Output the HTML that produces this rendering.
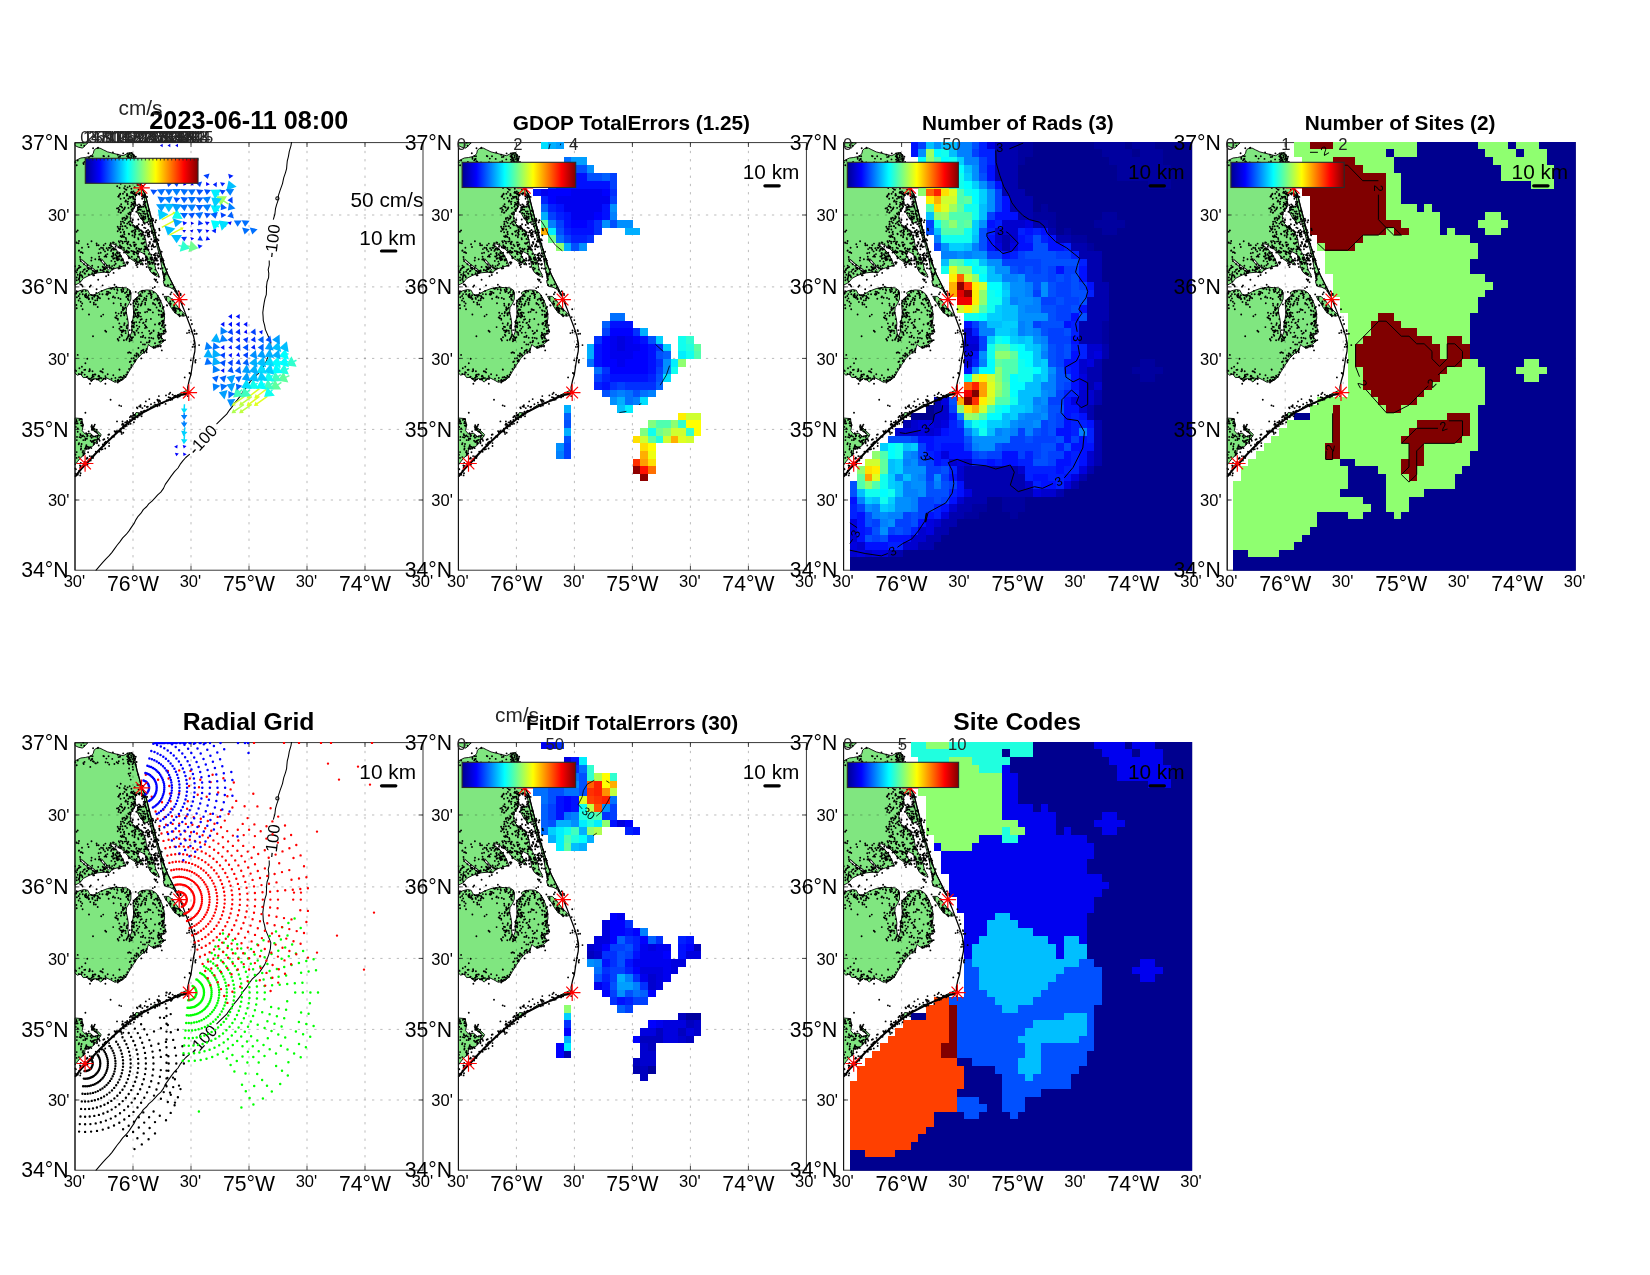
<!DOCTYPE html><html><head><meta charset="utf-8"><style>html,body{margin:0;padding:0;background:#fff}svg{display:block;will-change:transform;transform:translateZ(0)}text{font-family:"Liberation Sans",sans-serif}</style></head><body>
<svg width="1650" height="1275" viewBox="0 0 1650 1275">
<defs><linearGradient id="jet" x1="0" x2="1" y1="0" y2="0"><stop offset="0" stop-color="#00008F"/><stop offset="0.125" stop-color="#0000FF"/><stop offset="0.375" stop-color="#00FFFF"/><stop offset="0.625" stop-color="#FFFF00"/><stop offset="0.875" stop-color="#FF0000"/><stop offset="1" stop-color="#800000"/></linearGradient><g id="landfill"><path d="M-0.1 18.4 2.4 17.1 5.9 15.4 10.2 14.9 13.7 14.1 16.7 12.8 18.4 10.6 19.0 7.6 21.0 5.9 24.9 5.5 28.3 7.2 32.6 9.3 37.8 10.6 43.0 11.9 48.2 13.1 51.2 11.5 53.8 10.2 56.8 10.2 58.9 11.9 59.8 14.9 60.4 20.3 62.0 27.9 64.5 36.5 66.7 45.1 70.6 52.9 72.3 59.8 74.0 66.7 75.8 73.6 77.5 80.5 79.2 87.4 81.4 96.9 84.4 106.3 87.0 115.0 89.6 123.6 93.0 132.2 96.5 139.1 99.9 146.0 103.4 152.9 102.5 152.9 99.0 146.9 94.7 144.7 89.6 143.4 88.3 139.1 89.1 136.9 87.8 130.5 86.5 123.6 85.2 115.0 82.7 106.3 80.5 97.7 79.2 96.9 77.0 88.3 74.5 79.7 72.3 71.0 70.6 63.3 69.3 56.4 68.0 51.2 64.5 50.3 61.1 51.6 59.8 56.4 60.7 62.4 58.5 66.7 55.9 70.2 55.1 75.3 56.8 80.5 60.2 84.0 64.5 86.5 68.0 90.9 70.6 96.9 71.5 102.9 74.0 108.9 77.5 115.0 79.2 120.1 80.9 127.0 84.0 132.6 81.8 133.9 75.8 129.6 73.2 124.4 72.3 117.5 69.7 111.5 64.5 108.9 62.8 112.4 65.4 117.5 68.0 121.2 60.2 119.3 55.1 115.8 49.9 109.8 44.7 104.6 37.8 101.2 35.2 102.0 39.5 105.5 44.7 110.6 48.2 117.5 50.7 122.7 44.7 124.4 36.9 127.0 34.4 130.3 29.2 129.6 21.9 130.3 14.5 132.6 8.5 135.7 5.0 140.0 -0.1 142.6Z"/><path d="M-0.1 0.3 12.8 0.3 10.2 2.9 7.6 5.5 3.3 4.6 -0.1 2.9Z"/><path d="M-0.1 150.3 4.2 148.2 9.3 146.9 12.8 147.7 14.5 151.2 17.1 152.9 21.4 151.2 25.7 148.6 32.6 146.0 39.5 144.7 46.4 145.0 51.6 145.3 55.1 147.7 55.9 151.2 55.9 156.4 54.2 160.7 51.6 165.0 51.2 169.3 52.5 175.3 53.3 180.5 52.9 186.6 53.8 191.7 55.1 193.4 56.8 189.1 56.8 182.2 58.1 175.3 58.9 169.3 58.1 163.3 58.5 158.1 62.0 154.6 64.5 152.9 62.8 150.3 65.4 148.6 71.5 147.3 76.6 147.7 80.9 150.3 84.4 155.5 87.0 161.5 89.1 168.4 89.6 175.3 88.7 180.5 90.0 185.7 90.8 188.3 87.8 190.4 86.1 194.3 89.1 197.8 86.1 201.2 81.8 203.8 86.4 203.0 78.8 205.3 75.2 203.6 73.5 201.8 72.3 205.3 71.7 207.9 67.0 211.2 62.3 215.9 57.6 223.0 54.0 228.9 50.5 234.8 45.8 238.3 39.9 239.7 35.2 237.1 30.5 234.8 25.8 239.5 22.9 237.1 19.9 235.9 16.4 238.5 11.7 234.8 8.2 235.0 5.8 231.5 2.3 232.6 -0.1 230.3Z"/><path d="M-0.1 275.4 6.8 276.0 8.1 282.9 7.2 288.1 10.2 291.5 15.4 290.6 18.8 294.1 23.1 292.4 25.7 293.2 22.3 297.5 18.8 302.7 13.7 306.2 10.2 306.2 9.3 312.2 5.9 314.8 2.4 319.1 -0.1 322.6Z"/><path d="M15.8 283.7 18.0 284.2 26.2 291.9 25.3 293.7 22.3 290.6 17.1 287.2Z"/><path d="M89.1 153.8 93.9 153.8 98.2 158.1 103.4 165.0 107.7 169.3 111.1 172.8 108.5 173.6 104.2 172.8 99.9 170.2 96.5 165.8 93.0 159.8 90.4 156.4Z"/><path d="M62.8 64.1 70.6 63.3 72.3 71.0 74.0 78.8 69.7 80.5 65.4 75.3 62.0 69.3Z"/><path d="M101.8 252.6 111.7 247.7 113.0 250.5 110.0 252.2Z"/><path d="M57.7 276.2 61.0 269.9 66.4 270.4Z"/><path d="M73.8 266.6 78.8 262.5 85.3 260.9Z"/><path d="M95.2 256.8 99.3 253.8 103.5 253.0Z"/></g>
<clipPath id="axclip"><rect x="-0.6" y="-0.6" width="349.2" height="428.8"/></clipPath>
<clipPath id="landclip"><path d="M-0.1 18.4 2.4 17.1 5.9 15.4 10.2 14.9 13.7 14.1 16.7 12.8 18.4 10.6 19.0 7.6 21.0 5.9 24.9 5.5 28.3 7.2 32.6 9.3 37.8 10.6 43.0 11.9 48.2 13.1 51.2 11.5 53.8 10.2 56.8 10.2 58.9 11.9 59.8 14.9 60.4 20.3 62.0 27.9 64.5 36.5 66.7 45.1 70.6 52.9 72.3 59.8 74.0 66.7 75.8 73.6 77.5 80.5 79.2 87.4 81.4 96.9 84.4 106.3 87.0 115.0 89.6 123.6 93.0 132.2 96.5 139.1 99.9 146.0 103.4 152.9 102.5 152.9 99.0 146.9 94.7 144.7 89.6 143.4 88.3 139.1 89.1 136.9 87.8 130.5 86.5 123.6 85.2 115.0 82.7 106.3 80.5 97.7 79.2 96.9 77.0 88.3 74.5 79.7 72.3 71.0 70.6 63.3 69.3 56.4 68.0 51.2 64.5 50.3 61.1 51.6 59.8 56.4 60.7 62.4 58.5 66.7 55.9 70.2 55.1 75.3 56.8 80.5 60.2 84.0 64.5 86.5 68.0 90.9 70.6 96.9 71.5 102.9 74.0 108.9 77.5 115.0 79.2 120.1 80.9 127.0 84.0 132.6 81.8 133.9 75.8 129.6 73.2 124.4 72.3 117.5 69.7 111.5 64.5 108.9 62.8 112.4 65.4 117.5 68.0 121.2 60.2 119.3 55.1 115.8 49.9 109.8 44.7 104.6 37.8 101.2 35.2 102.0 39.5 105.5 44.7 110.6 48.2 117.5 50.7 122.7 44.7 124.4 36.9 127.0 34.4 130.3 29.2 129.6 21.9 130.3 14.5 132.6 8.5 135.7 5.0 140.0 -0.1 142.6Z"/><path d="M-0.1 0.3 12.8 0.3 10.2 2.9 7.6 5.5 3.3 4.6 -0.1 2.9Z"/><path d="M-0.1 150.3 4.2 148.2 9.3 146.9 12.8 147.7 14.5 151.2 17.1 152.9 21.4 151.2 25.7 148.6 32.6 146.0 39.5 144.7 46.4 145.0 51.6 145.3 55.1 147.7 55.9 151.2 55.9 156.4 54.2 160.7 51.6 165.0 51.2 169.3 52.5 175.3 53.3 180.5 52.9 186.6 53.8 191.7 55.1 193.4 56.8 189.1 56.8 182.2 58.1 175.3 58.9 169.3 58.1 163.3 58.5 158.1 62.0 154.6 64.5 152.9 62.8 150.3 65.4 148.6 71.5 147.3 76.6 147.7 80.9 150.3 84.4 155.5 87.0 161.5 89.1 168.4 89.6 175.3 88.7 180.5 90.0 185.7 90.8 188.3 87.8 190.4 86.1 194.3 89.1 197.8 86.1 201.2 81.8 203.8 86.4 203.0 78.8 205.3 75.2 203.6 73.5 201.8 72.3 205.3 71.7 207.9 67.0 211.2 62.3 215.9 57.6 223.0 54.0 228.9 50.5 234.8 45.8 238.3 39.9 239.7 35.2 237.1 30.5 234.8 25.8 239.5 22.9 237.1 19.9 235.9 16.4 238.5 11.7 234.8 8.2 235.0 5.8 231.5 2.3 232.6 -0.1 230.3Z"/><path d="M-0.1 275.4 6.8 276.0 8.1 282.9 7.2 288.1 10.2 291.5 15.4 290.6 18.8 294.1 23.1 292.4 25.7 293.2 22.3 297.5 18.8 302.7 13.7 306.2 10.2 306.2 9.3 312.2 5.9 314.8 2.4 319.1 -0.1 322.6Z"/><path d="M15.8 283.7 18.0 284.2 26.2 291.9 25.3 293.7 22.3 290.6 17.1 287.2Z"/><path d="M89.1 153.8 93.9 153.8 98.2 158.1 103.4 165.0 107.7 169.3 111.1 172.8 108.5 173.6 104.2 172.8 99.9 170.2 96.5 165.8 93.0 159.8 90.4 156.4Z"/><path d="M62.8 64.1 70.6 63.3 72.3 71.0 74.0 78.8 69.7 80.5 65.4 75.3 62.0 69.3Z"/></clipPath>
<g id="dots"><path d="M34.2 291.9h0M79.5 260.0h0M54.8 150.2h0M12.4 315.6h0M53.7 192.2h0M6.3 279.0h0M44.4 226.9h0M72.8 264.1h0M93.5 142.9h0M95.9 141.8h0M59.1 16.6h0M4.2 135.6h0M12.6 293.1h0M72.1 169.1h0M58.0 108.9h0M58.5 111.1h0M58.8 60.8h0M60.0 59.6h0M44.2 234.8h0M53.4 99.1h0M53.0 99.8h0M61.3 85.1h0M60.1 87.1h0M55.3 55.3h0M56.2 54.3h0M16.2 152.4h0M61.2 106.2h0M67.6 76.2h0M61.4 214.0h0M82.6 121.8h0M83.6 121.4h0M47.6 281.0h0M47.5 278.8h0M50.6 169.9h0M66.2 215.8h0M58.1 54.2h0M32.7 151.7h0M58.1 184.1h0M77.7 78.5h0M10.2 227.1h0M9.3 227.3h0M30.2 188.2h0M31.2 189.2h0M12.1 292.2h0M11.1 290.6h0M9.8 311.0h0M0.6 331.2h0M67.2 56.1h0M47.5 83.6h0M18.0 315.4h0M16.6 313.8h0M70.5 59.4h0M68.7 59.3h0M32.0 128.6h0M70.0 63.1h0M95.8 161.2h0M23.9 116.9h0M59.8 50.0h0M70.5 105.2h0M66.6 100.7h0M56.7 88.9h0M51.4 47.2h0M52.6 44.8h0M32.4 111.5h0M61.9 167.2h0M13.7 288.9h0M7.9 293.0h0M46.3 147.1h0M47.5 145.2h0M50.7 190.5h0M112.0 190.5h0M84.1 195.3h0M82.2 112.5h0M82.9 113.1h0M83.8 160.6h0M65.9 121.7h0M74.6 198.0h0M45.6 70.1h0M4.1 125.1h0M13.8 305.9h0M16.3 305.5h0M45.5 156.4h0M71.7 153.7h0M49.2 55.4h0M49.1 75.1h0M39.4 115.6h0M4.8 155.8h0M50.0 83.5h0M52.2 81.0h0M66.5 46.9h0M54.7 33.1h0M56.0 64.0h0M48.2 10.8h0M0.1 123.6h0M31.7 105.7h0M52.5 74.3h0M25.7 110.2h0M55.6 71.5h0M58.6 99.8h0M99.1 163.2h0M60.4 156.8h0M64.1 66.9h0M63.4 64.6h0M58.5 180.1h0M59.2 180.0h0M80.7 98.9h0M44.6 45.4h0M44.5 45.2h0M46.9 189.6h0M49.5 66.0h0M45.5 286.1h0M70.3 76.0h0M64.7 272.8h0M66.6 273.6h0M84.2 160.8h0M60.0 57.0h0M88.6 118.0h0M13.1 309.6h0M50.4 164.9h0M48.2 165.8h0M40.8 170.2h0M88.5 131.1h0M55.5 69.8h0M54.9 69.8h0M46.6 184.4h0M44.4 186.2h0M5.4 141.8h0M7.5 143.6h0M33.9 105.1h0M31.6 151.4h0M74.0 67.9h0M66.3 73.2h0M40.7 121.2h0M84.5 262.9h0M58.6 18.7h0M57.1 275.2h0M54.9 274.7h0M83.6 167.6h0M55.0 277.4h0M68.8 209.2h0M64.2 153.2h0M65.8 153.3h0M59.4 93.5h0M86.3 191.1h0M84.7 191.7h0M95.1 255.2h0M5.3 291.5h0M83.2 195.0h0M1.4 162.4h0M95.5 151.6h0M96.5 149.8h0M88.6 198.0h0M23.5 154.6h0M118.5 201.9h0M29.7 300.1h0M29.6 302.1h0M33.7 156.1h0M68.0 148.0h0M44.5 227.1h0M68.7 80.2h0M86.2 193.5h0M88.3 191.3h0M8.3 312.7h0M60.5 166.7h0M41.7 173.1h0M6.4 283.0h0M8.0 282.4h0M42.2 43.6h0M71.0 207.8h0M55.7 37.0h0M59.4 99.8h0M58.9 168.7h0M59.3 170.2h0M12.5 122.4h0M82.4 257.1h0M106.9 250.0h0M77.9 120.3h0M60.2 171.6h0M32.0 125.0h0M85.2 163.7h0M60.0 170.6h0M70.3 54.2h0M72.2 54.3h0M71.2 156.1h0M24.2 309.2h0M2.6 149.0h0M7.4 134.6h0M46.0 69.8h0M91.8 162.5h0M15.8 142.9h0M14.8 144.1h0M71.4 177.0h0M70.9 178.9h0M63.4 211.8h0M63.4 205.4h0M59.0 181.1h0M54.5 198.6h0M54.7 198.4h0M73.3 94.2h0M1.7 278.6h0M2.7 212.3h0M22.0 297.1h0M64.7 64.3h0M73.7 81.6h0M72.3 79.9h0M43.0 114.0h0M41.3 115.1h0M32.8 20.0h0M70.1 51.5h0M85.6 260.6h0M36.3 125.7h0M83.7 259.4h0M85.2 258.5h0M53.1 105.1h0M54.4 105.8h0M84.8 199.8h0M85.6 198.6h0M15.8 17.8h0M17.3 16.4h0M85.8 194.4h0M83.8 196.2h0M18.7 301.4h0M86.0 194.9h0M73.0 73.7h0M51.2 232.1h0M51.7 232.0h0M58.7 15.7h0M60.2 16.1h0M69.5 94.7h0M68.1 96.4h0M86.4 174.4h0M87.6 173.4h0M65.4 107.1h0M63.7 108.9h0M60.6 173.4h0M22.3 290.5h0M22.8 293.0h0M103.9 253.6h0M55.3 17.2h0M36.0 108.3h0M19.1 286.7h0M18.1 286.8h0M71.7 206.4h0M101.0 168.3h0M63.1 65.1h0M67.5 101.1h0M62.1 86.4h0M62.0 85.9h0M23.0 236.7h0M21.4 129.9h0M45.4 84.2h0M19.1 132.7h0M18.2 132.7h0M54.4 11.5h0M52.5 10.9h0M1.3 277.4h0M67.2 52.7h0M50.6 83.7h0M58.4 20.2h0M48.4 146.7h0M57.4 16.5h0M55.2 197.4h0M51.8 52.9h0M100.4 169.8h0M100.4 169.2h0M106.3 158.8h0M107.5 161.0h0M72.6 266.8h0M61.5 212.8h0M76.8 115.1h0M75.4 116.3h0M10.5 154.5h0M67.0 53.8h0M48.9 94.1h0M76.8 106.6h0M17.5 156.3h0M73.4 151.0h0M50.2 279.8h0M52.2 278.4h0M57.5 21.7h0M70.0 92.8h0M67.5 90.5h0M88.4 172.3h0M45.5 184.2h0M78.5 98.9h0M79.7 99.2h0M63.9 173.6h0M17.8 128.1h0M73.2 119.0h0M59.1 16.1h0M1.8 137.6h0M6.6 149.3h0M47.5 76.5h0M38.6 160.7h0M70.7 114.5h0M49.4 166.1h0M78.1 103.1h0M80.0 181.9h0M90.3 187.4h0M25.1 235.4h0M54.7 43.6h0M68.4 89.6h0M70.6 89.8h0M19.1 283.4h0M19.8 282.0h0M80.3 113.1h0M56.6 67.2h0M57.5 68.5h0M32.4 151.6h0M71.3 208.0h0M71.6 209.7h0M85.7 186.3h0M78.8 161.0h0M55.1 102.2h0M47.9 164.6h0M47.7 167.1h0M47.5 75.7h0M0.8 284.3h0M57.9 83.0h0M82.6 96.6h0M20.8 161.9h0M79.8 144.4h0M77.8 145.5h0M54.1 115.0h0M9.9 319.3h0M95.2 158.9h0M97.1 156.5h0M5.1 114.4h0M5.3 116.5h0M37.8 110.7h0M65.7 71.1h0M25.0 155.6h0M43.5 197.9h0M8.0 322.6h0M9.1 321.8h0M89.5 188.1h0M22.7 293.5h0M57.6 54.0h0M75.5 83.8h0M77.1 82.9h0M25.4 228.6h0M10.0 131.2h0M46.6 104.1h0M62.0 110.9h0M63.1 111.0h0M50.6 161.3h0M13.0 304.3h0M11.3 303.5h0M78.3 84.4h0M66.4 208.3h0M67.6 207.5h0M15.7 298.2h0M87.4 181.6h0M87.8 179.3h0M2.8 285.9h0M56.4 46.1h0M63.9 271.4h0M28.7 102.6h0M74.1 76.2h0M75.8 77.4h0M42.6 237.8h0M44.2 238.7h0M61.4 122.6h0M60.5 51.9h0M38.3 116.2h0M59.5 83.6h0M61.9 84.8h0M7.7 151.7h0M67.7 194.4h0M65.9 194.3h0M38.2 184.5h0M91.0 252.8h0M70.6 104.2h0M70.4 105.5h0M78.4 86.4h0M20.2 293.9h0M22.6 296.3h0M40.4 235.3h0M58.2 88.0h0M54.1 25.9h0M65.6 177.1h0M41.1 112.8h0M73.4 102.7h0M50.0 43.5h0M58.0 272.7h0M2.7 17.9h0M69.1 210.1h0M67.4 149.9h0M74.3 167.0h0M73.5 167.3h0M16.6 115.1h0M72.8 91.6h0M97.7 158.0h0M75.4 149.7h0M68.2 73.6h0M66.1 75.6h0M61.6 19.4h0M14.1 228.6h0M14.8 228.1h0M54.1 91.3h0M19.5 130.4h0M67.0 271.1h0M1.6 315.3h0M71.9 264.4h0M24.2 114.2h0M16.5 98.7h0M74.0 199.6h0M60.8 120.6h0M57.3 89.1h0M5.5 124.4h0M60.9 101.9h0M59.5 103.6h0M68.5 100.8h0M69.8 148.6h0M44.3 238.3h0M44.6 289.0h0M80.7 89.9h0M80.0 87.5h0M66.6 92.2h0M52.0 51.4h0M62.7 164.4h0M26.1 117.9h0M25.2 116.7h0M10.8 304.5h0M11.7 306.3h0M43.2 54.0h0M80.0 200.6h0M79.7 118.2h0M58.4 48.8h0M103.0 166.1h0M5.8 323.4h0M83.1 203.9h0M57.0 187.4h0M25.3 306.1h0M25.1 306.5h0M69.3 68.9h0M49.9 64.8h0M67.9 77.0h0M67.6 75.2h0M9.7 232.0h0M71.9 116.0h0M31.1 300.5h0M30.9 299.1h0M49.2 89.2h0M59.1 272.4h0M58.7 215.7h0M114.5 230.4h0M115.4 231.2h0M15.3 159.4h0M82.9 258.2h0M73.2 166.7h0M18.8 160.2h0M18.9 161.9h0M17.9 284.6h0M18.4 285.9h0M37.6 145.3h0M38.2 111.5h0M40.4 111.6h0M100.3 253.2h0M99.2 253.3h0M59.3 17.4h0M74.5 119.0h0M75.4 167.4h0M12.7 101.7h0M52.9 19.0h0M47.7 68.1h0M9.9 126.5h0M60.7 160.6h0M61.0 161.5h0M42.3 117.7h0M72.6 90.9h0M74.6 88.8h0M60.2 102.1h0M59.8 91.1h0M64.0 61.8h0M65.2 62.9h0M84.4 106.9h0M2.7 87.8h0M1.5 89.1h0M74.7 150.8h0M22.2 127.9h0M45.6 56.2h0M37.9 154.7h0M76.5 125.9h0M13.7 131.8h0M59.4 116.9h0M61.8 118.7h0M28.8 129.0h0M58.9 109.7h0M58.9 109.2h0M104.2 171.9h0M1.8 297.5h0M88.4 177.9h0M8.2 0.0h0M66.4 64.5h0M59.2 111.7h0M59.7 109.5h0M39.3 122.6h0M48.0 167.6h0M47.9 165.5h0M1.7 165.7h0M60.7 149.3h0M67.7 115.9h0M68.3 117.9h0M63.4 190.2h0M63.5 161.7h0M63.2 162.2h0M0.3 19.6h0M63.0 65.1h0M50.0 77.5h0M47.9 78.9h0M44.3 180.8h0M1.5 148.6h0M1.5 129.8h0M2.7 132.1h0M46.6 237.3h0M52.4 152.1h0M50.0 150.4h0M16.3 238.3h0M19.4 153.4h0M40.6 289.1h0M42.0 288.4h0M7.2 160.9h0M6.2 163.3h0M44.8 125.7h0M43.5 125.9h0M67.0 88.5h0M40.4 290.0h0M88.7 121.8h0M76.0 261.7h0M66.1 269.2h0M66.8 271.1h0M20.1 297.3h0M18.4 299.2h0M5.8 320.4h0M52.4 52.6h0M54.5 54.2h0M51.1 170.2h0M68.2 193.1h0M70.3 195.2h0M101.1 165.9h0M98.4 167.1h0M53.5 65.3h0M20.3 20.7h0M18.8 19.1h0M37.6 114.1h0M63.7 51.3h0M56.4 108.3h0M67.7 43.3h0M68.6 180.2h0M57.4 79.6h0M86.9 173.2h0M88.4 172.2h0M45.9 173.2h0M43.6 171.0h0M13.6 155.5h0M11.3 153.2h0M47.9 16.8h0M42.1 109.6h0M44.2 110.3h0M12.2 315.1h0M80.8 156.0h0M82.5 158.0h0M82.2 155.8h0M69.9 201.9h0M68.9 157.2h0M46.7 148.4h0M5.0 139.0h0M65.5 262.7h0M68.0 180.5h0M69.9 182.3h0M64.4 118.7h0M56.8 114.2h0M74.2 67.7h0M88.1 120.1h0M72.9 116.5h0M14.0 15.0h0M14.1 16.1h0M89.0 135.4h0M89.0 133.6h0M60.0 192.3h0M58.0 194.6h0M1.7 22.7h0M58.0 183.3h0M63.6 172.4h0M63.8 173.3h0M42.5 147.9h0M65.8 67.1h0M61.9 264.8h0M62.7 121.6h0M36.4 146.3h0M35.4 145.8h0M76.8 117.1h0M75.5 114.9h0M12.1 128.2h0M52.4 17.0h0M54.0 17.9h0M17.0 285.1h0M16.9 287.1h0M61.3 69.2h0M20.7 152.8h0M22.6 153.4h0M63.9 114.3h0M69.8 99.5h0M54.6 115.0h0M54.0 115.6h0M69.5 155.4h0M68.2 268.9h0M49.0 110.0h0M9.6 130.6h0M43.8 54.1h0M44.5 100.0h0M40.3 238.2h0M87.7 198.2h0M42.0 65.8h0M99.8 167.7h0M53.1 157.0h0M59.1 181.3h0M88.4 173.2h0M13.4 10.7h0M52.8 156.2h0M53.5 154.0h0M30.2 113.6h0M78.1 161.2h0M78.0 160.4h0M68.3 76.1h0M70.4 74.2h0M88.2 198.6h0M90.1 197.5h0M60.0 272.9h0M62.4 124.5h0M70.8 116.5h0M61.5 188.0h0M62.5 274.0h0M64.2 272.5h0M35.7 100.6h0M45.7 41.1h0M43.4 104.8h0M45.7 105.7h0M27.5 151.7h0M98.8 166.2h0M20.4 231.9h0M17.9 232.1h0M53.8 91.1h0M5.3 324.8h0M5.0 322.9h0M86.8 183.1h0M5.8 295.0h0M3.9 108.1h0M5.7 109.6h0M94.1 251.5h0M61.5 52.5h0M64.6 271.5h0M67.4 265.5h0M16.5 16.7h0M63.9 42.4h0M70.9 183.8h0M53.4 56.1h0M84.6 113.8h0M17.8 152.7h0M19.9 152.8h0M113.6 250.2h0M69.7 81.1h0M84.3 168.2h0M14.0 171.9h0M43.5 65.3h0M18.9 297.9h0M21.9 299.2h0M22.1 299.6h0M54.6 81.6h0M57.7 178.0h0M64.8 50.7h0M67.1 52.3h0M42.9 113.8h0M17.6 13.6h0M15.9 13.5h0M30.8 112.6h0M29.5 114.0h0M18.1 293.9h0M64.0 70.4h0M75.8 264.9h0M22.7 5.3h0M23.1 5.0h0M32.0 149.1h0M24.7 116.6h0M40.8 106.8h0M65.6 264.3h0M73.5 107.1h0M15.5 304.5h0M68.6 100.3h0M45.6 187.8h0M63.7 213.2h0M62.5 174.9h0M66.8 176.5h0M20.9 20.8h0M53.1 210.1h0M42.7 84.1h0M80.7 138.2h0M79.5 136.6h0M76.6 88.6h0M68.4 207.0h0M62.8 186.2h0M27.7 124.1h0M58.7 65.5h0M19.9 288.6h0M21.8 287.0h0M24.6 298.2h0M24.1 296.7h0M78.9 92.6h0M32.2 152.2h0M59.0 163.0h0M78.6 187.8h0M45.7 93.7h0M58.4 56.3h0M60.1 56.9h0M38.2 110.4h0M75.9 176.4h0M63.3 76.9h0M52.5 182.6h0M56.1 12.7h0M53.9 14.5h0M89.8 142.7h0M81.2 137.2h0M82.4 139.6h0M37.4 106.0h0M37.4 293.9h0M66.3 106.2h0M15.2 236.3h0M51.3 154.4h0M85.1 162.6h0M29.3 124.8h0M70.8 121.1h0M24.3 233.7h0M23.5 236.2h0M42.8 176.0h0M69.1 85.0h0M27.6 142.8h0M75.0 120.7h0M45.9 234.4h0M42.6 110.9h0M103.5 172.1h0M7.2 293.6h0M76.6 112.0h0M49.1 182.3h0M63.0 67.6h0M12.3 216.2h0M63.7 81.6h0M7.2 133.7h0M46.1 113.7h0M35.6 257.1h0M58.9 12.8h0M87.4 260.4h0M105.8 157.0h0M21.6 100.8h0M21.8 102.6h0M22.6 19.9h0M89.2 135.6h0M89.6 133.5h0M19.7 231.9h0M34.8 124.6h0M57.4 92.9h0M59.5 94.6h0M23.6 110.7h0M115.8 217.6h0M1.7 134.9h0M78.7 205.3h0M80.3 204.9h0M37.3 126.9h0M84.3 181.3h0M10.0 153.5h0M4.4 277.3h0M70.4 117.9h0M57.8 65.9h0M13.6 104.4h0M1.7 309.5h0M20.0 152.6h0M65.6 91.0h0M67.5 92.1h0M46.5 169.3h0M48.9 170.5h0M1.2 228.3h0M0.5 227.8h0M48.1 283.9h0M47.1 282.1h0M23.2 137.2h0M87.9 165.1h0M30.6 235.5h0M38.0 99.8h0M6.6 301.4h0M4.1 300.5h0M18.2 314.1h0M16.7 235.2h0M63.9 106.2h0M64.3 106.6h0M83.9 253.5h0M78.0 130.6h0M67.3 82.4h0M15.3 24.3h0M59.2 17.9h0M77.8 90.1h0M102.7 254.8h0M101.4 254.0h0M33.7 297.3h0M43.3 114.1h0M86.8 207.8h0M56.5 49.1h0M9.1 121.6h0M95.7 161.3h0M13.2 125.5h0M13.7 126.7h0M12.5 125.4h0M12.4 123.0h0M77.1 88.4h0M67.1 190.0h0M72.5 92.9h0M72.8 68.1h0M51.7 75.9h0M43.5 69.3h0M50.8 75.9h0M51.7 73.5h0M54.0 71.6h0M103.3 252.5h0M69.3 52.8h0M69.2 54.6h0M77.0 103.0h0M33.4 129.5h0M48.5 20.9h0M62.9 172.8h0M62.7 171.4h0M78.6 149.9h0M4.1 107.8h0M58.2 20.7h0M45.0 14.2h0M43.5 14.5h0M53.5 279.8h0M59.4 164.0h0M51.6 149.4h0M28.3 297.1h0M29.3 296.7h0M65.1 118.5h0M103.1 166.2h0M56.7 197.7h0M56.9 196.0h0M51.7 108.2h0M96.0 256.5h0M7.7 148.4h0M48.0 117.8h0M78.6 130.1h0M11.8 234.4h0M63.1 85.5h0M14.0 132.2h0M50.3 109.2h0M66.9 117.8h0M65.3 117.5h0M75.1 191.1h0M76.5 190.1h0M52.6 101.6h0M71.7 89.2h0M73.1 87.4h0M53.6 79.7h0M55.1 78.7h0M41.7 19.7h0M39.4 21.4h0M56.1 19.1h0M52.3 185.5h0M97.9 165.3h0M83.9 168.1h0M46.3 170.5h0M68.7 100.5h0M7.7 129.1h0M15.7 317.9h0M82.8 193.3h0M84.5 192.6h0M84.6 192.7h0M67.5 68.8h0M53.3 13.3h0M53.3 12.5h0M0.9 326.7h0M0.0 325.9h0M64.0 86.5h0M93.3 257.8h0M91.8 257.7h0M58.8 184.6h0M57.0 187.9h0M54.7 187.5h0M56.0 50.1h0M17.6 234.2h0M17.6 233.1h0M5.4 129.5h0M0.4 279.6h0M0.1 280.9h0M44.5 123.6h0M87.7 178.1h0M73.5 90.2h0M71.5 88.4h0M45.2 51.2h0M38.6 130.3h0M1.9 154.7h0M69.3 61.1h0M9.2 3.2h0M62.0 157.0h0M62.1 155.1h0M45.6 237.2h0M7.6 166.7h0M46.4 192.0h0M88.0 180.7h0M57.9 12.3h0M80.3 97.2h0M73.7 76.6h0M76.7 151.9h0M75.5 150.5h0M21.0 289.2h0M73.5 72.5h0M56.8 179.3h0M48.1 188.8h0M48.0 51.1h0M58.0 27.1h0M62.4 119.7h0M70.4 74.5h0M7.7 110.4h0M6.6 109.5h0M50.6 109.5h0M76.2 155.4h0M76.5 154.2h0M77.9 169.8h0M51.4 197.1h0M48.9 197.7h0M88.3 184.6h0M31.4 114.1h0M67.8 121.9h0M69.1 106.9h0M69.4 108.8h0M69.3 111.1h0M48.9 105.3h0M50.1 123.2h0M50.2 123.2h0M40.9 101.5h0M38.8 100.2h0M79.7 115.9h0M79.9 115.2h0M61.5 210.8h0M80.9 110.6h0M83.2 110.7h0M42.2 146.7h0M57.5 66.3h0M63.1 95.5h0M63.4 96.7h0M104.7 173.7h0M56.3 194.9h0M55.3 194.1h0M98.4 145.2h0M83.2 114.5h0M81.8 116.2h0M61.2 173.6h0M57.7 24.3h0M2.7 280.8h0M1.8 278.9h0M80.2 162.2h0M68.0 201.8h0M64.3 184.1h0M89.0 137.8h0M12.2 234.0h0M13.7 235.9h0M10.4 270.2h0M15.0 241.2h0M33.4 132.4h0M31.1 133.6h0M84.9 160.2h0M48.2 148.7h0M43.6 85.9h0M50.3 283.8h0M10.4 220.6h0M104.6 166.7h0M84.0 180.9h0M84.9 180.3h0M62.5 159.1h0M61.4 158.5h0M27.4 237.5h0M66.5 153.5h0M19.3 300.3h0M16.9 299.4h0M79.4 97.6h0M45.7 89.7h0M49.8 99.0h0M89.3 171.5h0M88.0 172.0h0M72.0 116.2h0M12.8 154.3h0M12.0 155.2h0M50.8 171.0h0M6.1 305.9h0M28.5 303.4h0M44.2 116.5h0M46.7 94.5h0M16.8 282.7h0M39.6 288.5h0M85.0 180.7h0M84.1 181.6h0M86.2 118.9h0M87.7 116.9h0M64.5 179.7h0M46.5 116.9h0M11.5 316.1h0M13.5 318.4h0M23.6 102.7h0M49.0 171.5h0M7.5 230.0h0M6.8 229.7h0M16.3 117.9h0M91.2 157.2h0M18.7 132.7h0M17.2 130.7h0M55.6 150.3h0M58.7 272.4h0M91.0 130.3h0M50.4 46.8h0M16.0 125.7h0M33.0 151.2h0M1.9 281.0h0M66.0 153.4h0M87.9 129.7h0M4.2 137.3h0M28.8 236.1h0M30.6 236.5h0M48.8 283.4h0M18.7 236.5h0M52.1 176.5h0M20.8 309.0h0M50.9 57.8h0M53.0 59.0h0M4.1 123.0h0M42.9 177.1h0M41.3 175.7h0M54.8 219.4h0M66.7 148.7h0M43.9 67.3h0M70.8 258.8h0M45.1 51.8h0M87.3 198.5h0M57.8 76.8h0M100.4 148.4h0M58.6 51.3h0M44.5 67.3h0M4.7 151.5h0M68.2 54.5h0M109.1 250.3h0M62.2 170.3h0M109.7 234.8h0M79.7 130.8h0M60.6 117.8h0M95.2 256.9h0M95.6 257.4h0M34.2 21.9h0M97.6 252.0h0M95.2 250.1h0M56.4 222.4h0M52.6 194.9h0M54.6 196.4h0M54.2 15.4h0M68.4 70.8h0M54.1 226.4h0M51.7 185.4h0M64.5 64.6h0M62.1 62.7h0M66.7 160.9h0M74.3 256.5h0M17.9 18.6h0M41.5 116.3h0M42.0 114.4h0M53.7 15.6h0M29.0 125.5h0M31.3 151.8h0M33.5 149.4h0M99.7 165.1h0M98.4 165.1h0M88.7 179.8h0M30.4 233.5h0M104.8 253.6h0M39.9 119.0h0M63.6 47.0h0M47.7 100.6h0M47.5 99.0h0M21.3 150.4h0M45.3 103.6h0M44.8 105.3h0M89.4 131.6h0M70.0 96.8h0M45.1 13.6h0M42.8 12.1h0M34.9 105.3h0M82.7 118.0h0M80.6 117.0h0M6.7 276.7h0M5.2 276.7h0M82.2 157.0h0M51.5 279.7h0M59.1 20.0h0M65.9 199.5h0M69.7 149.0h0M72.1 71.2h0M3.8 136.7h0M51.5 119.8h0M52.5 147.4h0M51.1 96.5h0M34.9 102.6h0M19.8 129.4h0M84.0 257.5h0M68.2 64.2h0M53.2 153.5h0M52.5 153.3h0M85.6 203.9h0M57.8 12.2h0M79.6 131.1h0M43.4 155.4h0M54.1 109.7h0M59.6 189.9h0M58.5 189.3h0M28.6 107.2h0M27.9 105.4h0M29.7 126.6h0M55.8 210.3h0M54.4 209.7h0M63.3 32.3h0M38.5 105.8h0M40.6 104.2h0M62.4 42.3h0M45.9 81.9h0M60.3 91.9h0M76.5 117.4h0M78.5 149.6h0M57.7 61.4h0M0.5 312.1h0M45.9 98.3h0M43.9 98.7h0M78.2 77.7h0M62.7 108.6h0M61.4 109.9h0M8.3 297.5h0M59.4 63.9h0M58.6 62.5h0M4.4 225.6h0M6.9 224.2h0M69.9 59.4h0M66.5 161.3h0M0.4 128.5h0M49.1 45.5h0M62.4 108.2h0M83.1 114.1h0M75.6 78.7h0M50.3 162.4h0M22.2 157.6h0M22.5 155.9h0M5.5 292.5h0M4.5 294.5h0M80.8 97.5h0M10.7 148.3h0M89.8 142.3h0M74.4 99.6h0M47.8 86.9h0M55.6 82.6h0M46.2 117.9h0M47.8 116.6h0M26.7 148.4h0M53.2 193.7h0M39.6 106.5h0M76.6 104.0h0M77.8 101.7h0M4.9 131.4h0M6.4 132.7h0M41.8 150.5h0M51.9 196.0h0M65.7 162.9h0M45.8 288.3h0M36.4 118.3h0M58.9 170.2h0M65.5 151.7h0M57.5 180.4h0M59.0 272.3h0M57.4 274.5h0M31.9 129.3h0M116.5 188.8h0M114.1 190.0h0M3.5 100.6h0M4.0 98.4h0M71.8 185.0h0M71.2 184.2h0M87.5 182.6h0M89.6 136.9h0M62.6 274.6h0M8.1 308.3h0M7.6 309.7h0M8.7 127.3h0M71.7 124.4h0M2.0 294.3h0M83.1 101.4h0M49.1 107.3h0M46.9 105.2h0M58.8 183.5h0M56.8 183.9h0M44.6 194.7h0M74.1 195.2h0M61.7 188.2h0M57.9 77.3h0M61.9 210.9h0M84.0 157.0h0M85.5 158.2h0M62.4 265.6h0M80.9 115.7h0M81.7 117.9h0M54.0 91.6h0M54.9 148.6h0M42.0 278.8h0M42.8 239.9h0M53.6 31.1h0M55.4 30.5h0M65.9 174.0h0M12.0 304.1h0M5.8 280.7h0M5.7 118.4h0M30.0 108.8h0M59.1 102.3h0M56.0 273.4h0M49.0 66.7h0M47.2 64.9h0M30.4 126.1h0M28.7 126.9h0M42.7 196.4h0M64.5 156.5h0M52.1 13.7h0M12.2 293.6h0M11.9 296.1h0M6.3 231.7h0M28.4 13.4h0M108.0 172.7h0M107.7 171.7h0M53.1 14.7h0M105.3 168.0h0M80.5 94.7h0M47.0 188.2h0M71.2 113.9h0M53.3 70.9h0M98.9 166.0h0M51.6 183.5h0M39.3 146.6h0M2.4 126.6h0M30.6 19.6h0M22.7 164.4h0M58.3 14.1h0M46.2 61.7h0M27.4 127.9h0M60.3 88.5h0M60.3 89.1h0M81.0 203.3h0M22.2 294.4h0M47.5 93.9h0M69.3 268.0h0M29.5 121.7h0M2.2 127.6h0M66.4 93.3h0M38.4 153.9h0M3.9 231.4h0M55.3 151.3h0M55.7 161.8h0M21.6 236.7h0M61.8 183.0h0M19.3 128.5h0M49.2 172.6h0M44.6 112.6h0M44.7 110.2h0M86.3 168.7h0M65.9 210.2h0M94.5 160.5h0M92.1 162.9h0M88.2 170.2h0M6.2 2.5h0M0.3 333.7h0M59.6 212.9h0M38.7 125.7h0M46.0 162.9h0M45.8 161.0h0M7.0 105.1h0M36.6 236.2h0M43.0 20.6h0M84.3 199.3h0M63.9 119.7h0M3.6 157.9h0M5.7 159.2h0M36.7 125.9h0M37.1 123.5h0M68.6 61.7h0M74.7 93.8h0M79.6 115.2h0M77.6 117.0h0M5.9 307.0h0M47.6 281.4h0M90.4 182.7h0M60.5 22.0h0M26.4 306.9h0M27.6 306.5h0M59.2 59.0h0M60.3 61.3h0M11.4 302.6h0M71.1 157.7h0M7.4 283.5h0M92.0 126.5h0M59.5 52.0h0M49.5 180.7h0M16.3 292.7h0M79.0 92.5h0M80.1 95.0h0M42.7 88.6h0M44.4 87.2h0M28.3 124.8h0M53.5 113.8h0M47.7 236.3h0M49.0 234.2h0M3.7 153.4h0M59.7 191.4h0M58.2 160.5h0M43.5 117.1h0M30.9 125.5h0M80.3 127.0h0M29.4 301.4h0M29.1 302.8h0M37.3 16.3h0M53.7 157.5h0M73.6 120.0h0M74.9 121.5h0M50.1 188.1h0M114.1 187.9h0M69.6 103.8h0M40.3 174.8h0M3.7 125.5h0M52.0 85.3h0M12.2 321.2h0M7.3 280.7h0M83.9 134.1h0M2.7 289.2h0M55.8 75.5h0M57.7 77.5h0M4.8 133.0h0M52.3 121.1h0M51.9 120.1h0M69.7 263.3h0M86.7 196.0h0M71.9 105.2h0M70.5 106.4h0M59.1 218.4h0M60.8 14.2h0M78.3 195.9h0M87.6 125.5h0M13.8 156.7h0M59.7 85.0h0M61.6 83.7h0M50.8 95.4h0M49.0 94.4h0M68.8 77.1h0M68.5 79.3h0M10.5 295.9h0M86.1 117.3h0M24.5 151.5h0M59.3 158.8h0M61.7 156.7h0M78.4 119.9h0M23.4 233.8h0M76.4 195.3h0M70.9 268.2h0M18.0 193.6h0M14.7 226.6h0M100.5 166.9h0M98.3 166.1h0M54.8 10.8h0M56.7 10.4h0M18.6 234.0h0M52.8 110.3h0M51.8 108.0h0M74.4 148.5h0M71.9 199.9h0M67.4 158.8h0M72.3 106.9h0M78.8 205.0h0M78.2 204.5h0M60.5 88.7h0M59.5 90.0h0M70.0 185.5h0M93.6 254.6h0M64.2 91.9h0M36.3 103.9h0M4.2 328.1h0M45.3 86.3h0M48.9 89.8h0M74.9 101.2h0M79.8 132.0h0M81.3 131.5h0M53.0 119.8h0M52.4 119.5h0M78.6 188.4h0M88.0 171.5h0M79.7 90.2h0M32.7 231.6h0M48.3 187.6h0M11.5 128.7h0M88.0 151.8h0M56.5 18.9h0M55.1 16.9h0M14.1 156.4h0M56.6 60.0h0M82.9 202.8h0M18.1 5.6h0M75.9 80.8h0M41.2 144.2h0M39.5 142.1h0M60.1 218.8h0M60.2 217.4h0M36.7 107.2h0M74.2 91.9h0M74.2 89.8h0M64.0 155.9h0M63.5 169.8h0M65.2 170.3h0M79.3 157.2h0M56.5 62.3h0M72.0 114.6h0M68.8 74.6h0M83.0 122.2h0M1.0 151.2h0M1.2 150.7h0M21.6 146.7h0M74.7 121.5h0M108.0 172.1h0M34.2 122.9h0M31.8 123.1h0M30.4 241.2h0M17.2 155.4h0M19.2 154.2h0M75.0 99.5h0M23.9 236.5h0M117.5 204.3h0M63.0 84.8h0M38.9 107.2h0M6.1 303.7h0M3.7 301.7h0M17.5 228.6h0M48.7 281.8h0M77.7 76.2h0M43.8 18.6h0M75.2 127.2h0M8.7 321.0h0M70.7 64.8h0M81.6 164.9h0M84.3 181.8h0M59.7 44.7h0M36.7 113.8h0M38.5 112.8h0M80.4 121.2h0M80.4 121.5h0M53.6 18.5h0M47.5 235.0h0M48.9 233.0h0M73.7 103.6h0M74.2 188.4h0M52.3 59.3h0M14.3 316.9h0M13.8 318.1h0M88.4 188.4h0M100.0 169.6h0M64.1 88.4h0M22.3 128.7h0M23.7 302.9h0M22.0 300.7h0M52.1 100.7h0M51.3 98.5h0M33.4 292.1h0M47.0 193.2h0M76.7 119.8h0M66.3 162.2h0M86.8 116.2h0M37.9 9.8h0M78.8 92.4h0M76.9 90.4h0M29.0 13.6h0M10.2 297.4h0M35.1 150.4h0M95.6 162.2h0M89.5 190.8h0M90.8 189.1h0M6.5 142.2h0M7.6 144.0h0M3.9 314.5h0M30.3 300.4h0M52.4 229.6h0M30.4 101.0h0M27.8 301.8h0M23.2 124.4h0M77.5 121.3h0M53.0 20.4h0M79.9 111.4h0M57.5 276.2h0M43.9 52.8h0M27.9 226.5h0M60.5 53.0h0M53.6 281.7h0M9.9 152.7h0M11.1 151.4h0M51.7 283.3h0M25.5 127.7h0M25.5 127.0h0M8.5 310.8h0M8.5 311.2h0M24.5 106.5h0M26.1 105.2h0M74.6 198.8h0M83.5 190.2h0M83.4 192.0h0M26.6 228.9h0M27.7 229.8h0M47.0 149.5h0M48.4 120.5h0M44.3 262.8h0M46.2 263.5h0M62.4 83.3h0M61.3 156.7h0M57.2 50.2h0M57.5 50.5h0M74.0 111.4h0M16.6 295.2h0M15.5 293.7h0M47.5 92.9h0M49.4 91.6h0M55.6 218.9h0M9.4 294.0h0M2.8 332.2h0M78.6 99.0h0M76.3 96.7h0M65.9 87.5h0M14.7 313.5h0M40.0 155.2h0M10.1 305.8h0M20.2 157.8h0M38.3 232.6h0M54.4 21.8h0M54.0 21.6h0M44.9 113.9h0M42.8 116.2h0M74.9 125.0h0M71.3 117.3h0M32.9 107.4h0M70.2 160.2h0M26.2 173.7h0M28.2 172.0h0M51.6 109.5h0M53.3 109.1h0M60.5 167.5h0M44.9 102.6h0M49.2 80.3h0M89.4 135.7h0M119.5 204.1h0M75.8 152.5h0M70.4 85.5h0M50.5 234.4h0M45.9 79.1h0M74.4 69.0h0M54.1 152.1h0M56.1 224.6h0M79.1 89.9h0M17.5 152.8h0M50.5 188.3h0M70.3 73.9h0M32.9 129.8h0M70.9 121.3h0M17.1 237.2h0M70.1 169.6h0M58.7 158.0h0M70.1 71.4h0M46.4 64.0h0M44.9 63.5h0M43.1 237.1h0M48.8 123.0h0M62.8 114.2h0M61.6 116.3h0M64.4 51.9h0M70.2 161.9h0M49.5 49.3h0M16.3 125.6h0M17.2 123.1h0M56.3 14.3h0M58.1 270.4h0M46.0 237.2h0M83.4 125.6h0M85.7 126.1h0M79.0 104.5h0M80.3 104.0h0M58.1 55.5h0M58.1 54.6h0M85.4 110.8h0M41.9 110.2h0M20.7 128.3h0M46.0 81.4h0M92.7 142.7h0M14.4 304.8h0M14.7 317.4h0M78.8 112.4h0M104.9 168.1h0M8.7 21.4h0M80.4 262.2h0M82.4 263.6h0M60.0 272.4h0M56.1 14.9h0M13.8 125.1h0M82.7 153.1h0M83.4 155.0h0M56.1 103.5h0M58.9 173.7h0M111.6 251.5h0M112.8 253.5h0M87.6 165.9h0M88.7 164.3h0M56.5 215.8h0M61.6 105.4h0M23.7 233.0h0M64.2 263.8h0M86.7 178.8h0M9.5 19.3h0M8.3 20.5h0M65.8 117.4h0M20.3 116.6h0M55.4 18.8h0M54.3 17.7h0M91.3 155.4h0M83.8 172.1h0M86.2 172.2h0M58.9 174.7h0M31.4 16.0h0M33.6 13.7h0M78.8 204.2h0M59.1 179.9h0M61.2 179.5h0M88.5 131.3h0M90.8 131.8h0M52.8 61.4h0M50.4 58.9h0M4.7 134.2h0M118.7 215.4h0M87.8 116.4h0M97.3 257.0h0M96.0 255.9h0M17.9 298.4h0M32.9 295.3h0M86.6 117.0h0M85.6 116.5h0M68.0 207.7h0M87.7 174.1h0M78.6 131.0h0M1.5 99.8h0M1.7 100.3h0M13.7 152.7h0M5.8 292.6h0M8.0 292.8h0M26.6 235.5h0M120.7 217.4h0M81.0 77.6h0M55.6 281.1h0M84.6 87.6h0M12.5 322.2h0M120.2 218.5h0M34.1 303.4h0M64.7 272.1h0M115.9 177.5h0M108.9 251.4h0M86.7 109.2h0M83.5 97.6h0M103.4 148.7h0M68.4 43.4h0M59.9 276.7h0M48.3 290.1h0M116.9 181.4h0M5.2 332.8h0M113.3 174.5h0M83.9 92.6h0M5.6 330.6h0M46.7 291.3h0M48.8 285.7h0M119.3 187.7h0M30.2 305.9h0M113.8 166.7h0M105.7 152.4h0M121.7 191.1h0M90.6 261.3h0M120.4 220.0h0M105.5 151.2h0M119.8 191.3h0M124.1 202.5h0M58.9 279.6h0M84.2 86.1h0M38.9 294.1h0M80.3 79.7h0M119.5 188.4h0M34.1 300.5h0M46.3 289.6h0" stroke="#000" stroke-width="1.9" stroke-linecap="round" fill="none"/></g>
</defs>
<rect width="1650" height="1275" fill="#fff"/>
<g transform="translate(75.0,142.6)">
<rect x="0" y="0" width="348.0" height="427.6" fill="none" stroke="#303030" stroke-width="0.95"/>
<g stroke="#222" stroke-width="0.85" fill="none"><path d="M58.0 0v4.4M58.0 427.6v-4.4"/><path d="M116.0 0v4.4M116.0 427.6v-4.4"/><path d="M174.0 0v4.4M174.0 427.6v-4.4"/><path d="M232.0 0v4.4M232.0 427.6v-4.4"/><path d="M290.0 0v4.4M290.0 427.6v-4.4"/><path d="M0 72.4h4.4M348.0 72.4h-4.4"/><path d="M0 144.3h4.4M348.0 144.3h-4.4"/><path d="M0 215.8h4.4M348.0 215.8h-4.4"/><path d="M0 286.8h4.4M348.0 286.8h-4.4"/><path d="M0 357.4h4.4M348.0 357.4h-4.4"/></g>
<g clip-path="url(#axclip)">
<g stroke="#000" stroke-opacity="0.36" stroke-width="0.75" stroke-dasharray="2.3 5.95" fill="none"><path d="M58.0 0V427.6"/><path d="M116.0 0V427.6"/><path d="M174.0 0V427.6"/><path d="M232.0 0V427.6"/><path d="M290.0 0V427.6"/><path d="M0 72.4H348.0"/><path d="M0 144.3H348.0"/><path d="M0 215.8H348.0"/><path d="M0 286.8H348.0"/><path d="M0 357.4H348.0"/></g>

<use href="#landfill" fill="#80E680" stroke="#000" stroke-width="0.9" stroke-linejoin="round"/><g clip-path="url(#landclip)"><g stroke="#000" stroke-opacity="0.36" stroke-width="0.75" stroke-dasharray="2.3 5.95" fill="none"><path d="M58.0 0V427.6"/><path d="M116.0 0V427.6"/><path d="M174.0 0V427.6"/><path d="M232.0 0V427.6"/><path d="M290.0 0V427.6"/><path d="M0 72.4H348.0"/><path d="M0 144.3H348.0"/><path d="M0 215.8H348.0"/><path d="M0 286.8H348.0"/><path d="M0 357.4H348.0"/></g><g stroke="#222" stroke-width="0.85" fill="none"><path d="M58.0 0v4.4M58.0 427.6v-4.4"/><path d="M116.0 0v4.4M116.0 427.6v-4.4"/><path d="M174.0 0v4.4M174.0 427.6v-4.4"/><path d="M232.0 0v4.4M232.0 427.6v-4.4"/><path d="M290.0 0v4.4M290.0 427.6v-4.4"/><path d="M0 72.4h4.4M348.0 72.4h-4.4"/><path d="M0 144.3h4.4M348.0 144.3h-4.4"/><path d="M0 215.8h4.4M348.0 215.8h-4.4"/><path d="M0 286.8h4.4M348.0 286.8h-4.4"/><path d="M0 357.4h4.4M348.0 357.4h-4.4"/></g></g><path d="M60.4 20.3 62.0 27.9 64.5 36.5 66.7 45.1 70.6 52.9 72.3 59.8 74.0 66.7 75.8 73.6 77.5 80.5 79.2 87.4 81.4 96.9 84.4 106.3 87.0 115.0 89.6 123.6 93.0 132.2 96.5 139.1 99.9 146.0 103.4 152.9 106.0 159.8 108.5 165.8 111.1 172.8 113.7 179.7 116.3 186.6 118.5 193.4 120.2 201.2 118.9 197.7 120.2 202.9 119.8 208.9 118.5 214.9 117.2 223.6 115.9 232.2 114.1 238.2 112.8 244.3 112.7 244.4 113.0 250.2" fill="none" stroke="#000" stroke-width="1.25" stroke-linejoin="round"/><path d="M113.0 250.2 108.4 251.8 103.5 253.0 95.2 256.8 85.3 261.0 75.5 266.0 67.2 270.3 59.0 275.9 52.4 281.0 45.8 286.7 37.6 294.1 29.3 302.2 21.1 310.4 12.9 319.4 6.3 326.3 0.5 333.5" fill="none" stroke="#000" stroke-width="2.0" stroke-linejoin="round"/><path d="M5.9 117.5 11.9 122.7 18.0 127.0 21.4 130.1" fill="none" stroke="#000" stroke-width="2.6"/><path d="M5.9 117.5 11.9 122.7 18.0 127.0 21.4 130.1" fill="none" stroke="#fff" stroke-width="1.1"/><path d="M25.7 116.7 30.0 121.8 34.4 127.0" fill="none" stroke="#000" stroke-width="2.6"/><path d="M25.7 116.7 30.0 121.8 34.4 127.0" fill="none" stroke="#fff" stroke-width="1.1"/><use href="#dots"/>
<g fill="none" stroke="#000" stroke-width="1.05" stroke-linejoin="round"><path d="M216.6 -1.0 216.0 3.0 214.3 8.7 213.4 14.0 212.3 18.2 211.9 22.1 211.6 26.0 210.5 30.0 208.7 35.3 207.5 41.0 205.0 48.0 203.4 53.1 203.0 58.0 201.7 61.8 200.5 66.0 199.9 71.4 198.3 77.0"/><path d="M194.2 118.0 194.3 122.4 193.2 127.0 193.8 130.7 193.6 135.0 192.1 139.1 191.6 143.0 191.5 147.5 191.3 152.0 190.0 156.1 189.2 160.0 188.4 165.1 187.8 170.0 188.1 174.0 188.3 178.0 189.6 182.8 190.4 187.0 193.0 193.0 195.8 200.0 195.4 206.0 193.8 212.0 191.5 218.0 189.7 222.0 187.0 226.0 184.5 229.7 181.0 233.0 177.1 236.6 174.5 240.0 171.7 244.6 168.0 249.0 165.4 253.3 162.2 257.5 158.8 261.5 156.5 265.0 154.0 268.1 151.7 271.5 146.0 277.0 141.5 281.5"/><path d="M114.8 311.5 110.8 314.9 108.0 318.0 105.1 321.8 103.0 325.4 99.5 329.0 96.3 333.3 93.0 338.0 90.3 341.8 88.5 345.8 85.8 349.5 82.7 352.3 79.6 355.7 77.0 358.5 73.7 361.3 71.8 363.9 68.3 367.0 66.0 370.6 63.1 373.7 61.0 377.0 59.3 380.5 56.5 384.5 54.2 388.0 51.4 391.6 47.7 395.3 45.0 399.0 42.1 402.7 39.3 406.5 36.8 410.0 34.2 413.1 31.0 416.2 28.0 419.5 24.3 423.7 20.7 428.0"/><circle cx="202.4" cy="55.8" r="1.6"/></g><text x="197.4" y="98.4" font-size="16.7" text-anchor="middle" fill="#000" transform="rotate(-83 197.4 98.4) translate(0 5.8)">-100</text><text x="127.6" y="297.2" font-size="16.7" text-anchor="middle" fill="#000" transform="rotate(-47 127.6 297.2) translate(0 5.8)">-100</text><path fill="#DFFF20" d="M178.9 263.3 180.6 258.9 181.7 260.4 192.0 253.2 192.8 254.5 182.6 261.7 183.6 263.2 Z"/><path fill="#DFFF20" d="M101.1 69.4 99.3 72.5 98.8 71.5 87.1 77.7 86.4 76.3 98.1 70.1 97.5 69.1 Z"/><path fill="#DFFF20" d="M101.1 77.2 99.3 80.3 98.8 79.2 87.1 85.5 86.4 84.1 98.1 77.9 97.5 76.9 Z"/><path fill="#DFFF20" d="M108.7 84.9 107.0 88.1 106.4 87.0 94.7 93.2 94.0 91.9 105.7 85.7 105.2 84.6 Z"/><path fill="#DFFF20" d="M171.5 255.8 173.1 251.3 174.2 252.8 184.0 245.4 184.9 246.6 175.2 254.0 176.3 255.5 Z"/><path fill="#DFFF20" d="M179.1 255.8 180.8 251.3 181.9 252.8 191.7 245.4 192.6 246.6 182.8 254.0 183.9 255.5 Z"/><path fill="#DFFF20" d="M171.5 263.5 173.1 259.0 174.2 260.5 184.0 253.1 184.9 254.3 175.2 261.7 176.3 263.2 Z"/><path fill="#CFFF30" d="M156.2 263.2 158.0 258.7 159.0 260.3 168.8 253.4 169.7 254.6 159.9 261.5 160.9 263.0 Z"/><path fill="#BFFF40" d="M164.0 263.1 165.8 258.6 166.8 260.2 176.3 253.5 177.2 254.7 167.7 261.4 168.7 262.9 Z"/><path fill="#BFFF40" d="M164.1 270.7 165.9 266.2 166.9 267.7 176.2 261.2 177.1 262.5 167.8 269.0 168.8 270.5 Z"/><path fill="#AFFF50" d="M156.5 270.6 158.3 266.2 159.3 267.7 168.5 261.3 169.4 262.5 160.2 268.9 161.2 270.5 Z"/><path fill="#9FFF60" d="M141.2 53.7 152.0 53.6 149.3 57.9 154.0 60.8 153.2 62.1 148.5 59.2 145.8 63.5 Z"/><path fill="#70FF8F" d="M123.4 105.7 113.4 109.6 114.5 104.6 110.1 103.6 110.4 102.2 114.8 103.1 115.8 98.1 Z"/><path fill="#60FF9F" d="M195.4 246.8 199.8 237.0 202.6 241.3 206.0 239.1 206.8 240.3 203.4 242.6 206.2 246.8 Z"/><path fill="#60FF9F" d="M202.8 238.2 208.6 229.2 210.7 233.8 214.1 232.3 214.7 233.7 211.3 235.2 213.4 239.9 Z"/><path fill="#40FFBF" d="M165.7 254.8 168.8 244.6 172.1 248.5 174.5 246.5 175.5 247.6 173.1 249.6 176.4 253.5 Z"/><path fill="#40FFBF" d="M158.1 254.8 161.2 244.6 164.5 248.5 166.9 246.5 167.8 247.6 165.4 249.6 168.7 253.5 Z"/><path fill="#40FFBF" d="M196.1 239.1 200.0 229.0 203.0 233.2 205.3 231.5 206.2 232.7 203.8 234.4 206.8 238.5 Z"/><path fill="#40FFBF" d="M188.2 246.4 192.8 236.7 195.5 241.0 197.9 239.5 198.7 240.8 196.3 242.3 199.0 246.6 Z"/><path fill="#30FFCF" d="M114.9 105.8 104.7 109.2 106.0 104.2 103.3 103.5 103.7 102.1 106.4 102.8 107.7 97.8 Z"/><path fill="#30FFCF" d="M211.0 222.8 216.5 213.6 218.7 218.2 221.1 217.0 221.8 218.3 219.4 219.5 221.6 224.1 Z"/><path fill="#20FFDF" d="M203.4 230.1 209.5 221.2 211.4 225.9 213.5 225.1 214.0 226.5 212.0 227.3 213.9 232.0 Z"/><path fill="#10FFEF" d="M189.1 254.4 192.2 244.2 195.5 248.1 197.0 246.9 197.9 248.0 196.5 249.2 199.8 253.1 Z"/><path fill="#10FFEF" d="M173.4 246.0 178.1 236.4 180.7 240.8 182.2 239.8 183.0 241.1 181.5 242.0 184.1 246.4 Z"/><path fill="#10FFEF" d="M188.7 238.4 193.2 228.7 196.0 233.0 197.4 232.1 198.2 233.4 196.8 234.3 199.5 238.6 Z"/><path fill="#10FFEF" d="M96.9 75.9 101.8 66.3 104.4 70.7 105.8 69.9 106.5 71.2 105.1 72.0 107.7 76.4 Z"/><path fill="#00FFFF" d="M195.8 221.3 203.4 213.7 204.5 218.7 205.9 218.4 206.2 219.9 204.8 220.2 205.8 225.2 Z"/><path fill="#00FFFF" d="M181.0 245.6 186.4 236.3 188.7 240.9 189.9 240.3 190.6 241.6 189.4 242.2 191.7 246.8 Z"/><path fill="#00FFFF" d="M135.9 77.6 146.5 79.0 143.2 82.9 144.2 83.8 143.2 84.9 142.2 84.1 138.9 87.9 Z"/><path fill="#00FFFF" d="M203.7 214.0 210.6 205.8 212.0 210.7 213.3 210.3 213.7 211.8 212.5 212.1 214.0 217.0 Z"/><path fill="#00FFFF" d="M196.8 231.0 200.6 220.9 203.6 225.0 204.6 224.3 205.5 225.5 204.5 226.2 207.5 230.3 Z"/><path fill="#00FFFF" d="M203.7 221.7 210.7 213.5 212.1 218.4 213.2 218.1 213.7 219.5 212.5 219.8 214.0 224.7 Z"/><path fill="#00EFFF" d="M135.6 62.6 146.4 62.8 143.5 67.0 144.3 67.6 143.5 68.9 142.6 68.3 139.7 72.5 Z"/><path fill="#00EFFF" d="M135.6 47.2 146.3 47.0 143.6 51.3 144.4 51.8 143.6 53.1 142.8 52.6 140.1 56.9 Z"/><path fill="#00DFFF" d="M108.9 301.6 106.0 296.5 108.5 296.6 108.7 292.0 110.2 292.1 110.0 296.7 112.5 296.8 Z"/><path fill="#00DFFF" d="M181.4 230.1 186.7 220.7 189.0 225.2 189.5 225.0 190.2 226.4 189.7 226.6 192.1 231.1 Z"/><path fill="#00DFFF" d="M143.9 77.8 154.5 79.4 151.1 83.3 151.4 83.6 150.5 84.7 150.1 84.4 146.7 88.2 Z"/><path fill="#00DFFF" d="M166.2 245.4 171.5 236.1 173.8 240.6 174.2 240.4 174.9 241.8 174.5 242.0 176.8 246.5 Z"/><path fill="#00DFFF" d="M188.9 221.9 195.2 213.2 197.0 217.9 197.4 217.8 197.9 219.2 197.6 219.3 199.4 224.1 Z"/><path fill="#00DFFF" d="M109.0 270.9 106.0 265.8 108.5 265.9 108.7 261.6 110.2 261.6 110.0 265.9 112.5 266.1 Z"/><path fill="#00CFFF" d="M84.4 77.3 82.8 66.7 87.4 68.8 87.5 68.7 88.8 69.4 88.8 69.5 93.4 71.6 Z"/><path fill="#00CFFF" d="M136.2 54.8 146.9 55.8 139.7 65.0 Z"/><path fill="#00CFFF" d="M189.0 229.3 195.8 221.0 199.3 232.1 Z"/><path fill="#00CFFF" d="M182.0 238.1 186.0 228.3 192.6 237.8 Z"/><path fill="#00CFFF" d="M108.4 293.6 106.1 288.1 108.6 288.5 109.3 284.7 110.7 285.0 110.0 288.8 112.5 289.3 Z"/><path fill="#00BFFF" d="M92.9 93.0 89.4 83.2 100.4 85.9 Z"/><path fill="#00BFFF" d="M181.4 221.2 188.6 213.8 191.1 224.7 Z"/><path fill="#00BFFF" d="M204.3 205.5 211.9 198.7 213.7 209.7 Z"/><path fill="#00BFFF" d="M173.9 236.9 180.3 229.0 183.7 239.5 Z"/><path fill="#00BFFF" d="M196.8 205.7 203.9 198.6 206.2 209.4 Z"/><path fill="#00BFFF" d="M101.6 100.7 96.0 92.4 107.0 92.3 Z"/><path fill="#00BFFF" d="M93.8 69.6 88.5 61.1 99.4 61.3 Z"/><path fill="#00BFFF" d="M153.6 38.0 161.6 44.1 151.4 47.8 Z"/><path fill="#00AFFF" d="M174.0 229.0 180.5 221.6 183.4 232.0 Z"/><path fill="#00AFFF" d="M136.0 198.7 141.5 190.6 145.6 200.5 Z"/><path fill="#00AFFF" d="M137.3 215.7 138.1 206.1 146.4 212.6 Z"/><path fill="#00AFFF" d="M189.7 214.2 194.7 206.1 199.1 215.5 Z"/><path fill="#00AFFF" d="M128.6 214.4 133.3 206.1 138.1 215.3 Z"/><path fill="#00AFFF" d="M197.0 213.2 204.0 206.8 205.7 217.0 Z"/><path fill="#00AFFF" d="M137.1 223.2 138.5 213.8 146.3 220.6 Z"/><path fill="#00AFFF" d="M174.0 220.7 181.4 214.6 182.5 224.9 Z"/><path fill="#009FFF" d="M101.2 69.3 96.8 61.1 107.0 61.9 Z"/><path fill="#009FFF" d="M86.4 69.3 81.0 61.7 91.2 61.3 Z"/><path fill="#009FFF" d="M166.7 237.0 172.1 229.5 175.8 238.8 Z"/><path fill="#009FFF" d="M197.1 197.2 204.6 192.0 204.9 202.0 Z"/><path fill="#009FFF" d="M166.9 229.6 171.7 221.7 176.0 230.8 Z"/><path fill="#009FFF" d="M189.8 206.4 194.7 198.7 198.8 207.8 Z"/><path fill="#009FFF" d="M143.8 249.7 152.6 247.4 149.5 256.8 Z"/><path fill="#009FFF" d="M100.4 84.6 98.0 75.9 107.4 78.8 Z"/><path fill="#009FFF" d="M151.5 241.9 160.4 240.1 156.8 249.3 Z"/><path fill="#009FFF" d="M182.1 213.8 187.5 206.6 190.9 215.8 Z"/><path fill="#009FFF" d="M151.5 234.3 160.3 232.2 157.0 241.5 Z"/><path fill="#008FFF" d="M152.0 256.8 160.4 256.5 155.7 264.3 Z"/><path fill="#008FFF" d="M174.5 213.1 180.8 207.5 182.2 216.5 Z"/><path fill="#0080FF" d="M137.7 230.7 138.1 222.4 145.5 227.7 Z"/><path fill="#0080FF" d="M129.6 207.3 131.5 199.2 137.8 205.7 Z"/><path fill="#0080FF" d="M117.0 68.8 112.2 62.2 121.1 61.8 Z"/><path fill="#0080FF" d="M94.4 61.0 89.0 54.8 97.8 53.6 Z"/><path fill="#0080FF" d="M101.6 53.2 97.1 46.4 105.9 46.3 Z"/><path fill="#0080FF" d="M144.8 199.3 147.1 191.6 152.9 198.3 Z"/><path fill="#0080FF" d="M137.7 240.6 145.3 243.2 138.4 248.6 Z"/><path fill="#0080FF" d="M145.5 192.2 145.7 184.2 153.0 189.1 Z"/><path fill="#0080FF" d="M132.4 68.8 127.5 62.3 136.3 61.7 Z"/><path fill="#0080FF" d="M109.2 277.3 105.9 272.3 108.4 272.3 108.4 270.6 109.9 270.5 109.9 272.3 112.4 272.3 Z"/><path fill="#0080FF" d="M109.3 284.9 105.9 280.0 108.4 279.9 108.3 278.2 109.8 278.2 109.9 279.9 112.4 279.8 Z"/><path fill="#0080FF" d="M132.5 60.9 127.4 54.8 136.0 53.8 Z"/><path fill="#0080FF" d="M152.8 67.9 154.1 60.1 160.5 65.8 Z"/><path fill="#0080FF" d="M155.2 53.1 150.6 46.7 159.2 46.3 Z"/><path fill="#0070FF" d="M137.7 207.4 138.5 199.6 145.1 204.9 Z"/><path fill="#0070FF" d="M129.6 222.3 131.9 214.9 137.4 221.4 Z"/><path fill="#0070FF" d="M145.3 240.8 152.7 242.9 146.4 248.5 Z"/><path fill="#0070FF" d="M85.9 60.8 82.4 54.0 90.8 54.8 Z"/><path fill="#0070FF" d="M124.9 76.4 119.9 70.6 128.2 69.4 Z"/><path fill="#0070FF" d="M86.5 53.0 81.9 46.9 90.2 46.4 Z"/><path fill="#0070FF" d="M109.6 68.6 104.7 62.7 112.9 61.8 Z"/><path fill="#0070FF" d="M116.8 60.8 112.8 54.3 121.0 54.5 Z"/><path fill="#0070FF" d="M109.1 53.0 105.2 46.5 113.4 46.8 Z"/><path fill="#0070FF" d="M153.3 248.4 160.1 251.2 153.5 255.8 Z"/><path fill="#0070FF" d="M93.9 52.9 89.9 46.7 97.9 46.7 Z"/><path fill="#0070FF" d="M162.6 84.1 158.8 77.8 166.8 78.0 Z"/><path fill="#0070FF" d="M170.1 84.1 166.6 77.6 174.6 78.2 Z"/><path fill="#0070FF" d="M169.6 91.8 167.1 84.9 174.9 86.7 Z"/><path fill="#0070FF" d="M177.3 91.8 174.7 84.9 182.6 86.6 Z"/><path fill="#0070FF" d="M116.9 52.9 112.8 46.8 120.8 46.7 Z"/><path fill="#0060FF" d="M140.5 76.2 135.2 71.2 142.9 69.3 Z"/><path fill="#0060FF" d="M144.5 234.8 151.4 232.6 149.3 240.2 Z"/><path fill="#0060FF" d="M124.4 68.4 120.6 62.3 128.4 62.5 Z"/><path fill="#0060FF" d="M109.1 60.6 105.4 54.5 113.2 54.8 Z"/><path fill="#0060FF" d="M159.8 228.3 165.1 223.7 166.2 231.3 Z"/><path fill="#0060FF" d="M182.7 204.9 188.6 200.9 188.6 208.7 Z"/><path fill="#0060FF" d="M182.7 197.2 188.5 193.3 188.7 200.9 Z"/><path fill="#0060FF" d="M167.5 220.9 172.3 215.8 174.1 223.2 Z"/><path fill="#0060FF" d="M124.4 60.5 120.8 54.6 128.4 54.8 Z"/><path fill="#0060FF" d="M109.2 76.1 105.4 70.3 113.0 70.3 Z"/><path fill="#0060FF" d="M137.0 234.8 143.6 232.8 141.5 240.0 Z"/><path fill="#0060FF" d="M160.9 241.1 167.4 243.1 161.7 247.8 Z"/><path fill="#0060FF" d="M145.7 67.7 146.2 60.9 152.1 65.4 Z"/><path fill="#0060FF" d="M152.3 74.0 156.7 68.8 158.9 75.9 Z"/><path fill="#0060FF" d="M160.1 234.5 166.8 233.3 163.9 240.1 Z"/><path fill="#0050FF" d="M124.2 52.6 121.1 46.6 128.5 47.4 Z"/><path fill="#0050FF" d="M190.5 197.7 195.3 193.0 196.7 200.2 Z"/><path fill="#0050FF" d="M152.4 228.6 156.8 223.7 158.7 230.6 Z"/><path fill="#0050FF" d="M78.4 52.5 75.3 46.8 82.4 47.4 Z"/><path fill="#0050FF" d="M167.6 204.8 173.2 201.3 173.0 208.4 Z"/><path fill="#0050FF" d="M117.2 75.9 113.0 70.9 120.1 70.1 Z"/><path fill="#0050FF" d="M131.8 52.5 129.0 46.7 136.0 47.5 Z"/><path fill="#0050FF" d="M144.7 219.8 150.6 217.1 149.6 224.1 Z"/><path fill="#0050FF" d="M131.8 75.8 129.1 70.1 135.9 71.0 Z"/><path fill="#0050FF" d="M101.2 60.3 98.4 54.6 105.3 55.4 Z"/><path fill="#0040FF" d="M175.4 189.6 180.3 185.8 180.9 192.6 Z"/><path fill="#0040FF" d="M152.5 189.8 157.1 185.7 158.1 192.4 Z"/><path fill="#0040FF" d="M160.1 205.0 165.1 201.3 165.4 208.1 Z"/><path fill="#0040FF" d="M152.5 220.1 157.8 217.0 157.5 223.7 Z"/><path fill="#0040FF" d="M167.8 212.4 173.1 209.3 172.7 216.0 Z"/><path fill="#0040FF" d="M152.5 57.7 157.4 54.2 157.7 60.8 Z"/><path fill="#0040FF" d="M152.5 197.2 157.5 193.7 157.7 200.3 Z"/><path fill="#0040FF" d="M125.0 44.4 120.8 40.3 127.1 38.8 Z"/><path fill="#0040FF" d="M144.9 212.3 150.2 209.6 149.6 216.0 Z"/><path fill="#0040FF" d="M93.2 44.4 91.5 38.8 97.6 40.5 Z"/><path fill="#0040FF" d="M132.8 36.5 128.4 32.7 134.5 30.9 Z"/><path fill="#0040FF" d="M101.9 44.4 98.1 40.0 104.4 39.2 Z"/><path fill="#0040FF" d="M160.4 220.9 164.1 216.5 166.0 222.5 Z"/><path fill="#0040FF" d="M146.4 75.4 145.5 69.7 151.3 72.3 Z"/><path fill="#0040FF" d="M147.3 52.2 144.4 47.2 150.7 47.6 Z"/><path fill="#0030FF" d="M168.0 196.7 173.2 194.4 172.2 200.6 Z"/><path fill="#0030FF" d="M160.3 189.7 164.8 186.1 165.4 192.3 Z"/><path fill="#0030FF" d="M175.6 197.4 180.0 193.8 180.7 199.9 Z"/><path fill="#0030FF" d="M123.0 82.8 123.6 77.3 128.3 81.1 Z"/><path fill="#0030FF" d="M122.5 97.7 125.1 92.8 128.0 98.1 Z"/><path fill="#0030FF" d="M109.3 98.8 106.1 94.4 112.1 94.1 Z"/><path fill="#0030FF" d="M124.3 91.0 121.8 86.3 127.5 86.8 Z"/><path fill="#0020FF" d="M154.3 36.2 153.2 31.2 158.5 33.2 Z"/><path fill="#0020FF" d="M160.6 197.1 164.8 194.4 164.8 199.9 Z"/><path fill="#0020FF" d="M175.9 205.2 179.6 201.8 180.5 207.2 Z"/><path fill="#0020FF" d="M140.7 90.6 136.5 88.1 141.2 85.8 Z"/><path fill="#0020FF" d="M123.9 106.2 122.6 101.6 127.6 103.2 Z"/><path fill="#0020FF" d="M137.8 41.9 141.9 39.5 141.6 44.7 Z"/><path fill="#0020FF" d="M147.2 44.0 145.1 39.7 150.2 40.3 Z"/><path fill="#0010FF" d="M153.1 174.0 157.0 171.4 157.0 176.5 Z"/><path fill="#0010FF" d="M160.7 174.0 164.7 171.4 164.7 176.5 Z"/><path fill="#0010FF" d="M145.5 181.7 149.4 179.2 149.4 184.3 Z"/><path fill="#0010FF" d="M153.1 181.7 157.0 179.2 157.0 184.3 Z"/><path fill="#0010FF" d="M160.7 181.7 164.7 179.2 164.7 184.3 Z"/><path fill="#0010FF" d="M168.4 181.7 172.3 179.2 172.3 184.3 Z"/><path fill="#0010FF" d="M145.5 204.9 149.3 202.3 149.4 207.3 Z"/><path fill="#0010FF" d="M108.5 82.8 107.5 78.3 112.2 80.1 Z"/><path fill="#0010FF" d="M130.7 97.8 131.9 93.4 135.2 97.1 Z"/><path fill="#0010FF" d="M132.0 82.9 129.8 78.9 134.7 79.3 Z"/><path fill="#0010FF" d="M161.0 213.0 163.8 209.7 165.1 214.3 Z"/><path fill="#0010FF" d="M145.6 227.9 149.3 225.6 149.2 230.3 Z"/><path fill="#0010FF" d="M153.3 212.3 157.1 210.4 156.6 215.1 Z"/><path fill="#0010FF" d="M153.3 205.1 156.5 202.3 157.1 206.9 Z"/><path fill="#0010FF" d="M183.9 189.2 187.7 187.4 187.1 192.0 Z"/><path fill="#0000FF" d="M131.2 43.5 131.1 39.4 134.9 41.7 Z"/><path fill="#0000FF" d="M155.5 82.6 152.5 80.0 156.7 78.7 Z"/><path fill="#0000FF" d="M168.7 189.7 171.7 187.0 172.3 191.3 Z"/><path fill="#0000FF" d="M116.4 98.0 115.3 94.5 119.2 95.6 Z"/><path fill="#0000FF" d="M131.8 90.3 130.5 86.8 134.4 87.7 Z"/><path fill="#0000FF" d="M102.3 305.8 99.1 304.1 102.6 302.2 Z"/><path fill="#0000FF" d="M108.8 306.0 107.7 302.5 111.5 303.5 Z"/><path fill="#0000FF" d="M101.3 313.6 99.9 310.2 103.8 311.0 Z"/><path fill="#0000FF" d="M108.5 313.5 108.1 309.8 111.7 311.7 Z"/><path fill="#0000EF" d="M116.1 82.3 115.8 78.8 119.2 80.6 Z"/><path fill="#0000EF" d="M117.2 90.2 114.7 87.8 118.4 86.9 Z"/><path fill="#0000EF" d="M109.1 90.2 107.4 87.3 111.1 87.4 Z"/><path fill="#0000EF" d="M108.4 43.2 108.4 39.8 111.5 41.8 Z"/><path fill="#0000EF" d="M84.9 2.9 87.7 1.1 87.7 4.7 Z"/><path fill="#0000EF" d="M92.5 2.9 95.3 1.1 95.3 4.7 Z"/><path fill="#0000EF" d="M100.2 2.9 103.0 1.1 103.0 4.7 Z"/><path fill="#0000EF" d="M115.7 42.7 117.0 39.8 118.9 42.7 Z"/>
<g stroke="#FF0000" stroke-width="1.2" fill="none" stroke-linecap="butt"><path d="M58.2 45.2h16.6M66.5 36.9v16.6M60.6 39.3l11.7 11.7M60.6 51.1l11.7 -11.7"/></g>
<g stroke="#FF0000" stroke-width="1.2" fill="none" stroke-linecap="butt"><path d="M95.9 157.0h16.6M104.2 148.7v16.6M98.3 151.1l11.7 11.7M98.3 162.9l11.7 -11.7"/></g>
<g stroke="#FF0000" stroke-width="1.2" fill="none" stroke-linecap="butt"><path d="M105.5 250.0h16.6M113.8 241.7v16.6M107.9 244.1l11.7 11.7M107.9 255.9l11.7 -11.7"/></g>
<g stroke="#FF0000" stroke-width="1.2" fill="none" stroke-linecap="butt"><path d="M1.8 320.9h16.6M10.1 312.6v16.6M4.2 315.0l11.7 11.7M4.2 326.8l11.7 -11.7"/></g>
</g>
<path d="M0 0V427.6" stroke="#111" stroke-width="1.05"/>
<rect x="10.3" y="15.7" width="112.7" height="25.0" fill="url(#jet)" stroke="#2a2a2a" stroke-width="1.1"/><text x="10.0" y="0.3" font-size="16.7" text-anchor="middle" fill="#262626">0</text><text x="12.6" y="0.3" font-size="16.7" text-anchor="middle" fill="#262626">1</text><text x="15.3" y="0.3" font-size="16.7" text-anchor="middle" fill="#262626">2</text><text x="17.9" y="0.3" font-size="16.7" text-anchor="middle" fill="#262626">3</text><text x="20.6" y="0.3" font-size="16.7" text-anchor="middle" fill="#262626">4</text><text x="23.2" y="0.3" font-size="16.7" text-anchor="middle" fill="#262626">5</text><text x="25.9" y="0.3" font-size="16.7" text-anchor="middle" fill="#262626">6</text><text x="28.5" y="0.3" font-size="16.7" text-anchor="middle" fill="#262626">7</text><text x="31.2" y="0.3" font-size="16.7" text-anchor="middle" fill="#262626">8</text><text x="33.8" y="0.3" font-size="16.7" text-anchor="middle" fill="#262626">9</text><text x="36.4" y="0.3" font-size="16.7" text-anchor="middle" fill="#262626">10</text><text x="39.1" y="0.3" font-size="16.7" text-anchor="middle" fill="#262626">11</text><text x="41.7" y="0.3" font-size="16.7" text-anchor="middle" fill="#262626">12</text><text x="44.4" y="0.3" font-size="16.7" text-anchor="middle" fill="#262626">13</text><text x="47.0" y="0.3" font-size="16.7" text-anchor="middle" fill="#262626">14</text><text x="49.7" y="0.3" font-size="16.7" text-anchor="middle" fill="#262626">15</text><text x="52.3" y="0.3" font-size="16.7" text-anchor="middle" fill="#262626">16</text><text x="55.0" y="0.3" font-size="16.7" text-anchor="middle" fill="#262626">17</text><text x="57.6" y="0.3" font-size="16.7" text-anchor="middle" fill="#262626">18</text><text x="60.2" y="0.3" font-size="16.7" text-anchor="middle" fill="#262626">19</text><text x="62.9" y="0.3" font-size="16.7" text-anchor="middle" fill="#262626">20</text><text x="65.5" y="0.3" font-size="16.7" text-anchor="middle" fill="#262626">21</text><text x="68.2" y="0.3" font-size="16.7" text-anchor="middle" fill="#262626">22</text><text x="70.8" y="0.3" font-size="16.7" text-anchor="middle" fill="#262626">23</text><text x="73.5" y="0.3" font-size="16.7" text-anchor="middle" fill="#262626">24</text><text x="76.1" y="0.3" font-size="16.7" text-anchor="middle" fill="#262626">25</text><text x="78.8" y="0.3" font-size="16.7" text-anchor="middle" fill="#262626">26</text><text x="81.4" y="0.3" font-size="16.7" text-anchor="middle" fill="#262626">27</text><text x="84.0" y="0.3" font-size="16.7" text-anchor="middle" fill="#262626">28</text><text x="86.7" y="0.3" font-size="16.7" text-anchor="middle" fill="#262626">29</text><text x="89.3" y="0.3" font-size="16.7" text-anchor="middle" fill="#262626">30</text><text x="92.0" y="0.3" font-size="16.7" text-anchor="middle" fill="#262626">31</text><text x="94.6" y="0.3" font-size="16.7" text-anchor="middle" fill="#262626">32</text><text x="97.3" y="0.3" font-size="16.7" text-anchor="middle" fill="#262626">33</text><text x="99.9" y="0.3" font-size="16.7" text-anchor="middle" fill="#262626">34</text><text x="102.6" y="0.3" font-size="16.7" text-anchor="middle" fill="#262626">35</text><text x="105.2" y="0.3" font-size="16.7" text-anchor="middle" fill="#262626">36</text><text x="107.8" y="0.3" font-size="16.7" text-anchor="middle" fill="#262626">37</text><text x="110.5" y="0.3" font-size="16.7" text-anchor="middle" fill="#262626">38</text><text x="113.1" y="0.3" font-size="16.7" text-anchor="middle" fill="#262626">39</text><text x="115.8" y="0.3" font-size="16.7" text-anchor="middle" fill="#262626">40</text><text x="118.4" y="0.3" font-size="16.7" text-anchor="middle" fill="#262626">41</text><text x="121.1" y="0.3" font-size="16.7" text-anchor="middle" fill="#262626">42</text><text x="123.7" y="0.3" font-size="16.7" text-anchor="middle" fill="#262626">43</text><text x="126.4" y="0.3" font-size="16.7" text-anchor="middle" fill="#262626">44</text><text x="129.0" y="0.3" font-size="16.7" text-anchor="middle" fill="#262626">45</text><path d="M10.3 15.7v2.2M14.1 15.7v2.2M17.8 15.7v2.2M21.6 15.7v2.2M25.3 15.7v2.2M29.1 15.7v2.2M32.8 15.7v2.2M36.6 15.7v2.2M40.4 15.7v2.2M44.1 15.7v2.2M47.9 15.7v2.2M51.6 15.7v2.2M55.4 15.7v2.2M59.1 15.7v2.2M62.9 15.7v2.2M66.7 15.7v2.2M70.4 15.7v2.2M74.2 15.7v2.2M77.9 15.7v2.2M81.7 15.7v2.2M85.4 15.7v2.2M89.2 15.7v2.2M92.9 15.7v2.2M96.7 15.7v2.2M100.5 15.7v2.2M104.2 15.7v2.2M108.0 15.7v2.2M111.7 15.7v2.2M115.5 15.7v2.2M119.2 15.7v2.2M123.0 15.7v2.2" stroke="#222" stroke-width="0.9"/>
<text x="341" y="102.1" font-size="20.8" text-anchor="end" fill="#000">10 km</text><path d="M306.5 108.4h14.3" stroke="#000" stroke-width="3.2" stroke-linecap="round"/>
<text x="-6.4" y="7.2" font-size="21.2" text-anchor="end" fill="#000">37°N</text><text x="-6.4" y="151.5" font-size="21.2" text-anchor="end" fill="#000">36°N</text><text x="-6.4" y="294.0" font-size="21.2" text-anchor="end" fill="#000">35°N</text><text x="-6.4" y="434.8" font-size="21.2" text-anchor="end" fill="#000">34°N</text><text x="-5.6" y="78.7" font-size="16.5" text-anchor="end" fill="#000">30'</text><text x="-5.6" y="222.1" font-size="16.5" text-anchor="end" fill="#000">30'</text><text x="-5.6" y="363.7" font-size="16.5" text-anchor="end" fill="#000">30'</text><text x="58.0" y="448.6" font-size="21.2" text-anchor="middle" fill="#000">76°W</text><text x="174.0" y="448.6" font-size="21.2" text-anchor="middle" fill="#000">75°W</text><text x="290.0" y="448.6" font-size="21.2" text-anchor="middle" fill="#000">74°W</text><text x="-0.6" y="444.8" font-size="16.5" text-anchor="middle" fill="#000">30'</text><text x="115.4" y="444.8" font-size="16.5" text-anchor="middle" fill="#000">30'</text><text x="231.4" y="444.8" font-size="16.5" text-anchor="middle" fill="#000">30'</text><text x="347.4" y="444.8" font-size="16.5" text-anchor="middle" fill="#000">30'</text>
<text x="173.8" y="-13.4" font-size="25.20" font-weight="bold" text-anchor="middle" fill="#000">2023-06-11 08:00</text>
<text x="43.6" y="-27.6" font-size="20.8" fill="#262626">cm/s</text><text x="348.3" y="64.1" font-size="20.8" text-anchor="end" fill="#000">50 cm/s</text>
</g>
<g transform="translate(458.4,142.6)">
<rect x="0" y="0" width="348.0" height="427.6" fill="none" stroke="#303030" stroke-width="0.95"/>
<g stroke="#222" stroke-width="0.85" fill="none"><path d="M58.0 0v4.4M58.0 427.6v-4.4"/><path d="M116.0 0v4.4M116.0 427.6v-4.4"/><path d="M174.0 0v4.4M174.0 427.6v-4.4"/><path d="M232.0 0v4.4M232.0 427.6v-4.4"/><path d="M290.0 0v4.4M290.0 427.6v-4.4"/><path d="M0 72.4h4.4M348.0 72.4h-4.4"/><path d="M0 144.3h4.4M348.0 144.3h-4.4"/><path d="M0 215.8h4.4M348.0 215.8h-4.4"/><path d="M0 286.8h4.4M348.0 286.8h-4.4"/><path d="M0 357.4h4.4M348.0 357.4h-4.4"/></g>
<g clip-path="url(#axclip)">
<g stroke="#000" stroke-opacity="0.36" stroke-width="0.75" stroke-dasharray="2.3 5.95" fill="none"><path d="M58.0 0V427.6"/><path d="M116.0 0V427.6"/><path d="M174.0 0V427.6"/><path d="M232.0 0V427.6"/><path d="M290.0 0V427.6"/><path d="M0 72.4H348.0"/><path d="M0 144.3H348.0"/><path d="M0 215.8H348.0"/><path d="M0 286.8H348.0"/><path d="M0 357.4H348.0"/></g>
<g shape-rendering="crispEdges"><path fill="#00DFFF" d="M82.4 -1.0H90.1V6.8H82.4Z"/><path fill="#00AFFF" d="M90.1 -1.0H97.7V6.8H90.1Z"/><path fill="#009FFF" d="M97.7 -1.0H105.4V6.8H97.7Z"/><path fill="#0070FF" d="M105.4 14.6H113.0V22.5H105.4Z"/><path fill="#009FFF" d="M113.0 14.6H120.7V22.5H113.0Z"/><path fill="#009FFF" d="M120.7 14.6H128.3V22.5H120.7Z"/><path fill="#0050FF" d="M105.4 22.5H113.0V30.3H105.4Z"/><path fill="#0050FF" d="M113.0 22.5H120.7V30.3H113.0Z"/><path fill="#0050FF" d="M120.7 22.5H128.3V30.3H120.7Z"/><path fill="#008FFF" d="M128.3 22.5H135.9V30.3H128.3Z"/><path fill="#0030FF" d="M97.7 30.3H105.4V38.1H97.7Z"/><path fill="#0020FF" d="M105.4 30.3H113.0V38.1H105.4Z"/><path fill="#0010FF" d="M113.0 30.3H120.7V38.1H113.0Z"/><path fill="#0010FF" d="M120.7 30.3H128.3V38.1H120.7Z"/><path fill="#0050FF" d="M128.3 30.3H135.9V38.1H128.3Z"/><path fill="#0050FF" d="M135.9 30.3H143.6V38.1H135.9Z"/><path fill="#0060FF" d="M143.6 30.3H151.2V38.1H143.6Z"/><path fill="#0040FF" d="M151.2 30.3H158.9V38.1H151.2Z"/><path fill="#0030FF" d="M90.1 38.1H97.7V45.9H90.1Z"/><path fill="#0010FF" d="M97.7 38.1H105.4V45.9H97.7Z"/><path fill="#0010FF" d="M105.4 38.1H113.0V45.9H105.4Z"/><path fill="#0010FF" d="M113.0 38.1H120.7V45.9H113.0Z"/><path fill="#0010FF" d="M120.7 38.1H128.3V45.9H120.7Z"/><path fill="#0010FF" d="M128.3 38.1H135.9V45.9H128.3Z"/><path fill="#0010FF" d="M135.9 38.1H143.6V45.9H135.9Z"/><path fill="#0010FF" d="M143.6 38.1H151.2V45.9H143.6Z"/><path fill="#0040FF" d="M151.2 38.1H158.9V45.9H151.2Z"/><path fill="#0010FF" d="M74.8 45.9H82.4V53.7H74.8Z"/><path fill="#0000EF" d="M82.4 45.9H90.1V53.7H82.4Z"/><path fill="#0000FF" d="M90.1 45.9H97.7V53.7H90.1Z"/><path fill="#0000FF" d="M97.7 45.9H105.4V53.7H97.7Z"/><path fill="#0000FF" d="M105.4 45.9H113.0V53.7H105.4Z"/><path fill="#0000EF" d="M113.0 45.9H120.7V53.7H113.0Z"/><path fill="#0000EF" d="M120.7 45.9H128.3V53.7H120.7Z"/><path fill="#0000EF" d="M128.3 45.9H135.9V53.7H128.3Z"/><path fill="#0000EF" d="M135.9 45.9H143.6V53.7H135.9Z"/><path fill="#0000FF" d="M143.6 45.9H151.2V53.7H143.6Z"/><path fill="#0030FF" d="M151.2 45.9H158.9V53.7H151.2Z"/><path fill="#0020FF" d="M82.4 53.7H90.1V61.5H82.4Z"/><path fill="#0000FF" d="M90.1 53.7H97.7V61.5H90.1Z"/><path fill="#0000EF" d="M97.7 53.7H105.4V61.5H97.7Z"/><path fill="#0000EF" d="M105.4 53.7H113.0V61.5H105.4Z"/><path fill="#0000EF" d="M113.0 53.7H120.7V61.5H113.0Z"/><path fill="#0000EF" d="M120.7 53.7H128.3V61.5H120.7Z"/><path fill="#0000EF" d="M128.3 53.7H135.9V61.5H128.3Z"/><path fill="#0000EF" d="M135.9 53.7H143.6V61.5H135.9Z"/><path fill="#0000EF" d="M143.6 53.7H151.2V61.5H143.6Z"/><path fill="#0040FF" d="M151.2 53.7H158.9V61.5H151.2Z"/><path fill="#0060FF" d="M82.4 61.5H90.1V69.3H82.4Z"/><path fill="#0020FF" d="M90.1 61.5H97.7V69.3H90.1Z"/><path fill="#0010FF" d="M97.7 61.5H105.4V69.3H97.7Z"/><path fill="#0000EF" d="M105.4 61.5H113.0V69.3H105.4Z"/><path fill="#0000EF" d="M113.0 61.5H120.7V69.3H113.0Z"/><path fill="#0000EF" d="M120.7 61.5H128.3V69.3H120.7Z"/><path fill="#0000EF" d="M128.3 61.5H135.9V69.3H128.3Z"/><path fill="#0000EF" d="M135.9 61.5H143.6V69.3H135.9Z"/><path fill="#0010FF" d="M143.6 61.5H151.2V69.3H143.6Z"/><path fill="#008FFF" d="M151.2 61.5H158.9V69.3H151.2Z"/><path fill="#00AFFF" d="M82.4 69.3H90.1V77.1H82.4Z"/><path fill="#0040FF" d="M90.1 69.3H97.7V77.1H90.1Z"/><path fill="#0020FF" d="M97.7 69.3H105.4V77.1H97.7Z"/><path fill="#0010FF" d="M105.4 69.3H113.0V77.1H105.4Z"/><path fill="#0000EF" d="M113.0 69.3H120.7V77.1H113.0Z"/><path fill="#0000EF" d="M120.7 69.3H128.3V77.1H120.7Z"/><path fill="#0000EF" d="M128.3 69.3H135.9V77.1H128.3Z"/><path fill="#0000FF" d="M135.9 69.3H143.6V77.1H135.9Z"/><path fill="#0010FF" d="M143.6 69.3H151.2V77.1H143.6Z"/><path fill="#0080FF" d="M151.2 69.3H158.9V77.1H151.2Z"/><path fill="#60FF9F" d="M82.4 77.1H90.1V84.9H82.4Z"/><path fill="#0080FF" d="M90.1 77.1H97.7V84.9H90.1Z"/><path fill="#0040FF" d="M97.7 77.1H105.4V84.9H97.7Z"/><path fill="#0010FF" d="M105.4 77.1H113.0V84.9H105.4Z"/><path fill="#0000FF" d="M113.0 77.1H120.7V84.9H113.0Z"/><path fill="#0000FF" d="M120.7 77.1H128.3V84.9H120.7Z"/><path fill="#0010FF" d="M128.3 77.1H135.9V84.9H128.3Z"/><path fill="#0030FF" d="M135.9 77.1H143.6V84.9H135.9Z"/><path fill="#008FFF" d="M143.6 77.1H151.2V84.9H143.6Z"/><path fill="#0050FF" d="M151.2 77.1H158.9V84.9H151.2Z"/><path fill="#008FFF" d="M158.9 77.1H166.5V84.9H158.9Z"/><path fill="#008FFF" d="M166.5 77.1H174.2V84.9H166.5Z"/><path fill="#FFAF00" d="M82.4 84.9H90.1V92.7H82.4Z"/><path fill="#00EFFF" d="M90.1 84.9H97.7V92.7H90.1Z"/><path fill="#0050FF" d="M97.7 84.9H105.4V92.7H97.7Z"/><path fill="#0020FF" d="M105.4 84.9H113.0V92.7H105.4Z"/><path fill="#0010FF" d="M113.0 84.9H120.7V92.7H113.0Z"/><path fill="#0010FF" d="M120.7 84.9H128.3V92.7H120.7Z"/><path fill="#0010FF" d="M128.3 84.9H135.9V92.7H128.3Z"/><path fill="#0030FF" d="M135.9 84.9H143.6V92.7H135.9Z"/><path fill="#00AFFF" d="M166.5 84.9H174.2V92.7H166.5Z"/><path fill="#00AFFF" d="M174.2 84.9H181.8V92.7H174.2Z"/><path fill="#70FF8F" d="M90.1 92.7H97.7V100.4H90.1Z"/><path fill="#0070FF" d="M97.7 92.7H105.4V100.4H97.7Z"/><path fill="#0040FF" d="M105.4 92.7H113.0V100.4H105.4Z"/><path fill="#0020FF" d="M113.0 92.7H120.7V100.4H113.0Z"/><path fill="#0020FF" d="M120.7 92.7H128.3V100.4H120.7Z"/><path fill="#0030FF" d="M128.3 92.7H135.9V100.4H128.3Z"/><path fill="#8FFF70" d="M97.7 100.4H105.4V108.2H97.7Z"/><path fill="#00AFFF" d="M105.4 100.4H113.0V108.2H105.4Z"/><path fill="#0050FF" d="M113.0 100.4H120.7V108.2H113.0Z"/><path fill="#008FFF" d="M120.7 100.4H128.3V108.2H120.7Z"/><path fill="#0070FF" d="M151.2 170.1H158.9V177.9H151.2Z"/><path fill="#0070FF" d="M158.9 170.1H166.5V177.9H158.9Z"/><path fill="#0060FF" d="M143.6 177.9H151.2V185.6H143.6Z"/><path fill="#0010FF" d="M151.2 177.9H158.9V185.6H151.2Z"/><path fill="#0010FF" d="M158.9 177.9H166.5V185.6H158.9Z"/><path fill="#0010FF" d="M166.5 177.9H174.2V185.6H166.5Z"/><path fill="#0040FF" d="M143.6 185.6H151.2V193.3H143.6Z"/><path fill="#0000FF" d="M151.2 185.6H158.9V193.3H151.2Z"/><path fill="#0000FF" d="M158.9 185.6H166.5V193.3H158.9Z"/><path fill="#0000FF" d="M166.5 185.6H174.2V193.3H166.5Z"/><path fill="#0030FF" d="M174.2 185.6H181.8V193.3H174.2Z"/><path fill="#00AFFF" d="M181.8 185.6H189.5V193.3H181.8Z"/><path fill="#0030FF" d="M135.9 193.3H143.6V201.0H135.9Z"/><path fill="#0000FF" d="M143.6 193.3H151.2V201.0H143.6Z"/><path fill="#0000EF" d="M151.2 193.3H158.9V201.0H151.2Z"/><path fill="#0000DF" d="M158.9 193.3H166.5V201.0H158.9Z"/><path fill="#0000EF" d="M166.5 193.3H174.2V201.0H166.5Z"/><path fill="#0000FF" d="M174.2 193.3H181.8V201.0H174.2Z"/><path fill="#0010FF" d="M181.8 193.3H189.5V201.0H181.8Z"/><path fill="#0050FF" d="M189.5 193.3H197.1V201.0H189.5Z"/><path fill="#00CFFF" d="M197.1 193.3H204.7V201.0H197.1Z"/><path fill="#10FFEF" d="M220.0 193.3H227.7V201.0H220.0Z"/><path fill="#30FFCF" d="M227.7 193.3H235.3V201.0H227.7Z"/><path fill="#00AFFF" d="M128.3 201.0H135.9V208.7H128.3Z"/><path fill="#0010FF" d="M135.9 201.0H143.6V208.7H135.9Z"/><path fill="#0000FF" d="M143.6 201.0H151.2V208.7H143.6Z"/><path fill="#0000EF" d="M151.2 201.0H158.9V208.7H151.2Z"/><path fill="#0000DF" d="M158.9 201.0H166.5V208.7H158.9Z"/><path fill="#0000EF" d="M166.5 201.0H174.2V208.7H166.5Z"/><path fill="#0000EF" d="M174.2 201.0H181.8V208.7H174.2Z"/><path fill="#0000FF" d="M181.8 201.0H189.5V208.7H181.8Z"/><path fill="#0010FF" d="M189.5 201.0H197.1V208.7H189.5Z"/><path fill="#0030FF" d="M197.1 201.0H204.7V208.7H197.1Z"/><path fill="#00CFFF" d="M204.7 201.0H212.4V208.7H204.7Z"/><path fill="#10FFEF" d="M220.0 201.0H227.7V208.7H220.0Z"/><path fill="#20FFDF" d="M227.7 201.0H235.3V208.7H227.7Z"/><path fill="#60FF9F" d="M235.3 201.0H243.0V208.7H235.3Z"/><path fill="#00AFFF" d="M128.3 208.7H135.9V216.4H128.3Z"/><path fill="#0010FF" d="M135.9 208.7H143.6V216.4H135.9Z"/><path fill="#0000FF" d="M143.6 208.7H151.2V216.4H143.6Z"/><path fill="#0000EF" d="M151.2 208.7H158.9V216.4H151.2Z"/><path fill="#0000EF" d="M158.9 208.7H166.5V216.4H158.9Z"/><path fill="#0000EF" d="M166.5 208.7H174.2V216.4H166.5Z"/><path fill="#0000FF" d="M174.2 208.7H181.8V216.4H174.2Z"/><path fill="#0000FF" d="M181.8 208.7H189.5V216.4H181.8Z"/><path fill="#0010FF" d="M189.5 208.7H197.1V216.4H189.5Z"/><path fill="#0050FF" d="M197.1 208.7H204.7V216.4H197.1Z"/><path fill="#0060FF" d="M204.7 208.7H212.4V216.4H204.7Z"/><path fill="#00EFFF" d="M220.0 208.7H227.7V216.4H220.0Z"/><path fill="#10FFEF" d="M227.7 208.7H235.3V216.4H227.7Z"/><path fill="#50FFAF" d="M235.3 208.7H243.0V216.4H235.3Z"/><path fill="#0070FF" d="M128.3 216.4H135.9V224.1H128.3Z"/><path fill="#0010FF" d="M135.9 216.4H143.6V224.1H135.9Z"/><path fill="#0000FF" d="M143.6 216.4H151.2V224.1H143.6Z"/><path fill="#0000FF" d="M151.2 216.4H158.9V224.1H151.2Z"/><path fill="#0000EF" d="M158.9 216.4H166.5V224.1H158.9Z"/><path fill="#0000FF" d="M166.5 216.4H174.2V224.1H166.5Z"/><path fill="#0000FF" d="M174.2 216.4H181.8V224.1H174.2Z"/><path fill="#0000FF" d="M181.8 216.4H189.5V224.1H181.8Z"/><path fill="#0010FF" d="M189.5 216.4H197.1V224.1H189.5Z"/><path fill="#0030FF" d="M197.1 216.4H204.7V224.1H197.1Z"/><path fill="#008FFF" d="M204.7 216.4H212.4V224.1H204.7Z"/><path fill="#00EFFF" d="M212.4 216.4H220.0V224.1H212.4Z"/><path fill="#8FFF70" d="M220.0 216.4H227.7V224.1H220.0Z"/><path fill="#0070FF" d="M135.9 224.1H143.6V231.7H135.9Z"/><path fill="#0030FF" d="M143.6 224.1H151.2V231.7H143.6Z"/><path fill="#0000FF" d="M151.2 224.1H158.9V231.7H151.2Z"/><path fill="#0000FF" d="M158.9 224.1H166.5V231.7H158.9Z"/><path fill="#0000FF" d="M166.5 224.1H174.2V231.7H166.5Z"/><path fill="#0000FF" d="M174.2 224.1H181.8V231.7H174.2Z"/><path fill="#0000FF" d="M181.8 224.1H189.5V231.7H181.8Z"/><path fill="#0010FF" d="M189.5 224.1H197.1V231.7H189.5Z"/><path fill="#0040FF" d="M197.1 224.1H204.7V231.7H197.1Z"/><path fill="#008FFF" d="M204.7 224.1H212.4V231.7H204.7Z"/><path fill="#10FFEF" d="M212.4 224.1H220.0V231.7H212.4Z"/><path fill="#0040FF" d="M135.9 231.7H143.6V239.4H135.9Z"/><path fill="#0020FF" d="M143.6 231.7H151.2V239.4H143.6Z"/><path fill="#0010FF" d="M151.2 231.7H158.9V239.4H151.2Z"/><path fill="#0010FF" d="M158.9 231.7H166.5V239.4H158.9Z"/><path fill="#0010FF" d="M166.5 231.7H174.2V239.4H166.5Z"/><path fill="#0010FF" d="M174.2 231.7H181.8V239.4H174.2Z"/><path fill="#0010FF" d="M181.8 231.7H189.5V239.4H181.8Z"/><path fill="#0020FF" d="M189.5 231.7H197.1V239.4H189.5Z"/><path fill="#0050FF" d="M197.1 231.7H204.7V239.4H197.1Z"/><path fill="#00DFFF" d="M204.7 231.7H212.4V239.4H204.7Z"/><path fill="#0020FF" d="M135.9 239.4H143.6V247.1H135.9Z"/><path fill="#0010FF" d="M143.6 239.4H151.2V247.1H143.6Z"/><path fill="#0030FF" d="M151.2 239.4H158.9V247.1H151.2Z"/><path fill="#0040FF" d="M158.9 239.4H166.5V247.1H158.9Z"/><path fill="#0030FF" d="M166.5 239.4H174.2V247.1H166.5Z"/><path fill="#0030FF" d="M174.2 239.4H181.8V247.1H174.2Z"/><path fill="#0030FF" d="M181.8 239.4H189.5V247.1H181.8Z"/><path fill="#0030FF" d="M189.5 239.4H197.1V247.1H189.5Z"/><path fill="#0060FF" d="M197.1 239.4H204.7V247.1H197.1Z"/><path fill="#0050FF" d="M143.6 247.1H151.2V254.8H143.6Z"/><path fill="#0070FF" d="M151.2 247.1H158.9V254.8H151.2Z"/><path fill="#0080FF" d="M158.9 247.1H166.5V254.8H158.9Z"/><path fill="#0070FF" d="M166.5 247.1H174.2V254.8H166.5Z"/><path fill="#0050FF" d="M174.2 247.1H181.8V254.8H174.2Z"/><path fill="#0070FF" d="M181.8 247.1H189.5V254.8H181.8Z"/><path fill="#0080FF" d="M189.5 247.1H197.1V254.8H189.5Z"/><path fill="#008FFF" d="M151.2 254.8H158.9V262.4H151.2Z"/><path fill="#00AFFF" d="M158.9 254.8H166.5V262.4H158.9Z"/><path fill="#0070FF" d="M166.5 254.8H174.2V262.4H166.5Z"/><path fill="#0080FF" d="M174.2 254.8H181.8V262.4H174.2Z"/><path fill="#00DFFF" d="M181.8 254.8H189.5V262.4H181.8Z"/><path fill="#00BFFF" d="M158.9 262.4H166.5V270.1H158.9Z"/><path fill="#00EFFF" d="M166.5 262.4H174.2V270.1H166.5Z"/><path fill="#00AFFF" d="M105.4 262.4H113.0V270.1H105.4Z"/><path fill="#0060FF" d="M105.4 270.1H113.0V277.7H105.4Z"/><path fill="#0050FF" d="M105.4 277.7H113.0V285.4H105.4Z"/><path fill="#00AFFF" d="M105.4 285.4H113.0V293.0H105.4Z"/><path fill="#0050FF" d="M105.4 293.0H113.0V300.7H105.4Z"/><path fill="#008FFF" d="M97.7 300.7H105.4V308.3H97.7Z"/><path fill="#0040FF" d="M105.4 300.7H113.0V308.3H105.4Z"/><path fill="#0080FF" d="M97.7 308.3H105.4V315.9H97.7Z"/><path fill="#0040FF" d="M105.4 308.3H113.0V315.9H105.4Z"/><path fill="#FFEF00" d="M220.0 270.1H227.7V277.7H220.0Z"/><path fill="#CFFF30" d="M227.7 270.1H235.3V277.7H227.7Z"/><path fill="#CFFF30" d="M235.3 270.1H243.0V277.7H235.3Z"/><path fill="#80FF80" d="M189.5 277.7H197.1V285.4H189.5Z"/><path fill="#50FFAF" d="M197.1 277.7H204.7V285.4H197.1Z"/><path fill="#50FFAF" d="M204.7 277.7H212.4V285.4H204.7Z"/><path fill="#8FFF70" d="M212.4 277.7H220.0V285.4H212.4Z"/><path fill="#30FFCF" d="M220.0 277.7H227.7V285.4H220.0Z"/><path fill="#FFFF00" d="M227.7 277.7H235.3V285.4H227.7Z"/><path fill="#FFFF00" d="M235.3 277.7H243.0V285.4H235.3Z"/><path fill="#80FF80" d="M181.8 285.4H189.5V293.0H181.8Z"/><path fill="#10FFEF" d="M189.5 285.4H197.1V293.0H189.5Z"/><path fill="#70FF8F" d="M197.1 285.4H204.7V293.0H197.1Z"/><path fill="#8FFF70" d="M204.7 285.4H212.4V293.0H204.7Z"/><path fill="#CFFF30" d="M212.4 285.4H220.0V293.0H212.4Z"/><path fill="#CFFF30" d="M220.0 285.4H227.7V293.0H220.0Z"/><path fill="#30FFCF" d="M227.7 285.4H235.3V293.0H227.7Z"/><path fill="#FFFF00" d="M235.3 285.4H243.0V293.0H235.3Z"/><path fill="#FFDF00" d="M174.2 293.0H181.8V300.7H174.2Z"/><path fill="#CFFF30" d="M181.8 293.0H189.5V300.7H181.8Z"/><path fill="#60FF9F" d="M189.5 293.0H197.1V300.7H189.5Z"/><path fill="#20FFDF" d="M197.1 293.0H204.7V300.7H197.1Z"/><path fill="#CFFF30" d="M204.7 293.0H212.4V300.7H204.7Z"/><path fill="#FFAF00" d="M212.4 293.0H220.0V300.7H212.4Z"/><path fill="#DFFF20" d="M220.0 293.0H227.7V300.7H220.0Z"/><path fill="#CFFF30" d="M227.7 293.0H235.3V300.7H227.7Z"/><path fill="#FFDF00" d="M181.8 300.7H189.5V308.3H181.8Z"/><path fill="#FFFF00" d="M189.5 300.7H197.1V308.3H189.5Z"/><path fill="#FFAF00" d="M181.8 308.3H189.5V315.9H181.8Z"/><path fill="#EFFF10" d="M189.5 308.3H197.1V315.9H189.5Z"/><path fill="#FF3000" d="M174.2 315.9H181.8V323.5H174.2Z"/><path fill="#FF9F00" d="M181.8 315.9H189.5V323.5H181.8Z"/><path fill="#FFDF00" d="M189.5 315.9H197.1V323.5H189.5Z"/><path fill="#8F0000" d="M174.2 323.5H181.8V331.2H174.2Z"/><path fill="#FF1000" d="M181.8 323.5H189.5V331.2H181.8Z"/><path fill="#FF7000" d="M189.5 323.5H197.1V331.2H189.5Z"/><path fill="#8F0000" d="M181.8 331.2H189.5V338.8H181.8Z"/></g>
<use href="#landfill" fill="#80E680" stroke="#000" stroke-width="0.9" stroke-linejoin="round"/><g clip-path="url(#landclip)"><g stroke="#000" stroke-opacity="0.36" stroke-width="0.75" stroke-dasharray="2.3 5.95" fill="none"><path d="M58.0 0V427.6"/><path d="M116.0 0V427.6"/><path d="M174.0 0V427.6"/><path d="M232.0 0V427.6"/><path d="M290.0 0V427.6"/><path d="M0 72.4H348.0"/><path d="M0 144.3H348.0"/><path d="M0 215.8H348.0"/><path d="M0 286.8H348.0"/><path d="M0 357.4H348.0"/></g><g stroke="#222" stroke-width="0.85" fill="none"><path d="M58.0 0v4.4M58.0 427.6v-4.4"/><path d="M116.0 0v4.4M116.0 427.6v-4.4"/><path d="M174.0 0v4.4M174.0 427.6v-4.4"/><path d="M232.0 0v4.4M232.0 427.6v-4.4"/><path d="M290.0 0v4.4M290.0 427.6v-4.4"/><path d="M0 72.4h4.4M348.0 72.4h-4.4"/><path d="M0 144.3h4.4M348.0 144.3h-4.4"/><path d="M0 215.8h4.4M348.0 215.8h-4.4"/><path d="M0 286.8h4.4M348.0 286.8h-4.4"/><path d="M0 357.4h4.4M348.0 357.4h-4.4"/></g></g><path d="M60.4 20.3 62.0 27.9 64.5 36.5 66.7 45.1 70.6 52.9 72.3 59.8 74.0 66.7 75.8 73.6 77.5 80.5 79.2 87.4 81.4 96.9 84.4 106.3 87.0 115.0 89.6 123.6 93.0 132.2 96.5 139.1 99.9 146.0 103.4 152.9 106.0 159.8 108.5 165.8 111.1 172.8 113.7 179.7 116.3 186.6 118.5 193.4 120.2 201.2 118.9 197.7 120.2 202.9 119.8 208.9 118.5 214.9 117.2 223.6 115.9 232.2 114.1 238.2 112.8 244.3 112.7 244.4 113.0 250.2" fill="none" stroke="#000" stroke-width="1.25" stroke-linejoin="round"/><path d="M113.0 250.2 108.4 251.8 103.5 253.0 95.2 256.8 85.3 261.0 75.5 266.0 67.2 270.3 59.0 275.9 52.4 281.0 45.8 286.7 37.6 294.1 29.3 302.2 21.1 310.4 12.9 319.4 6.3 326.3 0.5 333.5" fill="none" stroke="#000" stroke-width="2.0" stroke-linejoin="round"/><path d="M5.9 117.5 11.9 122.7 18.0 127.0 21.4 130.1" fill="none" stroke="#000" stroke-width="2.6"/><path d="M5.9 117.5 11.9 122.7 18.0 127.0 21.4 130.1" fill="none" stroke="#fff" stroke-width="1.1"/><path d="M25.7 116.7 30.0 121.8 34.4 127.0" fill="none" stroke="#000" stroke-width="2.6"/><path d="M25.7 116.7 30.0 121.8 34.4 127.0" fill="none" stroke="#fff" stroke-width="1.1"/><use href="#dots"/>
<g fill="none" stroke="#000" stroke-width="0.8"><path d="M82.4 77.8 86.9 84.8 90.7 93.7 97.0 102.6 104.0 108.3"/><path d="M197.1 201.8 204.9 208.9"/><path d="M211.2 223.0 208.0 232.4 201.8 242.6"/><path d="M161.0 270.0 168.0 268.8"/><path d="M180.6 262.2 182.9 260.9"/><path d="M90.4 6.5 91.7 1.4"/><path d="M101.9 2.7 102.4 1.0"/></g>
<g stroke="#FF0000" stroke-width="1.2" fill="none" stroke-linecap="butt"><path d="M58.2 45.2h16.6M66.5 36.9v16.6M60.6 39.3l11.7 11.7M60.6 51.1l11.7 -11.7"/></g>
<g stroke="#FF0000" stroke-width="1.2" fill="none" stroke-linecap="butt"><path d="M95.9 157.0h16.6M104.2 148.7v16.6M98.3 151.1l11.7 11.7M98.3 162.9l11.7 -11.7"/></g>
<g stroke="#FF0000" stroke-width="1.2" fill="none" stroke-linecap="butt"><path d="M105.5 250.0h16.6M113.8 241.7v16.6M107.9 244.1l11.7 11.7M107.9 255.9l11.7 -11.7"/></g>
<g stroke="#FF0000" stroke-width="1.2" fill="none" stroke-linecap="butt"><path d="M1.8 320.9h16.6M10.1 312.6v16.6M4.2 315.0l11.7 11.7M4.2 326.8l11.7 -11.7"/></g>
</g>
<path d="M0 0V427.6" stroke="#111" stroke-width="1.05"/>
<rect x="3.7" y="19.7" width="113.6" height="25.2" fill="url(#jet)" stroke="#2a2a2a" stroke-width="1.1"/><text x="3.0" y="6.9" font-size="16.70" text-anchor="middle" fill="#262626">0</text><text x="59.6" y="6.9" font-size="16.70" text-anchor="middle" fill="#262626">2</text><text x="115.3" y="6.9" font-size="16.70" text-anchor="middle" fill="#262626">4</text>
<text x="341" y="36.9" font-size="20.8" text-anchor="end" fill="#000">10 km</text><path d="M306.5 43.2h14.3" stroke="#000" stroke-width="3.2" stroke-linecap="round"/>
<text x="-6.4" y="7.2" font-size="21.2" text-anchor="end" fill="#000">37°N</text><text x="-6.4" y="151.5" font-size="21.2" text-anchor="end" fill="#000">36°N</text><text x="-6.4" y="294.0" font-size="21.2" text-anchor="end" fill="#000">35°N</text><text x="-6.4" y="434.8" font-size="21.2" text-anchor="end" fill="#000">34°N</text><text x="-5.6" y="78.7" font-size="16.5" text-anchor="end" fill="#000">30'</text><text x="-5.6" y="222.1" font-size="16.5" text-anchor="end" fill="#000">30'</text><text x="-5.6" y="363.7" font-size="16.5" text-anchor="end" fill="#000">30'</text><text x="58.0" y="448.6" font-size="21.2" text-anchor="middle" fill="#000">76°W</text><text x="174.0" y="448.6" font-size="21.2" text-anchor="middle" fill="#000">75°W</text><text x="290.0" y="448.6" font-size="21.2" text-anchor="middle" fill="#000">74°W</text><text x="-0.6" y="444.8" font-size="16.5" text-anchor="middle" fill="#000">30'</text><text x="115.4" y="444.8" font-size="16.5" text-anchor="middle" fill="#000">30'</text><text x="231.4" y="444.8" font-size="16.5" text-anchor="middle" fill="#000">30'</text><text x="347.4" y="444.8" font-size="16.5" text-anchor="middle" fill="#000">30'</text>
<text x="173.0" y="-12.8" font-size="20.80" font-weight="bold" text-anchor="middle" fill="#000">GDOP TotalErrors (1.25)</text>

</g>
<g transform="translate(843.6,142.6)">
<rect x="0" y="0" width="348.0" height="427.6" fill="none" stroke="#303030" stroke-width="0.95"/>
<g stroke="#222" stroke-width="0.85" fill="none"><path d="M58.0 0v4.4M58.0 427.6v-4.4"/><path d="M116.0 0v4.4M116.0 427.6v-4.4"/><path d="M174.0 0v4.4M174.0 427.6v-4.4"/><path d="M232.0 0v4.4M232.0 427.6v-4.4"/><path d="M290.0 0v4.4M290.0 427.6v-4.4"/><path d="M0 72.4h4.4M348.0 72.4h-4.4"/><path d="M0 144.3h4.4M348.0 144.3h-4.4"/><path d="M0 215.8h4.4M348.0 215.8h-4.4"/><path d="M0 286.8h4.4M348.0 286.8h-4.4"/><path d="M0 357.4h4.4M348.0 357.4h-4.4"/></g>
<g clip-path="url(#axclip)">
<g stroke="#000" stroke-opacity="0.36" stroke-width="0.75" stroke-dasharray="2.3 5.95" fill="none"><path d="M58.0 0V427.6"/><path d="M116.0 0V427.6"/><path d="M174.0 0V427.6"/><path d="M232.0 0V427.6"/><path d="M290.0 0V427.6"/><path d="M0 72.4H348.0"/><path d="M0 144.3H348.0"/><path d="M0 215.8H348.0"/><path d="M0 286.8H348.0"/><path d="M0 357.4H348.0"/></g>
<g shape-rendering="crispEdges"><path fill="#0010FF" d="M67.2 -1.0H74.8V6.8H67.2ZM67.2 6.8H74.8V14.6H67.2ZM143.6 22.5H151.2V30.3H143.6ZM143.6 30.3H151.2V38.1H143.6ZM151.2 38.1H158.9V45.9H151.2ZM158.9 53.7H166.5V61.5H158.9ZM158.9 61.5H166.5V69.3H158.9ZM151.2 69.3H174.2V77.1H151.2ZM143.6 77.1H151.2V84.9H143.6ZM181.8 84.9H189.5V92.7H181.8ZM197.1 84.9H204.7V92.7H197.1ZM143.6 92.7H151.2V100.4H143.6ZM174.2 92.7H181.8V100.4H174.2ZM204.7 92.7H212.4V100.4H204.7ZM143.6 100.4H151.2V108.2H143.6ZM174.2 100.4H189.5V108.2H174.2ZM204.7 100.4H220.0V108.2H204.7ZM158.9 108.2H166.5V116.0H158.9ZM212.4 123.7H220.0V131.5H212.4ZM235.3 123.7H243.0V131.5H235.3ZM235.3 131.5H243.0V139.2H235.3ZM243.0 139.2H250.6V146.9H243.0ZM235.3 162.4H243.0V170.1H235.3ZM227.7 170.1H235.3V177.9H227.7ZM120.7 177.9H128.3V185.6H120.7ZM220.0 177.9H227.7V185.6H220.0ZM227.7 193.3H235.3V201.0H227.7ZM128.3 208.7H135.9V216.4H128.3ZM227.7 208.7H235.3V216.4H227.7ZM220.0 216.4H235.3V224.1H220.0ZM120.7 224.1H128.3V231.7H120.7ZM227.7 224.1H235.3V231.7H227.7ZM227.7 231.7H235.3V239.4H227.7ZM227.7 239.4H235.3V247.1H227.7ZM220.0 254.8H227.7V262.4H220.0ZM220.0 262.4H235.3V270.1H220.0ZM105.4 270.1H113.0V277.7H105.4ZM220.0 270.1H227.7V277.7H220.0ZM235.3 270.1H243.0V277.7H235.3ZM220.0 277.7H227.7V285.4H220.0ZM243.0 277.7H250.6V285.4H243.0ZM97.7 285.4H105.4V293.0H97.7ZM212.4 285.4H227.7V293.0H212.4ZM74.8 293.0H90.1V300.7H74.8ZM220.0 293.0H227.7V300.7H220.0ZM235.3 293.0H243.0V300.7H235.3ZM82.4 300.7H90.1V308.3H82.4ZM97.7 300.7H120.7V308.3H97.7ZM227.7 300.7H250.6V308.3H227.7ZM90.1 308.3H97.7V315.9H90.1ZM105.4 308.3H128.3V315.9H105.4ZM158.9 308.3H174.2V315.9H158.9ZM220.0 308.3H227.7V315.9H220.0ZM235.3 308.3H243.0V315.9H235.3ZM90.1 315.9H97.7V323.5H90.1ZM143.6 315.9H151.2V323.5H143.6ZM158.9 315.9H174.2V323.5H158.9ZM212.4 315.9H227.7V323.5H212.4ZM235.3 315.9H243.0V323.5H235.3ZM212.4 323.5H220.0V331.2H212.4ZM105.4 331.2H113.0V338.8H105.4ZM189.5 331.2H204.7V338.8H189.5ZM220.0 331.2H227.7V338.8H220.0ZM113.0 338.8H120.7V346.4H113.0ZM197.1 338.8H212.4V346.4H197.1ZM113.0 346.4H120.7V354.0H113.0ZM6.0 354.0H13.6V361.6H6.0ZM105.4 354.0H113.0V361.6H105.4ZM97.7 361.6H105.4V369.2H97.7ZM13.6 369.2H21.3V376.8H13.6ZM82.4 369.2H90.1V376.8H82.4ZM13.6 376.8H21.3V384.3H13.6ZM74.8 376.8H82.4V384.3H74.8ZM13.6 384.3H21.3V391.9H13.6ZM13.6 391.9H21.3V399.5H13.6ZM44.2 391.9H67.2V399.5H44.2ZM21.3 399.5H44.2V407.1H21.3Z"/><path fill="#0040FF" d="M74.8 -1.0H82.4V6.8H74.8ZM128.3 6.8H135.9V14.6H128.3ZM135.9 14.6H143.6V22.5H135.9ZM135.9 22.5H143.6V30.3H135.9ZM151.2 45.9H158.9V53.7H151.2ZM151.2 53.7H158.9V61.5H151.2ZM151.2 61.5H158.9V69.3H151.2ZM143.6 69.3H151.2V77.1H143.6ZM82.4 77.1H90.1V84.9H82.4ZM90.1 100.4H97.7V108.2H90.1ZM143.6 108.2H158.9V116.0H143.6ZM174.2 108.2H181.8V116.0H174.2ZM212.4 108.2H227.7V116.0H212.4ZM158.9 116.0H197.1V123.7H158.9ZM174.2 123.7H181.8V131.5H174.2ZM189.5 123.7H197.1V131.5H189.5ZM204.7 123.7H212.4V131.5H204.7ZM220.0 123.7H235.3V131.5H220.0ZM204.7 131.5H212.4V139.2H204.7ZM220.0 131.5H227.7V139.2H220.0ZM212.4 139.2H227.7V146.9H212.4ZM235.3 139.2H243.0V146.9H235.3ZM189.5 146.9H197.1V154.7H189.5ZM212.4 146.9H227.7V154.7H212.4ZM197.1 154.7H212.4V162.4H197.1ZM220.0 154.7H235.3V162.4H220.0ZM212.4 162.4H227.7V170.1H212.4ZM212.4 170.1H227.7V177.9H212.4ZM128.3 177.9H135.9V185.6H128.3ZM189.5 177.9H197.1V185.6H189.5ZM204.7 185.6H220.0V193.3H204.7ZM135.9 193.3H143.6V201.0H135.9ZM204.7 193.3H227.7V201.0H204.7ZM135.9 201.0H143.6V208.7H135.9ZM212.4 201.0H220.0V208.7H212.4ZM212.4 208.7H220.0V216.4H212.4ZM212.4 216.4H220.0V224.1H212.4ZM220.0 239.4H227.7V247.1H220.0ZM212.4 247.1H220.0V254.8H212.4ZM204.7 254.8H220.0V262.4H204.7ZM105.4 262.4H113.0V270.1H105.4ZM212.4 270.1H220.0V277.7H212.4ZM113.0 277.7H120.7V285.4H113.0ZM197.1 277.7H204.7V285.4H197.1ZM212.4 277.7H220.0V285.4H212.4ZM174.2 285.4H181.8V293.0H174.2ZM197.1 285.4H204.7V293.0H197.1ZM67.2 293.0H74.8V300.7H67.2ZM166.5 293.0H181.8V300.7H166.5ZM189.5 293.0H212.4V300.7H189.5ZM227.7 293.0H235.3V300.7H227.7ZM74.8 300.7H82.4V308.3H74.8ZM120.7 300.7H128.3V308.3H120.7ZM158.9 300.7H197.1V308.3H158.9ZM74.8 308.3H82.4V315.9H74.8ZM128.3 308.3H135.9V315.9H128.3ZM143.6 308.3H158.9V315.9H143.6ZM174.2 308.3H181.8V315.9H174.2ZM189.5 308.3H197.1V315.9H189.5ZM204.7 308.3H220.0V315.9H204.7ZM82.4 315.9H90.1V323.5H82.4ZM204.7 315.9H212.4V323.5H204.7ZM82.4 323.5H97.7V331.2H82.4ZM82.4 331.2H90.1V338.8H82.4ZM97.7 331.2H105.4V338.8H97.7ZM105.4 338.8H113.0V346.4H105.4ZM74.8 354.0H90.1V361.6H74.8ZM97.7 354.0H105.4V361.6H97.7ZM13.6 361.6H21.3V369.2H13.6ZM74.8 361.6H90.1V369.2H74.8ZM59.5 369.2H67.2V376.8H59.5ZM74.8 369.2H82.4V376.8H74.8ZM28.9 376.8H36.6V384.3H28.9ZM51.9 376.8H67.2V384.3H51.9ZM44.2 384.3H51.9V391.9H44.2ZM59.5 384.3H67.2V391.9H59.5ZM28.9 391.9H36.6V399.5H28.9Z"/><path fill="#00BFFF" d="M82.4 -1.0H90.1V6.8H82.4ZM97.7 -1.0H113.0V6.8H97.7ZM105.4 6.8H113.0V14.6H105.4ZM120.7 22.5H128.3V30.3H120.7ZM135.9 61.5H143.6V69.3H135.9ZM82.4 69.3H90.1V77.1H82.4ZM135.9 69.3H143.6V77.1H135.9ZM90.1 84.9H97.7V92.7H90.1ZM128.3 92.7H135.9V100.4H128.3ZM120.7 100.4H128.3V108.2H120.7ZM97.7 116.0H105.4V123.7H97.7ZM135.9 116.0H143.6V123.7H135.9ZM143.6 123.7H151.2V131.5H143.6ZM143.6 131.5H158.9V139.2H143.6ZM158.9 139.2H166.5V146.9H158.9ZM158.9 154.7H166.5V162.4H158.9ZM158.9 162.4H174.2V170.1H158.9ZM158.9 170.1H174.2V177.9H158.9ZM143.6 177.9H158.9V185.6H143.6ZM166.5 185.6H174.2V193.3H166.5ZM174.2 193.3H181.8V201.0H174.2ZM189.5 201.0H197.1V208.7H189.5ZM189.5 208.7H197.1V216.4H189.5ZM189.5 216.4H197.1V224.1H189.5ZM189.5 231.7H197.1V239.4H189.5ZM181.8 239.4H197.1V247.1H181.8ZM174.2 247.1H197.1V254.8H174.2ZM174.2 254.8H189.5V262.4H174.2ZM181.8 262.4H189.5V270.1H181.8ZM158.9 270.1H166.5V277.7H158.9ZM158.9 277.7H166.5V285.4H158.9ZM128.3 285.4H135.9V293.0H128.3ZM143.6 285.4H151.2V293.0H143.6ZM59.5 300.7H67.2V308.3H59.5ZM44.2 315.9H51.9V323.5H44.2ZM44.2 323.5H51.9V331.2H44.2ZM59.5 331.2H67.2V338.8H59.5ZM51.9 338.8H59.5V346.4H51.9ZM13.6 346.4H21.3V354.0H13.6ZM51.9 346.4H59.5V354.0H51.9ZM28.9 354.0H36.6V361.6H28.9ZM44.2 361.6H51.9V369.2H44.2Z"/><path fill="#008FFF" d="M90.1 -1.0H97.7V6.8H90.1ZM74.8 6.8H82.4V14.6H74.8ZM128.3 22.5H135.9V30.3H128.3ZM128.3 30.3H135.9V38.1H128.3ZM135.9 38.1H143.6V45.9H135.9ZM143.6 45.9H151.2V53.7H143.6ZM143.6 53.7H151.2V61.5H143.6ZM143.6 61.5H151.2V69.3H143.6ZM135.9 77.1H143.6V84.9H135.9ZM97.7 100.4H105.4V108.2H97.7ZM113.0 108.2H120.7V116.0H113.0ZM128.3 108.2H143.6V116.0H128.3ZM143.6 116.0H158.9V123.7H143.6ZM151.2 123.7H166.5V131.5H151.2ZM174.2 131.5H181.8V139.2H174.2ZM166.5 139.2H181.8V146.9H166.5ZM197.1 139.2H204.7V146.9H197.1ZM166.5 146.9H181.8V154.7H166.5ZM197.1 146.9H204.7V154.7H197.1ZM174.2 154.7H189.5V162.4H174.2ZM174.2 162.4H181.8V170.1H174.2ZM174.2 170.1H204.7V177.9H174.2ZM181.8 177.9H189.5V185.6H181.8ZM181.8 185.6H189.5V193.3H181.8ZM189.5 193.3H197.1V201.0H189.5ZM197.1 201.0H204.7V208.7H197.1ZM135.9 208.7H143.6V216.4H135.9ZM128.3 224.1H135.9V231.7H128.3ZM204.7 224.1H212.4V231.7H204.7ZM197.1 247.1H204.7V254.8H197.1ZM197.1 254.8H204.7V262.4H197.1ZM189.5 262.4H197.1V270.1H189.5ZM174.2 270.1H181.8V277.7H174.2ZM197.1 270.1H204.7V277.7H197.1ZM166.5 277.7H174.2V285.4H166.5ZM189.5 277.7H197.1V285.4H189.5ZM158.9 285.4H166.5V293.0H158.9ZM128.3 293.0H166.5V300.7H128.3ZM135.9 300.7H151.2V308.3H135.9ZM59.5 308.3H67.2V315.9H59.5ZM67.2 315.9H74.8V323.5H67.2ZM59.5 323.5H82.4V331.2H59.5ZM67.2 331.2H74.8V338.8H67.2ZM90.1 331.2H97.7V338.8H90.1ZM67.2 338.8H82.4V346.4H67.2ZM74.8 346.4H82.4V354.0H74.8ZM51.9 354.0H67.2V361.6H51.9ZM21.3 361.6H28.9V369.2H21.3ZM51.9 361.6H67.2V369.2H51.9ZM36.6 369.2H44.2V376.8H36.6ZM44.2 376.8H51.9V384.3H44.2ZM36.6 384.3H44.2V391.9H36.6Z"/><path fill="#0080FF" d="M113.0 -1.0H128.3V6.8H113.0ZM113.0 6.8H128.3V14.6H113.0ZM120.7 14.6H135.9V22.5H120.7ZM90.1 92.7H97.7V100.4H90.1ZM128.3 100.4H135.9V108.2H128.3ZM97.7 108.2H113.0V116.0H97.7ZM120.7 108.2H128.3V116.0H120.7ZM158.9 131.5H174.2V139.2H158.9ZM181.8 139.2H189.5V146.9H181.8ZM181.8 146.9H189.5V154.7H181.8ZM166.5 154.7H174.2V162.4H166.5ZM189.5 154.7H197.1V162.4H189.5ZM181.8 162.4H197.1V170.1H181.8ZM135.9 177.9H143.6V185.6H135.9ZM174.2 177.9H181.8V185.6H174.2ZM135.9 185.6H151.2V193.3H135.9ZM174.2 185.6H181.8V193.3H174.2ZM189.5 185.6H197.1V193.3H189.5ZM197.1 193.3H204.7V201.0H197.1ZM197.1 208.7H204.7V216.4H197.1ZM135.9 216.4H143.6V224.1H135.9ZM204.7 231.7H212.4V239.4H204.7ZM197.1 239.4H212.4V247.1H197.1ZM204.7 247.1H212.4V254.8H204.7ZM189.5 254.8H197.1V262.4H189.5ZM197.1 262.4H204.7V270.1H197.1ZM113.0 270.1H120.7V277.7H113.0ZM181.8 270.1H197.1V277.7H181.8ZM174.2 277.7H189.5V285.4H174.2ZM120.7 285.4H128.3V293.0H120.7ZM151.2 285.4H158.9V293.0H151.2ZM166.5 285.4H174.2V293.0H166.5ZM181.8 285.4H189.5V293.0H181.8ZM235.3 285.4H243.0V293.0H235.3ZM128.3 300.7H135.9V308.3H128.3ZM67.2 308.3H74.8V315.9H67.2ZM59.5 315.9H67.2V323.5H59.5ZM51.9 331.2H59.5V338.8H51.9ZM74.8 331.2H82.4V338.8H74.8ZM59.5 338.8H67.2V346.4H59.5ZM90.1 338.8H97.7V346.4H90.1ZM59.5 346.4H74.8V354.0H59.5ZM13.6 354.0H21.3V361.6H13.6ZM67.2 354.0H74.8V361.6H67.2ZM28.9 361.6H36.6V369.2H28.9ZM67.2 361.6H74.8V369.2H67.2ZM28.9 369.2H36.6V376.8H28.9ZM44.2 369.2H59.5V376.8H44.2ZM36.6 376.8H44.2V384.3H36.6Z"/><path fill="#0050FF" d="M128.3 -1.0H135.9V6.8H128.3ZM135.9 30.3H143.6V38.1H135.9ZM143.6 38.1H151.2V45.9H143.6ZM82.4 84.9H90.1V92.7H82.4ZM135.9 84.9H143.6V92.7H135.9ZM135.9 92.7H143.6V100.4H135.9ZM189.5 92.7H197.1V100.4H189.5ZM135.9 100.4H143.6V108.2H135.9ZM189.5 100.4H204.7V108.2H189.5ZM181.8 108.2H212.4V116.0H181.8ZM197.1 116.0H235.3V123.7H197.1ZM166.5 123.7H174.2V131.5H166.5ZM181.8 123.7H189.5V131.5H181.8ZM197.1 123.7H204.7V131.5H197.1ZM181.8 131.5H204.7V139.2H181.8ZM212.4 131.5H220.0V139.2H212.4ZM227.7 131.5H235.3V139.2H227.7ZM189.5 139.2H197.1V146.9H189.5ZM204.7 139.2H212.4V146.9H204.7ZM227.7 139.2H235.3V146.9H227.7ZM204.7 146.9H212.4V154.7H204.7ZM227.7 146.9H243.0V154.7H227.7ZM212.4 154.7H220.0V162.4H212.4ZM235.3 154.7H243.0V162.4H235.3ZM197.1 162.4H212.4V170.1H197.1ZM227.7 162.4H235.3V170.1H227.7ZM204.7 170.1H212.4V177.9H204.7ZM235.3 170.1H243.0V177.9H235.3ZM197.1 177.9H220.0V185.6H197.1ZM197.1 185.6H204.7V193.3H197.1ZM220.0 185.6H227.7V193.3H220.0ZM204.7 201.0H212.4V208.7H204.7ZM220.0 201.0H227.7V208.7H220.0ZM204.7 208.7H212.4V216.4H204.7ZM220.0 208.7H227.7V216.4H220.0ZM204.7 216.4H212.4V224.1H204.7ZM212.4 224.1H220.0V231.7H212.4ZM212.4 231.7H227.7V239.4H212.4ZM212.4 239.4H220.0V247.1H212.4ZM105.4 254.8H113.0V262.4H105.4ZM204.7 262.4H220.0V270.1H204.7ZM204.7 270.1H212.4V277.7H204.7ZM204.7 277.7H212.4V285.4H204.7ZM189.5 285.4H197.1V293.0H189.5ZM204.7 285.4H212.4V293.0H204.7ZM44.2 293.0H67.2V300.7H44.2ZM120.7 293.0H128.3V300.7H120.7ZM181.8 293.0H189.5V300.7H181.8ZM212.4 293.0H220.0V300.7H212.4ZM151.2 300.7H158.9V308.3H151.2ZM197.1 300.7H212.4V308.3H197.1ZM220.0 300.7H227.7V308.3H220.0ZM135.9 308.3H143.6V315.9H135.9ZM197.1 308.3H204.7V315.9H197.1ZM74.8 315.9H82.4V323.5H74.8ZM189.5 315.9H204.7V323.5H189.5ZM97.7 323.5H105.4V331.2H97.7ZM6.0 338.8H13.6V346.4H6.0ZM82.4 338.8H90.1V346.4H82.4ZM97.7 338.8H105.4V346.4H97.7ZM6.0 346.4H13.6V354.0H6.0ZM82.4 346.4H105.4V354.0H82.4ZM90.1 354.0H97.7V361.6H90.1ZM21.3 369.2H28.9V376.8H21.3ZM67.2 369.2H74.8V376.8H67.2ZM21.3 376.8H28.9V384.3H21.3ZM67.2 376.8H74.8V384.3H67.2ZM28.9 384.3H36.6V391.9H28.9ZM51.9 384.3H59.5V391.9H51.9ZM21.3 391.9H28.9V399.5H21.3ZM36.6 391.9H44.2V399.5H36.6Z"/><path fill="#0020FF" d="M135.9 -1.0H143.6V6.8H135.9ZM135.9 6.8H151.2V14.6H135.9ZM143.6 14.6H151.2V22.5H143.6ZM151.2 77.1H158.9V84.9H151.2ZM143.6 84.9H151.2V92.7H143.6ZM174.2 84.9H181.8V92.7H174.2ZM189.5 84.9H197.1V92.7H189.5ZM181.8 92.7H189.5V100.4H181.8ZM197.1 92.7H204.7V100.4H197.1ZM220.0 100.4H227.7V108.2H220.0ZM166.5 108.2H174.2V116.0H166.5ZM227.7 108.2H235.3V116.0H227.7ZM235.3 116.0H243.0V123.7H235.3ZM243.0 146.9H250.6V154.7H243.0ZM227.7 177.9H235.3V185.6H227.7ZM128.3 185.6H135.9V193.3H128.3ZM227.7 185.6H235.3V193.3H227.7ZM227.7 201.0H243.0V208.7H227.7ZM235.3 208.7H243.0V216.4H235.3ZM128.3 216.4H135.9V224.1H128.3ZM220.0 224.1H227.7V231.7H220.0ZM220.0 247.1H235.3V254.8H220.0ZM227.7 270.1H235.3V277.7H227.7ZM105.4 277.7H113.0V285.4H105.4ZM227.7 277.7H243.0V285.4H227.7ZM105.4 285.4H120.7V293.0H105.4ZM227.7 285.4H235.3V293.0H227.7ZM243.0 285.4H250.6V293.0H243.0ZM90.1 293.0H120.7V300.7H90.1ZM243.0 293.0H250.6V300.7H243.0ZM90.1 300.7H97.7V308.3H90.1ZM212.4 300.7H220.0V308.3H212.4ZM82.4 308.3H90.1V315.9H82.4ZM181.8 308.3H189.5V315.9H181.8ZM227.7 308.3H235.3V315.9H227.7ZM97.7 315.9H105.4V323.5H97.7ZM128.3 315.9H143.6V323.5H128.3ZM151.2 315.9H158.9V323.5H151.2ZM174.2 315.9H189.5V323.5H174.2ZM227.7 315.9H235.3V323.5H227.7ZM105.4 323.5H113.0V331.2H105.4ZM181.8 323.5H212.4V331.2H181.8ZM220.0 323.5H235.3V331.2H220.0ZM181.8 331.2H189.5V338.8H181.8ZM204.7 331.2H220.0V338.8H204.7ZM189.5 338.8H197.1V346.4H189.5ZM212.4 338.8H220.0V346.4H212.4ZM105.4 346.4H113.0V354.0H105.4ZM6.0 361.6H13.6V369.2H6.0ZM90.1 361.6H97.7V369.2H90.1ZM6.0 369.2H13.6V376.8H6.0ZM90.1 369.2H97.7V376.8H90.1ZM21.3 384.3H28.9V391.9H21.3ZM67.2 384.3H74.8V391.9H67.2ZM44.2 399.5H59.5V407.1H44.2Z"/><path fill="#0000DF" d="M143.6 -1.0H151.2V6.8H143.6ZM181.8 77.1H189.5V84.9H181.8ZM151.2 100.4H158.9V108.2H151.2ZM166.5 100.4H174.2V108.2H166.5ZM120.7 193.3H135.9V201.0H120.7ZM120.7 208.7H128.3V216.4H120.7ZM250.6 208.7H258.3V216.4H250.6ZM243.0 216.4H250.6V224.1H243.0ZM235.3 231.7H243.0V239.4H235.3ZM235.3 239.4H243.0V247.1H235.3ZM97.7 254.8H105.4V262.4H97.7ZM227.7 254.8H235.3V262.4H227.7ZM74.8 277.7H90.1V285.4H74.8ZM97.7 277.7H105.4V285.4H97.7ZM74.8 285.4H82.4V293.0H74.8ZM90.1 285.4H97.7V293.0H90.1ZM97.7 308.3H105.4V315.9H97.7ZM113.0 315.9H120.7V323.5H113.0ZM235.3 323.5H243.0V331.2H235.3ZM227.7 331.2H235.3V338.8H227.7ZM220.0 338.8H227.7V346.4H220.0ZM120.7 346.4H128.3V354.0H120.7ZM189.5 346.4H197.1V354.0H189.5ZM97.7 369.2H105.4V376.8H97.7ZM6.0 376.8H13.6V384.3H6.0ZM82.4 376.8H90.1V384.3H82.4ZM6.0 384.3H13.6V391.9H6.0ZM82.4 384.3H90.1V391.9H82.4ZM6.0 399.5H13.6V407.1H6.0ZM13.6 407.1H21.3V414.6H13.6ZM28.9 407.1H44.2V414.6H28.9Z"/><path fill="#0000AF" d="M151.2 -1.0H174.2V6.8H151.2ZM151.2 6.8H174.2V14.6H151.2ZM151.2 14.6H174.2V22.5H151.2ZM151.2 22.5H174.2V30.3H151.2ZM151.2 30.3H174.2V38.1H151.2ZM158.9 38.1H174.2V45.9H158.9ZM158.9 45.9H181.8V53.7H158.9ZM166.5 53.7H189.5V61.5H166.5ZM166.5 61.5H189.5V69.3H166.5ZM174.2 69.3H189.5V77.1H174.2ZM189.5 77.1H204.7V84.9H189.5ZM204.7 84.9H212.4V92.7H204.7ZM158.9 92.7H166.5V100.4H158.9ZM212.4 92.7H227.7V100.4H212.4ZM158.9 100.4H166.5V108.2H158.9ZM227.7 100.4H243.0V108.2H227.7ZM235.3 108.2H258.3V116.0H235.3ZM243.0 116.0H258.3V123.7H243.0ZM243.0 123.7H258.3V131.5H243.0ZM243.0 131.5H258.3V139.2H243.0ZM250.6 139.2H265.9V146.9H250.6ZM250.6 146.9H265.9V154.7H250.6ZM243.0 154.7H265.9V162.4H243.0ZM243.0 162.4H265.9V170.1H243.0ZM243.0 170.1H265.9V177.9H243.0ZM235.3 177.9H258.3V185.6H235.3ZM235.3 185.6H258.3V193.3H235.3ZM235.3 193.3H258.3V201.0H235.3ZM258.3 201.0H265.9V208.7H258.3ZM258.3 208.7H265.9V216.4H258.3ZM250.6 216.4H258.3V224.1H250.6ZM243.0 224.1H258.3V231.7H243.0ZM243.0 231.7H258.3V239.4H243.0ZM243.0 239.4H250.6V247.1H243.0ZM250.6 247.1H258.3V254.8H250.6ZM90.1 254.8H97.7V262.4H90.1ZM250.6 254.8H258.3V262.4H250.6ZM90.1 262.4H97.7V270.1H90.1ZM243.0 262.4H250.6V270.1H243.0ZM243.0 270.1H250.6V277.7H243.0ZM59.5 277.7H67.2V285.4H59.5ZM250.6 277.7H258.3V285.4H250.6ZM250.6 285.4H258.3V293.0H250.6ZM250.6 293.0H258.3V300.7H250.6ZM250.6 300.7H258.3V308.3H250.6ZM250.6 308.3H258.3V315.9H250.6ZM250.6 315.9H258.3V323.5H250.6ZM120.7 323.5H174.2V331.2H120.7ZM243.0 323.5H250.6V331.2H243.0ZM120.7 331.2H181.8V338.8H120.7ZM235.3 331.2H243.0V338.8H235.3ZM120.7 338.8H181.8V346.4H120.7ZM227.7 338.8H235.3V346.4H227.7ZM128.3 346.4H189.5V354.0H128.3ZM212.4 346.4H220.0V354.0H212.4ZM120.7 354.0H143.6V361.6H120.7ZM113.0 361.6H128.3V369.2H113.0ZM105.4 369.2H120.7V376.8H105.4ZM97.7 376.8H113.0V384.3H97.7ZM90.1 384.3H105.4V391.9H90.1ZM82.4 391.9H97.7V399.5H82.4ZM74.8 399.5H90.1V407.1H74.8ZM44.2 407.1H59.5V414.6H44.2Z"/><path fill="#00009F" d="M174.2 -1.0H189.5V6.8H174.2ZM250.6 -1.0H281.2V6.8H250.6ZM288.8 -1.0H311.8V6.8H288.8ZM174.2 6.8H189.5V14.6H174.2ZM258.3 6.8H288.8V14.6H258.3ZM296.5 6.8H319.4V14.6H296.5ZM174.2 14.6H181.8V22.5H174.2ZM265.9 14.6H319.4V22.5H265.9ZM273.5 22.5H327.0V30.3H273.5ZM273.5 30.3H327.0V38.1H273.5ZM304.1 38.1H327.0V45.9H304.1ZM197.1 61.5H204.7V69.3H197.1ZM189.5 69.3H212.4V77.1H189.5ZM258.3 69.3H273.5V77.1H258.3ZM204.7 77.1H212.4V84.9H204.7ZM250.6 77.1H281.2V84.9H250.6ZM220.0 84.9H227.7V92.7H220.0ZM258.3 84.9H273.5V92.7H258.3ZM227.7 92.7H243.0V100.4H227.7ZM243.0 100.4H250.6V108.2H243.0ZM258.3 177.9H265.9V185.6H258.3ZM258.3 185.6H265.9V193.3H258.3ZM258.3 193.3H265.9V201.0H258.3ZM296.5 216.4H311.8V224.1H296.5ZM288.8 224.1H319.4V231.7H288.8ZM296.5 231.7H311.8V239.4H296.5ZM158.9 354.0H181.8V361.6H158.9ZM128.3 361.6H143.6V369.2H128.3ZM158.9 361.6H181.8V369.2H158.9ZM120.7 369.2H135.9V376.8H120.7ZM166.5 369.2H174.2V376.8H166.5Z"/><path fill="#00008F" d="M189.5 -1.0H250.6V6.8H189.5ZM281.2 -1.0H288.8V6.8H281.2ZM311.8 -1.0H350.0V6.8H311.8ZM189.5 6.8H258.3V14.6H189.5ZM288.8 6.8H296.5V14.6H288.8ZM319.4 6.8H350.0V14.6H319.4ZM181.8 14.6H265.9V22.5H181.8ZM319.4 14.6H350.0V22.5H319.4ZM174.2 22.5H273.5V30.3H174.2ZM327.0 22.5H350.0V30.3H327.0ZM174.2 30.3H273.5V38.1H174.2ZM327.0 30.3H350.0V38.1H327.0ZM174.2 38.1H304.1V45.9H174.2ZM327.0 38.1H350.0V45.9H327.0ZM181.8 45.9H350.0V53.7H181.8ZM189.5 53.7H350.0V61.5H189.5ZM189.5 61.5H197.1V69.3H189.5ZM204.7 61.5H350.0V69.3H204.7ZM212.4 69.3H258.3V77.1H212.4ZM273.5 69.3H350.0V77.1H273.5ZM212.4 77.1H250.6V84.9H212.4ZM281.2 77.1H350.0V84.9H281.2ZM212.4 84.9H220.0V92.7H212.4ZM227.7 84.9H258.3V92.7H227.7ZM273.5 84.9H350.0V92.7H273.5ZM243.0 92.7H350.0V100.4H243.0ZM250.6 100.4H350.0V108.2H250.6ZM258.3 108.2H350.0V116.0H258.3ZM258.3 116.0H350.0V123.7H258.3ZM258.3 123.7H350.0V131.5H258.3ZM258.3 131.5H350.0V139.2H258.3ZM265.9 139.2H350.0V146.9H265.9ZM265.9 146.9H350.0V154.7H265.9ZM265.9 154.7H350.0V162.4H265.9ZM265.9 162.4H350.0V170.1H265.9ZM265.9 170.1H350.0V177.9H265.9ZM265.9 177.9H350.0V185.6H265.9ZM265.9 185.6H350.0V193.3H265.9ZM265.9 193.3H350.0V201.0H265.9ZM265.9 201.0H350.0V208.7H265.9ZM265.9 208.7H350.0V216.4H265.9ZM258.3 216.4H296.5V224.1H258.3ZM311.8 216.4H350.0V224.1H311.8ZM258.3 224.1H288.8V231.7H258.3ZM319.4 224.1H350.0V231.7H319.4ZM258.3 231.7H296.5V239.4H258.3ZM311.8 231.7H350.0V239.4H311.8ZM258.3 239.4H350.0V247.1H258.3ZM258.3 247.1H350.0V254.8H258.3ZM258.3 254.8H350.0V262.4H258.3ZM82.4 262.4H90.1V270.1H82.4ZM250.6 262.4H350.0V270.1H250.6ZM67.2 270.1H90.1V277.7H67.2ZM250.6 270.1H350.0V277.7H250.6ZM258.3 277.7H350.0V285.4H258.3ZM258.3 285.4H350.0V293.0H258.3ZM258.3 293.0H350.0V300.7H258.3ZM258.3 300.7H350.0V308.3H258.3ZM258.3 308.3H350.0V315.9H258.3ZM258.3 315.9H350.0V323.5H258.3ZM250.6 323.5H350.0V331.2H250.6ZM243.0 331.2H350.0V338.8H243.0ZM235.3 338.8H350.0V346.4H235.3ZM220.0 346.4H350.0V354.0H220.0ZM143.6 354.0H158.9V361.6H143.6ZM181.8 354.0H350.0V361.6H181.8ZM143.6 361.6H158.9V369.2H143.6ZM181.8 361.6H350.0V369.2H181.8ZM135.9 369.2H166.5V376.8H135.9ZM174.2 369.2H350.0V376.8H174.2ZM113.0 376.8H350.0V384.3H113.0ZM105.4 384.3H350.0V391.9H105.4ZM97.7 391.9H350.0V399.5H97.7ZM90.1 399.5H350.0V407.1H90.1ZM59.5 407.1H350.0V414.6H59.5ZM6.0 414.6H350.0V422.2H6.0ZM6.0 422.2H350.0V429.7H6.0Z"/><path fill="#9FFF60" d="M82.4 6.8H90.1V14.6H82.4ZM105.4 61.5H113.0V69.3H105.4ZM97.7 69.3H105.4V77.1H97.7ZM151.2 239.4H158.9V247.1H151.2ZM120.7 270.1H128.3V277.7H120.7Z"/><path fill="#00FFFF" d="M90.1 6.8H97.7V14.6H90.1ZM74.8 14.6H82.4V22.5H74.8ZM97.7 14.6H105.4V22.5H97.7ZM113.0 22.5H120.7V30.3H113.0ZM120.7 38.1H128.3V45.9H120.7ZM128.3 45.9H135.9V53.7H128.3ZM128.3 53.7H135.9V61.5H128.3ZM120.7 116.0H128.3V123.7H120.7ZM128.3 123.7H135.9V131.5H128.3ZM135.9 131.5H143.6V139.2H135.9ZM143.6 139.2H158.9V146.9H143.6ZM151.2 146.9H158.9V154.7H151.2ZM135.9 170.1H143.6V177.9H135.9ZM158.9 193.3H166.5V201.0H158.9ZM174.2 201.0H181.8V208.7H174.2ZM174.2 208.7H189.5V216.4H174.2ZM143.6 216.4H151.2V224.1H143.6ZM181.8 216.4H189.5V224.1H181.8ZM135.9 224.1H151.2V231.7H135.9ZM189.5 224.1H197.1V231.7H189.5ZM166.5 231.7H174.2V239.4H166.5ZM166.5 239.4H181.8V247.1H166.5ZM166.5 247.1H174.2V254.8H166.5ZM158.9 262.4H166.5V270.1H158.9ZM143.6 270.1H158.9V277.7H143.6ZM135.9 277.7H143.6V285.4H135.9ZM44.2 300.7H51.9V308.3H44.2ZM44.2 308.3H51.9V315.9H44.2ZM36.6 346.4H44.2V354.0H36.6Z"/><path fill="#10FFEF" d="M97.7 6.8H105.4V14.6H97.7ZM105.4 14.6H113.0V22.5H105.4ZM105.4 22.5H113.0V30.3H105.4ZM113.0 30.3H120.7V38.1H113.0ZM113.0 38.1H120.7V45.9H113.0ZM120.7 45.9H128.3V53.7H120.7ZM120.7 61.5H135.9V69.3H120.7ZM128.3 69.3H135.9V77.1H128.3ZM90.1 77.1H97.7V84.9H90.1ZM120.7 84.9H128.3V92.7H120.7ZM97.7 92.7H128.3V100.4H97.7ZM128.3 116.0H135.9V123.7H128.3ZM97.7 123.7H105.4V131.5H97.7ZM135.9 123.7H143.6V131.5H135.9ZM143.6 146.9H151.2V154.7H143.6ZM143.6 154.7H158.9V162.4H143.6ZM143.6 162.4H151.2V170.1H143.6ZM120.7 170.1H135.9V177.9H120.7ZM151.2 193.3H158.9V201.0H151.2ZM143.6 201.0H151.2V208.7H143.6ZM166.5 201.0H174.2V208.7H166.5ZM143.6 208.7H151.2V216.4H143.6ZM174.2 216.4H181.8V224.1H174.2ZM174.2 224.1H189.5V231.7H174.2ZM120.7 231.7H128.3V239.4H120.7ZM174.2 231.7H189.5V239.4H174.2ZM166.5 254.8H174.2V262.4H166.5ZM151.2 262.4H158.9V270.1H151.2ZM128.3 277.7H135.9V285.4H128.3ZM135.9 285.4H143.6V293.0H135.9ZM51.9 300.7H59.5V308.3H51.9ZM51.9 308.3H59.5V315.9H51.9ZM36.6 331.2H44.2V338.8H36.6ZM36.6 338.8H44.2V346.4H36.6ZM21.3 346.4H36.6V354.0H21.3ZM44.2 346.4H51.9V354.0H44.2ZM36.6 354.0H44.2V361.6H36.6Z"/><path fill="#8FFF70" d="M82.4 14.6H90.1V22.5H82.4ZM82.4 22.5H97.7V30.3H82.4ZM74.8 30.3H82.4V38.1H74.8ZM97.7 30.3H105.4V38.1H97.7ZM74.8 38.1H82.4V45.9H74.8ZM74.8 45.9H82.4V53.7H74.8ZM90.1 69.3H97.7V77.1H90.1ZM105.4 77.1H113.0V84.9H105.4ZM113.0 123.7H128.3V131.5H113.0ZM128.3 131.5H135.9V139.2H128.3ZM135.9 146.9H143.6V154.7H135.9ZM135.9 154.7H143.6V162.4H135.9ZM151.2 208.7H166.5V216.4H151.2ZM151.2 224.1H158.9V231.7H151.2ZM151.2 231.7H158.9V239.4H151.2ZM151.2 247.1H158.9V254.8H151.2ZM113.0 262.4H120.7V270.1H113.0ZM128.3 270.1H135.9V277.7H128.3ZM28.9 308.3H36.6V315.9H28.9ZM13.6 323.5H21.3V331.2H13.6ZM21.3 338.8H28.9V346.4H21.3Z"/><path fill="#50FFAF" d="M90.1 14.6H97.7V22.5H90.1ZM105.4 38.1H113.0V45.9H105.4ZM113.0 45.9H120.7V53.7H113.0ZM113.0 53.7H120.7V61.5H113.0ZM82.4 61.5H90.1V69.3H82.4ZM105.4 69.3H128.3V77.1H105.4ZM113.0 77.1H120.7V84.9H113.0ZM97.7 84.9H120.7V92.7H97.7ZM113.0 116.0H120.7V123.7H113.0ZM135.9 162.4H143.6V170.1H135.9ZM151.2 201.0H166.5V208.7H151.2ZM158.9 216.4H174.2V224.1H158.9ZM158.9 224.1H174.2V231.7H158.9ZM158.9 231.7H166.5V239.4H158.9ZM151.2 254.8H166.5V262.4H151.2ZM143.6 262.4H151.2V270.1H143.6ZM135.9 270.1H143.6V277.7H135.9ZM36.6 308.3H44.2V315.9H36.6ZM13.6 338.8H21.3V346.4H13.6ZM28.9 338.8H36.6V346.4H28.9Z"/><path fill="#00CFFF" d="M113.0 14.6H120.7V22.5H113.0ZM120.7 30.3H128.3V38.1H120.7ZM128.3 38.1H135.9V45.9H128.3ZM135.9 45.9H143.6V53.7H135.9ZM135.9 53.7H143.6V61.5H135.9ZM128.3 77.1H135.9V84.9H128.3ZM128.3 84.9H135.9V92.7H128.3ZM105.4 100.4H120.7V108.2H105.4ZM158.9 146.9H166.5V154.7H158.9ZM151.2 162.4H158.9V170.1H151.2ZM143.6 170.1H158.9V177.9H143.6ZM158.9 177.9H174.2V185.6H158.9ZM151.2 185.6H166.5V193.3H151.2ZM143.6 193.3H151.2V201.0H143.6ZM166.5 193.3H174.2V201.0H166.5ZM181.8 193.3H189.5V201.0H181.8ZM181.8 201.0H189.5V208.7H181.8ZM197.1 216.4H204.7V224.1H197.1ZM197.1 224.1H204.7V231.7H197.1ZM197.1 231.7H204.7V239.4H197.1ZM166.5 262.4H181.8V270.1H166.5ZM166.5 270.1H174.2V277.7H166.5ZM120.7 277.7H128.3V285.4H120.7ZM143.6 277.7H158.9V285.4H143.6ZM36.6 300.7H44.2V308.3H36.6ZM67.2 300.7H74.8V308.3H67.2ZM51.9 315.9H59.5V323.5H51.9ZM51.9 323.5H59.5V331.2H51.9ZM44.2 331.2H51.9V338.8H44.2ZM44.2 338.8H51.9V346.4H44.2ZM21.3 354.0H28.9V361.6H21.3ZM44.2 354.0H51.9V361.6H44.2ZM36.6 361.6H44.2V369.2H36.6Z"/><path fill="#60FF9F" d="M74.8 22.5H82.4V30.3H74.8ZM97.7 22.5H105.4V30.3H97.7ZM105.4 30.3H113.0V38.1H105.4ZM120.7 53.7H128.3V61.5H120.7ZM113.0 61.5H120.7V69.3H113.0ZM97.7 77.1H105.4V84.9H97.7ZM120.7 77.1H128.3V84.9H120.7ZM105.4 116.0H113.0V123.7H105.4ZM166.5 208.7H174.2V216.4H166.5ZM151.2 216.4H158.9V224.1H151.2ZM158.9 239.4H166.5V247.1H158.9ZM158.9 247.1H166.5V254.8H158.9ZM36.6 315.9H44.2V323.5H36.6ZM36.6 323.5H44.2V331.2H36.6ZM13.6 331.2H21.3V338.8H13.6Z"/><path fill="#CFFF30" d="M82.4 30.3H97.7V38.1H82.4ZM97.7 38.1H105.4V45.9H97.7ZM97.7 53.7H113.0V61.5H97.7ZM120.7 131.5H128.3V139.2H120.7ZM135.9 139.2H143.6V146.9H135.9ZM113.0 162.4H120.7V170.1H113.0ZM128.3 162.4H135.9V170.1H128.3ZM128.3 231.7H135.9V239.4H128.3ZM143.6 231.7H151.2V239.4H143.6ZM143.6 254.8H151.2V262.4H143.6ZM135.9 262.4H143.6V270.1H135.9ZM21.3 315.9H36.6V323.5H21.3Z"/><path fill="#FFEF00" d="M82.4 38.1H90.1V45.9H82.4ZM82.4 53.7H90.1V61.5H82.4ZM105.4 131.5H113.0V139.2H105.4ZM128.3 139.2H135.9V146.9H128.3ZM128.3 146.9H135.9V154.7H128.3ZM128.3 154.7H135.9V162.4H128.3ZM120.7 162.4H128.3V170.1H120.7ZM135.9 231.7H143.6V239.4H135.9ZM135.9 254.8H143.6V262.4H135.9ZM28.9 323.5H36.6V331.2H28.9Z"/><path fill="#FFDF00" d="M90.1 38.1H97.7V45.9H90.1ZM97.7 45.9H105.4V53.7H97.7ZM90.1 61.5H97.7V69.3H90.1ZM120.7 262.4H128.3V270.1H120.7ZM21.3 323.5H28.9V331.2H21.3Z"/><path fill="#FF6000" d="M82.4 45.9H90.1V53.7H82.4ZM113.0 131.5H120.7V139.2H113.0ZM120.7 239.4H128.3V247.1H120.7Z"/><path fill="#FF2000" d="M90.1 45.9H97.7V53.7H90.1ZM128.3 239.4H135.9V247.1H128.3Z"/><path fill="#DFFF20" d="M105.4 45.9H113.0V53.7H105.4ZM97.7 61.5H105.4V69.3H97.7ZM105.4 123.7H113.0V131.5H105.4ZM143.6 239.4H151.2V247.1H143.6ZM143.6 247.1H151.2V254.8H143.6ZM28.9 331.2H36.6V338.8H28.9Z"/><path fill="#FFAF00" d="M90.1 53.7H97.7V61.5H90.1ZM105.4 139.2H113.0V146.9H105.4ZM105.4 146.9H113.0V154.7H105.4ZM113.0 254.8H120.7V262.4H113.0ZM128.3 262.4H135.9V270.1H128.3Z"/><path fill="#0000CF" d="M158.9 77.1H181.8V84.9H158.9ZM151.2 84.9H174.2V92.7H151.2ZM151.2 92.7H158.9V100.4H151.2ZM166.5 92.7H174.2V100.4H166.5ZM120.7 185.6H128.3V193.3H120.7ZM120.7 201.0H135.9V208.7H120.7ZM243.0 201.0H258.3V208.7H243.0ZM243.0 208.7H250.6V216.4H243.0ZM120.7 216.4H128.3V224.1H120.7ZM235.3 216.4H243.0V224.1H235.3ZM235.3 224.1H243.0V231.7H235.3ZM250.6 239.4H258.3V247.1H250.6ZM235.3 247.1H250.6V254.8H235.3ZM235.3 254.8H250.6V262.4H235.3ZM97.7 262.4H105.4V270.1H97.7ZM235.3 262.4H243.0V270.1H235.3ZM90.1 270.1H105.4V277.7H90.1ZM67.2 277.7H74.8V285.4H67.2ZM90.1 277.7H97.7V285.4H90.1ZM51.9 285.4H74.8V293.0H51.9ZM82.4 285.4H90.1V293.0H82.4ZM243.0 308.3H250.6V315.9H243.0ZM105.4 315.9H113.0V323.5H105.4ZM120.7 315.9H128.3V323.5H120.7ZM243.0 315.9H250.6V323.5H243.0ZM113.0 323.5H120.7V331.2H113.0ZM174.2 323.5H181.8V331.2H174.2ZM113.0 331.2H120.7V338.8H113.0ZM181.8 338.8H189.5V346.4H181.8ZM197.1 346.4H212.4V354.0H197.1ZM113.0 354.0H120.7V361.6H113.0ZM105.4 361.6H113.0V369.2H105.4ZM90.1 376.8H97.7V384.3H90.1ZM74.8 384.3H82.4V391.9H74.8ZM6.0 391.9H13.6V399.5H6.0ZM67.2 391.9H82.4V399.5H67.2ZM13.6 399.5H21.3V407.1H13.6ZM59.5 399.5H74.8V407.1H59.5ZM6.0 407.1H13.6V414.6H6.0ZM21.3 407.1H28.9V414.6H21.3Z"/><path fill="#8F0000" d="M113.0 139.2H120.7V146.9H113.0ZM120.7 146.9H128.3V154.7H120.7Z"/><path fill="#FF3000" d="M120.7 139.2H128.3V146.9H120.7ZM128.3 254.8H135.9V262.4H128.3Z"/><path fill="#DF0000" d="M113.0 146.9H120.7V154.7H113.0Z"/><path fill="#EF0000" d="M113.0 154.7H128.3V162.4H113.0ZM120.7 247.1H128.3V254.8H120.7Z"/><path fill="#FF9F00" d="M135.9 239.4H143.6V247.1H135.9ZM135.9 247.1H143.6V254.8H135.9ZM21.3 331.2H28.9V338.8H21.3Z"/><path fill="#800000" d="M128.3 247.1H135.9V254.8H128.3ZM120.7 254.8H128.3V262.4H120.7Z"/></g>
<use href="#landfill" fill="#80E680" stroke="#000" stroke-width="0.9" stroke-linejoin="round"/><g clip-path="url(#landclip)"><g stroke="#000" stroke-opacity="0.36" stroke-width="0.75" stroke-dasharray="2.3 5.95" fill="none"><path d="M58.0 0V427.6"/><path d="M116.0 0V427.6"/><path d="M174.0 0V427.6"/><path d="M232.0 0V427.6"/><path d="M290.0 0V427.6"/><path d="M0 72.4H348.0"/><path d="M0 144.3H348.0"/><path d="M0 215.8H348.0"/><path d="M0 286.8H348.0"/><path d="M0 357.4H348.0"/></g><g stroke="#222" stroke-width="0.85" fill="none"><path d="M58.0 0v4.4M58.0 427.6v-4.4"/><path d="M116.0 0v4.4M116.0 427.6v-4.4"/><path d="M174.0 0v4.4M174.0 427.6v-4.4"/><path d="M232.0 0v4.4M232.0 427.6v-4.4"/><path d="M290.0 0v4.4M290.0 427.6v-4.4"/><path d="M0 72.4h4.4M348.0 72.4h-4.4"/><path d="M0 144.3h4.4M348.0 144.3h-4.4"/><path d="M0 215.8h4.4M348.0 215.8h-4.4"/><path d="M0 286.8h4.4M348.0 286.8h-4.4"/><path d="M0 357.4h4.4M348.0 357.4h-4.4"/></g></g><path d="M60.4 20.3 62.0 27.9 64.5 36.5 66.7 45.1 70.6 52.9 72.3 59.8 74.0 66.7 75.8 73.6 77.5 80.5 79.2 87.4 81.4 96.9 84.4 106.3 87.0 115.0 89.6 123.6 93.0 132.2 96.5 139.1 99.9 146.0 103.4 152.9 106.0 159.8 108.5 165.8 111.1 172.8 113.7 179.7 116.3 186.6 118.5 193.4 120.2 201.2 118.9 197.7 120.2 202.9 119.8 208.9 118.5 214.9 117.2 223.6 115.9 232.2 114.1 238.2 112.8 244.3 112.7 244.4 113.0 250.2" fill="none" stroke="#000" stroke-width="1.25" stroke-linejoin="round"/><path d="M113.0 250.2 108.4 251.8 103.5 253.0 95.2 256.8 85.3 261.0 75.5 266.0 67.2 270.3 59.0 275.9 52.4 281.0 45.8 286.7 37.6 294.1 29.3 302.2 21.1 310.4 12.9 319.4 6.3 326.3 0.5 333.5" fill="none" stroke="#000" stroke-width="2.0" stroke-linejoin="round"/><path d="M5.9 117.5 11.9 122.7 18.0 127.0 21.4 130.1" fill="none" stroke="#000" stroke-width="2.6"/><path d="M5.9 117.5 11.9 122.7 18.0 127.0 21.4 130.1" fill="none" stroke="#fff" stroke-width="1.1"/><path d="M25.7 116.7 30.0 121.8 34.4 127.0" fill="none" stroke="#000" stroke-width="2.6"/><path d="M25.7 116.7 30.0 121.8 34.4 127.0" fill="none" stroke="#fff" stroke-width="1.1"/><use href="#dots"/>
<g fill="none" stroke="#000" stroke-width="1.00" stroke-linejoin="round"><path d="M152.2 7.8 152.5 19.9 156.2 32.8 160.2 44.1 165.1 52.1 168.3 60.2 173.1 66.6 179.6 73.1 186.0 77.1 195.7 79.5 200.5 83.6 203.8 90.8 211.8 98.9 223.1 105.3 231.2 111.8 236.0 115.8 233.6 123.1 232.0 129.5 237.6 137.6 242.4 144.0 244.1 148.9 242.4 155.3 237.6 161.7 235.2 166.6 238.4 170.6 234.4 176.3 232.0 181.1 233.6 189.2"/><path d="M234.4 202.3 236.0 211.9 232.8 218.4 221.5 224.8 222.3 234.5 229.5 239.3 236.0 236.1 244.1 240.2 244.1 261.9 237.6 265.1 232.8 260.3 235.2 253.9 227.9 247.4 218.3 257.1 217.5 270.0 223.1 276.4 234.4 278.0 240.8 289.3 239.2 305.4 229.5 324.8 220.7 335.3"/><path d="M209.4 340.9 198.9 345.7 190.9 344.1 174.7 349.0 166.7 342.5 170.7 329.6 166.7 322.4 152.2 326.4 142.5 323.2 126.4 321.6 113.5 316.7 104.6 320.0 108.6 328.0 110.2 340.9 108.6 350.6 102.2 360.3 84.5 369.9 82.0 379.6 82.8 370.5 81.2 378.6 74.8 388.3 68.3 396.3 58.7 401.2 53.8 404.7"/><path d="M44.2 410.9 37.7 413.3 21.6 410.9 6.3 407.6"/><path d="M143.3 90.8 151.4 88.7"/><path d="M162.6 89.2 165.1 90.8 174.7 100.5 168.3 108.5 159.4 111.0 148.9 102.1 143.3 94.0 143.3 90.8"/><path d="M121.5 189.4 122.3 203.9"/><path d="M124.0 218.4 124.0 225.6"/><path d="M99.0 262.7 98.2 268.4 90.9 271.6 89.3 279.7 85.7 282.9"/><path d="M77.2 287.7 61.9 290.9 56.2 290.1"/><path d="M81.2 317.5 87.7 315.9 90.1 317.1 85.3 313.8"/><path d="M6.3 380.2 13.5 385.1"/><path d="M9.0 396.7 6.3 400.9"/><path d="M165.9 6.2 179.6 0.5"/></g><text x="156.2" y="4.9" font-size="12.5" text-anchor="middle" fill="#000" transform="rotate(0 156.2 4.9) translate(0 4.5)">3</text><text x="157.0" y="87.6" font-size="12.5" text-anchor="middle" fill="#000" transform="rotate(0 157.0 87.6) translate(0 4.5)">3</text><text x="233.6" y="195.6" font-size="12.5" text-anchor="middle" fill="#000" transform="rotate(90 233.6 195.6) translate(0 4.5)">3</text><text x="124.8" y="211.1" font-size="12.5" text-anchor="middle" fill="#000" transform="rotate(90 124.8 211.1) translate(0 4.5)">3</text><text x="82.0" y="285.8" font-size="12.5" text-anchor="middle" fill="#000" transform="rotate(-35 82.0 285.8) translate(0 4.5)">3</text><text x="80.9" y="313.2" font-size="12.5" text-anchor="middle" fill="#000" transform="rotate(30 80.9 313.2) translate(0 4.5)">3</text><text x="215.0" y="338.5" font-size="12.5" text-anchor="middle" fill="#000" transform="rotate(-25 215.0 338.5) translate(0 4.5)">3</text><text x="49.0" y="408.4" font-size="12.5" text-anchor="middle" fill="#000" transform="rotate(-25 49.0 408.4) translate(0 4.5)">3</text><text x="11.6" y="391.2" font-size="12.5" text-anchor="middle" fill="#000" transform="rotate(-70 11.6 391.2) translate(0 4.5)">3</text>
<g stroke="#FF0000" stroke-width="1.2" fill="none" stroke-linecap="butt"><path d="M58.2 45.2h16.6M66.5 36.9v16.6M60.6 39.3l11.7 11.7M60.6 51.1l11.7 -11.7"/></g>
<g stroke="#FF0000" stroke-width="1.2" fill="none" stroke-linecap="butt"><path d="M95.9 157.0h16.6M104.2 148.7v16.6M98.3 151.1l11.7 11.7M98.3 162.9l11.7 -11.7"/></g>
<g stroke="#FF0000" stroke-width="1.2" fill="none" stroke-linecap="butt"><path d="M105.5 250.0h16.6M113.8 241.7v16.6M107.9 244.1l11.7 11.7M107.9 255.9l11.7 -11.7"/></g>
<g stroke="#FF0000" stroke-width="1.2" fill="none" stroke-linecap="butt"><path d="M1.8 320.9h16.6M10.1 312.6v16.6M4.2 315.0l11.7 11.7M4.2 326.8l11.7 -11.7"/></g>
</g>
<path d="M0 0V427.6" stroke="#111" stroke-width="1.05"/>
<rect x="3.7" y="19.7" width="111.1" height="25.2" fill="url(#jet)" stroke="#2a2a2a" stroke-width="1.1"/><text x="4.1" y="6.9" font-size="16.70" text-anchor="middle" fill="#262626">0</text><text x="107.9" y="6.9" font-size="16.70" text-anchor="middle" fill="#262626">50</text>
<text x="341" y="36.9" font-size="20.8" text-anchor="end" fill="#000">10 km</text><path d="M306.5 43.2h14.3" stroke="#000" stroke-width="3.2" stroke-linecap="round"/>
<text x="-6.4" y="7.2" font-size="21.2" text-anchor="end" fill="#000">37°N</text><text x="-6.4" y="151.5" font-size="21.2" text-anchor="end" fill="#000">36°N</text><text x="-6.4" y="294.0" font-size="21.2" text-anchor="end" fill="#000">35°N</text><text x="-6.4" y="434.8" font-size="21.2" text-anchor="end" fill="#000">34°N</text><text x="-5.6" y="78.7" font-size="16.5" text-anchor="end" fill="#000">30'</text><text x="-5.6" y="222.1" font-size="16.5" text-anchor="end" fill="#000">30'</text><text x="-5.6" y="363.7" font-size="16.5" text-anchor="end" fill="#000">30'</text><text x="58.0" y="448.6" font-size="21.2" text-anchor="middle" fill="#000">76°W</text><text x="174.0" y="448.6" font-size="21.2" text-anchor="middle" fill="#000">75°W</text><text x="290.0" y="448.6" font-size="21.2" text-anchor="middle" fill="#000">74°W</text><text x="-0.6" y="444.8" font-size="16.5" text-anchor="middle" fill="#000">30'</text><text x="115.4" y="444.8" font-size="16.5" text-anchor="middle" fill="#000">30'</text><text x="231.4" y="444.8" font-size="16.5" text-anchor="middle" fill="#000">30'</text><text x="347.4" y="444.8" font-size="16.5" text-anchor="middle" fill="#000">30'</text>
<text x="174.3" y="-12.8" font-size="20.80" font-weight="bold" text-anchor="middle" fill="#000">Number of Rads (3)</text>

</g>
<g transform="translate(1227.2,142.6)">
<rect x="0" y="0" width="348.0" height="427.6" fill="none" stroke="#303030" stroke-width="0.95"/>
<g stroke="#222" stroke-width="0.85" fill="none"><path d="M58.0 0v4.4M58.0 427.6v-4.4"/><path d="M116.0 0v4.4M116.0 427.6v-4.4"/><path d="M174.0 0v4.4M174.0 427.6v-4.4"/><path d="M232.0 0v4.4M232.0 427.6v-4.4"/><path d="M290.0 0v4.4M290.0 427.6v-4.4"/><path d="M0 72.4h4.4M348.0 72.4h-4.4"/><path d="M0 144.3h4.4M348.0 144.3h-4.4"/><path d="M0 215.8h4.4M348.0 215.8h-4.4"/><path d="M0 286.8h4.4M348.0 286.8h-4.4"/><path d="M0 357.4h4.4M348.0 357.4h-4.4"/></g>
<g clip-path="url(#axclip)">
<g stroke="#000" stroke-opacity="0.36" stroke-width="0.75" stroke-dasharray="2.3 5.95" fill="none"><path d="M58.0 0V427.6"/><path d="M116.0 0V427.6"/><path d="M174.0 0V427.6"/><path d="M232.0 0V427.6"/><path d="M290.0 0V427.6"/><path d="M0 72.4H348.0"/><path d="M0 144.3H348.0"/><path d="M0 215.8H348.0"/><path d="M0 286.8H348.0"/><path d="M0 357.4H348.0"/></g>
<g shape-rendering="crispEdges"><path fill="#8FFF70" d="M67.2 -1.0H82.4V6.8H67.2ZM105.4 -1.0H189.5V6.8H105.4ZM250.6 -1.0H281.2V6.8H250.6ZM288.8 -1.0H311.8V6.8H288.8ZM67.2 6.8H158.9V14.6H67.2ZM166.5 6.8H189.5V14.6H166.5ZM258.3 6.8H288.8V14.6H258.3ZM296.5 6.8H319.4V14.6H296.5ZM74.8 14.6H105.4V22.5H74.8ZM128.3 14.6H166.5V22.5H128.3ZM265.9 14.6H319.4V22.5H265.9ZM74.8 22.5H90.1V30.3H74.8ZM135.9 22.5H166.5V30.3H135.9ZM273.5 22.5H327.0V30.3H273.5ZM158.9 30.3H174.2V38.1H158.9ZM273.5 30.3H327.0V38.1H273.5ZM158.9 38.1H174.2V45.9H158.9ZM304.1 38.1H327.0V45.9H304.1ZM158.9 45.9H174.2V53.7H158.9ZM158.9 53.7H174.2V61.5H158.9ZM158.9 61.5H189.5V69.3H158.9ZM197.1 61.5H204.7V69.3H197.1ZM158.9 69.3H212.4V77.1H158.9ZM258.3 69.3H273.5V77.1H258.3ZM174.2 77.1H212.4V84.9H174.2ZM250.6 77.1H281.2V84.9H250.6ZM158.9 84.9H166.5V92.7H158.9ZM181.8 84.9H212.4V92.7H181.8ZM220.0 84.9H227.7V92.7H220.0ZM258.3 84.9H273.5V92.7H258.3ZM135.9 92.7H243.0V100.4H135.9ZM90.1 100.4H97.7V108.2H90.1ZM128.3 100.4H250.6V108.2H128.3ZM97.7 108.2H250.6V116.0H97.7ZM97.7 116.0H243.0V123.7H97.7ZM97.7 123.7H243.0V131.5H97.7ZM105.4 131.5H258.3V139.2H105.4ZM105.4 139.2H265.9V146.9H105.4ZM105.4 146.9H258.3V154.7H105.4ZM113.0 154.7H250.6V162.4H113.0ZM113.0 162.4H250.6V170.1H113.0ZM120.7 170.1H151.2V177.9H120.7ZM166.5 170.1H243.0V177.9H166.5ZM120.7 177.9H143.6V185.6H120.7ZM174.2 177.9H243.0V185.6H174.2ZM120.7 185.6H143.6V193.3H120.7ZM189.5 185.6H243.0V193.3H189.5ZM120.7 193.3H135.9V201.0H120.7ZM204.7 193.3H220.0V201.0H204.7ZM235.3 193.3H243.0V201.0H235.3ZM120.7 201.0H128.3V208.7H120.7ZM212.4 201.0H220.0V208.7H212.4ZM120.7 208.7H128.3V216.4H120.7ZM212.4 208.7H220.0V216.4H212.4ZM120.7 216.4H128.3V224.1H120.7ZM235.3 216.4H250.6V224.1H235.3ZM296.5 216.4H311.8V224.1H296.5ZM120.7 224.1H135.9V231.7H120.7ZM220.0 224.1H258.3V231.7H220.0ZM288.8 224.1H319.4V231.7H288.8ZM120.7 231.7H135.9V239.4H120.7ZM212.4 231.7H258.3V239.4H212.4ZM296.5 231.7H311.8V239.4H296.5ZM120.7 239.4H135.9V247.1H120.7ZM204.7 239.4H258.3V247.1H204.7ZM120.7 247.1H143.6V254.8H120.7ZM197.1 247.1H258.3V254.8H197.1ZM90.1 254.8H151.2V262.4H90.1ZM189.5 254.8H258.3V262.4H189.5ZM82.4 262.4H105.4V270.1H82.4ZM113.0 262.4H158.9V270.1H113.0ZM174.2 262.4H250.6V270.1H174.2ZM82.4 270.1H105.4V277.7H82.4ZM113.0 270.1H220.0V277.7H113.0ZM243.0 270.1H250.6V277.7H243.0ZM59.5 277.7H105.4V285.4H59.5ZM113.0 277.7H189.5V285.4H113.0ZM243.0 277.7H250.6V285.4H243.0ZM51.9 285.4H105.4V293.0H51.9ZM113.0 285.4H181.8V293.0H113.0ZM243.0 285.4H250.6V293.0H243.0ZM44.2 293.0H105.4V300.7H44.2ZM113.0 293.0H174.2V300.7H113.0ZM235.3 293.0H250.6V300.7H235.3ZM36.6 300.7H97.7V308.3H36.6ZM113.0 300.7H181.8V308.3H113.0ZM197.1 300.7H250.6V308.3H197.1ZM28.9 308.3H97.7V315.9H28.9ZM113.0 308.3H181.8V315.9H113.0ZM197.1 308.3H243.0V315.9H197.1ZM21.3 315.9H113.0V323.5H21.3ZM128.3 315.9H174.2V323.5H128.3ZM197.1 315.9H243.0V323.5H197.1ZM13.6 323.5H120.7V331.2H13.6ZM151.2 323.5H174.2V331.2H151.2ZM189.5 323.5H235.3V331.2H189.5ZM13.6 331.2H120.7V338.8H13.6ZM158.9 331.2H181.8V338.8H158.9ZM189.5 331.2H227.7V338.8H189.5ZM6.0 338.8H120.7V346.4H6.0ZM158.9 338.8H227.7V346.4H158.9ZM6.0 346.4H113.0V354.0H6.0ZM158.9 346.4H197.1V354.0H158.9ZM6.0 354.0H135.9V361.6H6.0ZM158.9 354.0H181.8V361.6H158.9ZM6.0 361.6H143.6V369.2H6.0ZM158.9 361.6H181.8V369.2H158.9ZM6.0 369.2H90.1V376.8H6.0ZM120.7 369.2H135.9V376.8H120.7ZM166.5 369.2H174.2V376.8H166.5ZM6.0 376.8H90.1V384.3H6.0ZM6.0 384.3H82.4V391.9H6.0ZM6.0 391.9H74.8V399.5H6.0ZM6.0 399.5H67.2V407.1H6.0ZM21.3 407.1H51.9V414.6H21.3Z"/><path fill="#800000" d="M82.4 -1.0H105.4V6.8H82.4ZM105.4 14.6H128.3V22.5H105.4ZM90.1 22.5H135.9V30.3H90.1ZM74.8 30.3H158.9V38.1H74.8ZM74.8 38.1H158.9V45.9H74.8ZM74.8 45.9H158.9V53.7H74.8ZM82.4 53.7H158.9V61.5H82.4ZM82.4 61.5H158.9V69.3H82.4ZM82.4 69.3H158.9V77.1H82.4ZM82.4 77.1H174.2V84.9H82.4ZM82.4 84.9H158.9V92.7H82.4ZM166.5 84.9H181.8V92.7H166.5ZM90.1 92.7H135.9V100.4H90.1ZM97.7 100.4H128.3V108.2H97.7ZM151.2 170.1H166.5V177.9H151.2ZM143.6 177.9H174.2V185.6H143.6ZM143.6 185.6H189.5V193.3H143.6ZM135.9 193.3H204.7V201.0H135.9ZM220.0 193.3H235.3V201.0H220.0ZM128.3 201.0H212.4V208.7H128.3ZM220.0 201.0H243.0V208.7H220.0ZM128.3 208.7H212.4V216.4H128.3ZM220.0 208.7H243.0V216.4H220.0ZM128.3 216.4H235.3V224.1H128.3ZM135.9 224.1H220.0V231.7H135.9ZM135.9 231.7H212.4V239.4H135.9ZM135.9 239.4H204.7V247.1H135.9ZM143.6 247.1H197.1V254.8H143.6ZM151.2 254.8H189.5V262.4H151.2ZM105.4 262.4H113.0V270.1H105.4ZM158.9 262.4H174.2V270.1H158.9ZM105.4 270.1H113.0V277.7H105.4ZM220.0 270.1H243.0V277.7H220.0ZM105.4 277.7H113.0V285.4H105.4ZM189.5 277.7H243.0V285.4H189.5ZM105.4 285.4H113.0V293.0H105.4ZM181.8 285.4H243.0V293.0H181.8ZM105.4 293.0H113.0V300.7H105.4ZM174.2 293.0H235.3V300.7H174.2ZM97.7 300.7H113.0V308.3H97.7ZM181.8 300.7H197.1V308.3H181.8ZM97.7 308.3H113.0V315.9H97.7ZM181.8 308.3H197.1V315.9H181.8ZM174.2 315.9H197.1V323.5H174.2ZM174.2 323.5H189.5V331.2H174.2ZM181.8 331.2H189.5V338.8H181.8Z"/><path fill="#00008F" d="M189.5 -1.0H250.6V6.8H189.5ZM281.2 -1.0H288.8V6.8H281.2ZM311.8 -1.0H350.0V6.8H311.8ZM158.9 6.8H166.5V14.6H158.9ZM189.5 6.8H258.3V14.6H189.5ZM288.8 6.8H296.5V14.6H288.8ZM319.4 6.8H350.0V14.6H319.4ZM166.5 14.6H265.9V22.5H166.5ZM319.4 14.6H350.0V22.5H319.4ZM166.5 22.5H273.5V30.3H166.5ZM327.0 22.5H350.0V30.3H327.0ZM174.2 30.3H273.5V38.1H174.2ZM327.0 30.3H350.0V38.1H327.0ZM174.2 38.1H304.1V45.9H174.2ZM327.0 38.1H350.0V45.9H327.0ZM174.2 45.9H350.0V53.7H174.2ZM174.2 53.7H350.0V61.5H174.2ZM189.5 61.5H197.1V69.3H189.5ZM204.7 61.5H350.0V69.3H204.7ZM212.4 69.3H258.3V77.1H212.4ZM273.5 69.3H350.0V77.1H273.5ZM212.4 77.1H250.6V84.9H212.4ZM281.2 77.1H350.0V84.9H281.2ZM212.4 84.9H220.0V92.7H212.4ZM227.7 84.9H258.3V92.7H227.7ZM273.5 84.9H350.0V92.7H273.5ZM243.0 92.7H350.0V100.4H243.0ZM250.6 100.4H350.0V108.2H250.6ZM250.6 108.2H350.0V116.0H250.6ZM243.0 116.0H350.0V123.7H243.0ZM243.0 123.7H350.0V131.5H243.0ZM258.3 131.5H350.0V139.2H258.3ZM265.9 139.2H350.0V146.9H265.9ZM258.3 146.9H350.0V154.7H258.3ZM250.6 154.7H350.0V162.4H250.6ZM250.6 162.4H350.0V170.1H250.6ZM243.0 170.1H350.0V177.9H243.0ZM243.0 177.9H350.0V185.6H243.0ZM243.0 185.6H350.0V193.3H243.0ZM243.0 193.3H350.0V201.0H243.0ZM243.0 201.0H350.0V208.7H243.0ZM243.0 208.7H350.0V216.4H243.0ZM250.6 216.4H296.5V224.1H250.6ZM311.8 216.4H350.0V224.1H311.8ZM258.3 224.1H288.8V231.7H258.3ZM319.4 224.1H350.0V231.7H319.4ZM258.3 231.7H296.5V239.4H258.3ZM311.8 231.7H350.0V239.4H311.8ZM258.3 239.4H350.0V247.1H258.3ZM258.3 247.1H350.0V254.8H258.3ZM258.3 254.8H350.0V262.4H258.3ZM250.6 262.4H350.0V270.1H250.6ZM67.2 270.1H82.4V277.7H67.2ZM250.6 270.1H350.0V277.7H250.6ZM250.6 277.7H350.0V285.4H250.6ZM250.6 285.4H350.0V293.0H250.6ZM250.6 293.0H350.0V300.7H250.6ZM250.6 300.7H350.0V308.3H250.6ZM243.0 308.3H350.0V315.9H243.0ZM113.0 315.9H128.3V323.5H113.0ZM243.0 315.9H350.0V323.5H243.0ZM120.7 323.5H151.2V331.2H120.7ZM235.3 323.5H350.0V331.2H235.3ZM120.7 331.2H158.9V338.8H120.7ZM227.7 331.2H350.0V338.8H227.7ZM120.7 338.8H158.9V346.4H120.7ZM227.7 338.8H350.0V346.4H227.7ZM113.0 346.4H158.9V354.0H113.0ZM197.1 346.4H350.0V354.0H197.1ZM135.9 354.0H158.9V361.6H135.9ZM181.8 354.0H350.0V361.6H181.8ZM143.6 361.6H158.9V369.2H143.6ZM181.8 361.6H350.0V369.2H181.8ZM90.1 369.2H120.7V376.8H90.1ZM135.9 369.2H166.5V376.8H135.9ZM174.2 369.2H350.0V376.8H174.2ZM90.1 376.8H350.0V384.3H90.1ZM82.4 384.3H350.0V391.9H82.4ZM74.8 391.9H350.0V399.5H74.8ZM67.2 399.5H350.0V407.1H67.2ZM6.0 407.1H21.3V414.6H6.0ZM51.9 407.1H350.0V414.6H51.9ZM6.0 414.6H350.0V422.2H6.0ZM6.0 422.2H350.0V429.7H6.0Z"/></g>
<use href="#landfill" fill="#80E680" stroke="#000" stroke-width="0.9" stroke-linejoin="round"/><g clip-path="url(#landclip)"><g stroke="#000" stroke-opacity="0.36" stroke-width="0.75" stroke-dasharray="2.3 5.95" fill="none"><path d="M58.0 0V427.6"/><path d="M116.0 0V427.6"/><path d="M174.0 0V427.6"/><path d="M232.0 0V427.6"/><path d="M290.0 0V427.6"/><path d="M0 72.4H348.0"/><path d="M0 144.3H348.0"/><path d="M0 215.8H348.0"/><path d="M0 286.8H348.0"/><path d="M0 357.4H348.0"/></g><g stroke="#222" stroke-width="0.85" fill="none"><path d="M58.0 0v4.4M58.0 427.6v-4.4"/><path d="M116.0 0v4.4M116.0 427.6v-4.4"/><path d="M174.0 0v4.4M174.0 427.6v-4.4"/><path d="M232.0 0v4.4M232.0 427.6v-4.4"/><path d="M290.0 0v4.4M290.0 427.6v-4.4"/><path d="M0 72.4h4.4M348.0 72.4h-4.4"/><path d="M0 144.3h4.4M348.0 144.3h-4.4"/><path d="M0 215.8h4.4M348.0 215.8h-4.4"/><path d="M0 286.8h4.4M348.0 286.8h-4.4"/><path d="M0 357.4h4.4M348.0 357.4h-4.4"/></g></g><path d="M60.4 20.3 62.0 27.9 64.5 36.5 66.7 45.1 70.6 52.9 72.3 59.8 74.0 66.7 75.8 73.6 77.5 80.5 79.2 87.4 81.4 96.9 84.4 106.3 87.0 115.0 89.6 123.6 93.0 132.2 96.5 139.1 99.9 146.0 103.4 152.9 106.0 159.8 108.5 165.8 111.1 172.8 113.7 179.7 116.3 186.6 118.5 193.4 120.2 201.2 118.9 197.7 120.2 202.9 119.8 208.9 118.5 214.9 117.2 223.6 115.9 232.2 114.1 238.2 112.8 244.3 112.7 244.4 113.0 250.2" fill="none" stroke="#000" stroke-width="1.25" stroke-linejoin="round"/><path d="M113.0 250.2 108.4 251.8 103.5 253.0 95.2 256.8 85.3 261.0 75.5 266.0 67.2 270.3 59.0 275.9 52.4 281.0 45.8 286.7 37.6 294.1 29.3 302.2 21.1 310.4 12.9 319.4 6.3 326.3 0.5 333.5" fill="none" stroke="#000" stroke-width="2.0" stroke-linejoin="round"/><path d="M5.9 117.5 11.9 122.7 18.0 127.0 21.4 130.1" fill="none" stroke="#000" stroke-width="2.6"/><path d="M5.9 117.5 11.9 122.7 18.0 127.0 21.4 130.1" fill="none" stroke="#fff" stroke-width="1.1"/><path d="M25.7 116.7 30.0 121.8 34.4 127.0" fill="none" stroke="#000" stroke-width="2.6"/><path d="M25.7 116.7 30.0 121.8 34.4 127.0" fill="none" stroke="#fff" stroke-width="1.1"/><use href="#dots"/>
<g fill="none" stroke="#000" stroke-width="1.00" stroke-linejoin="round"><path d="M116.8 22.6 120.4 22.6 135.5 38.1 151.2 38.1"/><path d="M151.2 52.1 151.2 77.0 158.9 85.0 151.2 92.5 135.9 92.5 120.6 107.6 97.6 107.6 90.1 100.5"/><path d="M158.9 85.0 166.5 85.0 174.2 92.5 166.5 92.5 158.9 85.0"/><path d="M82.8 9.7 90.7 9.7"/><path d="M128.4 223.8 128.4 202.2 151.6 178.6 158.9 178.6 174.2 193.6 181.8 193.6 189.5 201.2 197.0 201.2 204.8 208.7 204.8 216.2 212.3 223.8 220.0 216.2 220.0 201.2 227.6 201.2 235.3 208.7 235.3 216.2 227.6 223.8 220.0 223.8 210.8 232.4"/><path d="M128.4 224.0 132.3 234.1"/><path d="M138.7 247.0 159.2 270.2 166.7 270.2 181.8 262.5 189.5 254.7 197.0 247.0 201.1 243.3"/><path d="M105.4 270.7 105.4 300.1"/><path d="M98.9 308.3 98.5 316.9 105.4 316.9 105.4 308.3"/><path d="M221.6 278.2 235.3 278.2 235.3 293.2 227.6 300.8 197.0 300.8 189.5 308.3 189.5 332.0 181.8 339.5 174.2 332.0 181.8 324.4 181.8 300.8 174.2 300.8 189.5 285.7 210.8 285.7"/></g><text x="151.2" y="45.6" font-size="12.5" text-anchor="middle" fill="#000" transform="rotate(90 151.2 45.6) translate(0 4.5)">2</text><text x="97.2" y="8.0" font-size="12.5" text-anchor="middle" fill="#000" transform="rotate(-30 97.2 8.0) translate(0 4.5)">2</text><text x="135.5" y="241.2" font-size="12.5" text-anchor="middle" fill="#000" transform="rotate(60 135.5 241.2) translate(0 4.5)">2</text><text x="204.3" y="240.5" font-size="12.5" text-anchor="middle" fill="#000" transform="rotate(-45 204.3 240.5) translate(0 4.5)">2</text><text x="102.8" y="305.1" font-size="12.5" text-anchor="middle" fill="#000" transform="rotate(-80 102.8 305.1) translate(0 4.5)">2</text><text x="216.4" y="283.6" font-size="12.5" text-anchor="middle" fill="#000" transform="rotate(-20 216.4 283.6) translate(0 4.5)">2</text>
<g stroke="#FF0000" stroke-width="1.2" fill="none" stroke-linecap="butt"><path d="M58.2 45.2h16.6M66.5 36.9v16.6M60.6 39.3l11.7 11.7M60.6 51.1l11.7 -11.7"/></g>
<g stroke="#FF0000" stroke-width="1.2" fill="none" stroke-linecap="butt"><path d="M95.9 157.0h16.6M104.2 148.7v16.6M98.3 151.1l11.7 11.7M98.3 162.9l11.7 -11.7"/></g>
<g stroke="#FF0000" stroke-width="1.2" fill="none" stroke-linecap="butt"><path d="M105.5 250.0h16.6M113.8 241.7v16.6M107.9 244.1l11.7 11.7M107.9 255.9l11.7 -11.7"/></g>
<g stroke="#FF0000" stroke-width="1.2" fill="none" stroke-linecap="butt"><path d="M1.8 320.9h16.6M10.1 312.6v16.6M4.2 315.0l11.7 11.7M4.2 326.8l11.7 -11.7"/></g>
</g>
<path d="M0 0V427.6" stroke="#111" stroke-width="1.05"/>
<rect x="3.7" y="19.7" width="113.3" height="25.2" fill="url(#jet)" stroke="#2a2a2a" stroke-width="1.1"/><text x="3.0" y="6.9" font-size="16.70" text-anchor="middle" fill="#262626">0</text><text x="58.6" y="6.9" font-size="16.70" text-anchor="middle" fill="#262626">1</text><text x="115.6" y="6.9" font-size="16.70" text-anchor="middle" fill="#262626">2</text>
<text x="341" y="36.9" font-size="20.8" text-anchor="end" fill="#000">10 km</text><path d="M306.5 43.2h14.3" stroke="#000" stroke-width="3.2" stroke-linecap="round"/>
<text x="-6.4" y="7.2" font-size="21.2" text-anchor="end" fill="#000">37°N</text><text x="-6.4" y="151.5" font-size="21.2" text-anchor="end" fill="#000">36°N</text><text x="-6.4" y="294.0" font-size="21.2" text-anchor="end" fill="#000">35°N</text><text x="-6.4" y="434.8" font-size="21.2" text-anchor="end" fill="#000">34°N</text><text x="-5.6" y="78.7" font-size="16.5" text-anchor="end" fill="#000">30'</text><text x="-5.6" y="222.1" font-size="16.5" text-anchor="end" fill="#000">30'</text><text x="-5.6" y="363.7" font-size="16.5" text-anchor="end" fill="#000">30'</text><text x="58.0" y="448.6" font-size="21.2" text-anchor="middle" fill="#000">76°W</text><text x="174.0" y="448.6" font-size="21.2" text-anchor="middle" fill="#000">75°W</text><text x="290.0" y="448.6" font-size="21.2" text-anchor="middle" fill="#000">74°W</text><text x="-0.6" y="444.8" font-size="16.5" text-anchor="middle" fill="#000">30'</text><text x="115.4" y="444.8" font-size="16.5" text-anchor="middle" fill="#000">30'</text><text x="231.4" y="444.8" font-size="16.5" text-anchor="middle" fill="#000">30'</text><text x="347.4" y="444.8" font-size="16.5" text-anchor="middle" fill="#000">30'</text>
<text x="173.0" y="-12.8" font-size="20.80" font-weight="bold" text-anchor="middle" fill="#000">Number of Sites (2)</text>

</g>
<g transform="translate(75.0,742.6)">
<rect x="0" y="0" width="348.0" height="427.6" fill="none" stroke="#303030" stroke-width="0.95"/>
<g stroke="#222" stroke-width="0.85" fill="none"><path d="M58.0 0v4.4M58.0 427.6v-4.4"/><path d="M116.0 0v4.4M116.0 427.6v-4.4"/><path d="M174.0 0v4.4M174.0 427.6v-4.4"/><path d="M232.0 0v4.4M232.0 427.6v-4.4"/><path d="M290.0 0v4.4M290.0 427.6v-4.4"/><path d="M0 72.4h4.4M348.0 72.4h-4.4"/><path d="M0 144.3h4.4M348.0 144.3h-4.4"/><path d="M0 215.8h4.4M348.0 215.8h-4.4"/><path d="M0 286.8h4.4M348.0 286.8h-4.4"/><path d="M0 357.4h4.4M348.0 357.4h-4.4"/></g>
<g clip-path="url(#axclip)">
<g stroke="#000" stroke-opacity="0.36" stroke-width="0.75" stroke-dasharray="2.3 5.95" fill="none"><path d="M58.0 0V427.6"/><path d="M116.0 0V427.6"/><path d="M174.0 0V427.6"/><path d="M232.0 0V427.6"/><path d="M290.0 0V427.6"/><path d="M0 72.4H348.0"/><path d="M0 144.3H348.0"/><path d="M0 215.8H348.0"/><path d="M0 286.8H348.0"/><path d="M0 357.4H348.0"/></g>

<use href="#landfill" fill="#80E680" stroke="#000" stroke-width="0.9" stroke-linejoin="round"/><g clip-path="url(#landclip)"><g stroke="#000" stroke-opacity="0.36" stroke-width="0.75" stroke-dasharray="2.3 5.95" fill="none"><path d="M58.0 0V427.6"/><path d="M116.0 0V427.6"/><path d="M174.0 0V427.6"/><path d="M232.0 0V427.6"/><path d="M290.0 0V427.6"/><path d="M0 72.4H348.0"/><path d="M0 144.3H348.0"/><path d="M0 215.8H348.0"/><path d="M0 286.8H348.0"/><path d="M0 357.4H348.0"/></g><g stroke="#222" stroke-width="0.85" fill="none"><path d="M58.0 0v4.4M58.0 427.6v-4.4"/><path d="M116.0 0v4.4M116.0 427.6v-4.4"/><path d="M174.0 0v4.4M174.0 427.6v-4.4"/><path d="M232.0 0v4.4M232.0 427.6v-4.4"/><path d="M290.0 0v4.4M290.0 427.6v-4.4"/><path d="M0 72.4h4.4M348.0 72.4h-4.4"/><path d="M0 144.3h4.4M348.0 144.3h-4.4"/><path d="M0 215.8h4.4M348.0 215.8h-4.4"/><path d="M0 286.8h4.4M348.0 286.8h-4.4"/><path d="M0 357.4h4.4M348.0 357.4h-4.4"/></g></g><path d="M60.4 20.3 62.0 27.9 64.5 36.5 66.7 45.1 70.6 52.9 72.3 59.8 74.0 66.7 75.8 73.6 77.5 80.5 79.2 87.4 81.4 96.9 84.4 106.3 87.0 115.0 89.6 123.6 93.0 132.2 96.5 139.1 99.9 146.0 103.4 152.9 106.0 159.8 108.5 165.8 111.1 172.8 113.7 179.7 116.3 186.6 118.5 193.4 120.2 201.2 118.9 197.7 120.2 202.9 119.8 208.9 118.5 214.9 117.2 223.6 115.9 232.2 114.1 238.2 112.8 244.3 112.7 244.4 113.0 250.2" fill="none" stroke="#000" stroke-width="1.25" stroke-linejoin="round"/><path d="M113.0 250.2 108.4 251.8 103.5 253.0 95.2 256.8 85.3 261.0 75.5 266.0 67.2 270.3 59.0 275.9 52.4 281.0 45.8 286.7 37.6 294.1 29.3 302.2 21.1 310.4 12.9 319.4 6.3 326.3 0.5 333.5" fill="none" stroke="#000" stroke-width="2.0" stroke-linejoin="round"/><path d="M5.9 117.5 11.9 122.7 18.0 127.0 21.4 130.1" fill="none" stroke="#000" stroke-width="2.6"/><path d="M5.9 117.5 11.9 122.7 18.0 127.0 21.4 130.1" fill="none" stroke="#fff" stroke-width="1.1"/><path d="M25.7 116.7 30.0 121.8 34.4 127.0" fill="none" stroke="#000" stroke-width="2.6"/><path d="M25.7 116.7 30.0 121.8 34.4 127.0" fill="none" stroke="#fff" stroke-width="1.1"/><use href="#dots"/>
<g fill="none" stroke="#000" stroke-width="1.05" stroke-linejoin="round"><path d="M216.6 -1.0 216.0 3.0 214.3 8.7 213.4 14.0 212.3 18.2 211.9 22.1 211.6 26.0 210.5 30.0 208.7 35.3 207.5 41.0 205.0 48.0 203.4 53.1 203.0 58.0 201.7 61.8 200.5 66.0 199.9 71.4 198.3 77.0"/><path d="M194.2 118.0 194.3 122.4 193.2 127.0 193.8 130.7 193.6 135.0 192.1 139.1 191.6 143.0 191.5 147.5 191.3 152.0 190.0 156.1 189.2 160.0 188.4 165.1 187.8 170.0 188.1 174.0 188.3 178.0 189.6 182.8 190.4 187.0 193.0 193.0 195.8 200.0 195.4 206.0 193.8 212.0 191.5 218.0 189.7 222.0 187.0 226.0 184.5 229.7 181.0 233.0 177.1 236.6 174.5 240.0 171.7 244.6 168.0 249.0 165.4 253.3 162.2 257.5 158.8 261.5 156.5 265.0 154.0 268.1 151.7 271.5 146.0 277.0 141.5 281.5"/><path d="M114.8 311.5 110.8 314.9 108.0 318.0 105.1 321.8 103.0 325.4 99.5 329.0 96.3 333.3 93.0 338.0 90.3 341.8 88.5 345.8 85.8 349.5 82.7 352.3 79.6 355.7 77.0 358.5 73.7 361.3 71.8 363.9 68.3 367.0 66.0 370.6 63.1 373.7 61.0 377.0 59.3 380.5 56.5 384.5 54.2 388.0 51.4 391.6 47.7 395.3 45.0 399.0 42.1 402.7 39.3 406.5 36.8 410.0 34.2 413.1 31.0 416.2 28.0 419.5 24.3 423.7 20.7 428.0"/><circle cx="202.4" cy="55.8" r="1.6"/></g><text x="197.4" y="98.4" font-size="16.7" text-anchor="middle" fill="#000" transform="rotate(-83 197.4 98.4) translate(0 5.8)">-100</text><text x="127.6" y="297.2" font-size="16.7" text-anchor="middle" fill="#000" transform="rotate(-47 127.6 297.2) translate(0 5.8)">-100</text><path d="M16.3 316.5h0M16.7 317.1h0M17.0 317.7h0M17.2 318.3h0M17.4 318.9h0M17.6 319.6h0M17.7 320.2h0M17.7 320.9h0M17.7 321.6h0M17.6 322.2h0M17.4 322.9h0M17.2 323.5h0M17.0 324.1h0M16.7 324.7h0M16.3 325.3h0M15.9 325.8h0M15.5 326.3h0M15.0 326.7h0M14.5 327.1h0M13.9 327.5h0M13.3 327.8h0M12.7 328.0h0M12.1 328.2h0M11.4 328.4h0M10.8 328.5h0M10.1 328.5h0M9.4 328.5h0M22.6 312.2h0M23.3 313.3h0M23.9 314.5h0M24.4 315.7h0M24.8 317.0h0M25.1 318.3h0M25.2 319.6h0M25.3 320.9h0M25.2 322.2h0M25.1 323.5h0M24.8 324.8h0M24.4 326.1h0M23.9 327.3h0M23.3 328.5h0M22.6 329.6h0M21.7 330.7h0M20.8 331.6h0M19.9 332.5h0M18.8 333.4h0M17.7 334.1h0M16.5 334.7h0M15.3 335.2h0M14.0 335.6h0M12.7 335.9h0M11.4 336.0h0M10.1 336.1h0M8.8 336.0h0M28.8 307.8h0M29.8 309.5h0M30.8 311.3h0M31.5 313.1h0M32.1 315.0h0M32.6 316.9h0M32.8 318.9h0M32.9 320.9h0M32.8 322.9h0M32.6 324.9h0M32.1 326.8h0M31.5 328.7h0M30.8 330.5h0M29.8 332.3h0M28.8 334.0h0M27.6 335.6h0M26.2 337.0h0M24.8 338.4h0M23.2 339.6h0M21.5 340.6h0M19.7 341.6h0M17.9 342.3h0M16.0 342.9h0M14.1 343.4h0M12.1 343.6h0M10.1 343.7h0M8.1 343.6h0M35.0 303.5h0M36.4 305.7h0M37.7 308.1h0M38.7 310.5h0M39.5 313.0h0M40.0 315.6h0M40.4 318.3h0M40.5 320.9h0M40.4 323.5h0M40.0 326.2h0M39.5 328.8h0M38.7 331.3h0M37.7 333.7h0M36.4 336.1h0M35.0 338.3h0M33.4 340.4h0M31.6 342.4h0M29.6 344.2h0M27.5 345.8h0M25.3 347.2h0M22.9 348.5h0M20.5 349.5h0M18.0 350.3h0M15.4 350.8h0M12.7 351.2h0M10.1 351.3h0M7.5 351.2h0M41.2 299.1h0M43.0 301.9h0M44.5 304.8h0M45.8 307.9h0M46.8 311.1h0M47.5 314.3h0M48.0 317.6h0M48.1 320.9h0M48.0 324.2h0M47.5 327.5h0M46.8 330.7h0M45.8 333.9h0M44.5 337.0h0M43.0 339.9h0M41.2 342.7h0M39.2 345.3h0M37.0 347.8h0M34.5 350.0h0M31.9 352.0h0M29.1 353.8h0M26.2 355.3h0M23.1 356.6h0M19.9 357.6h0M16.7 358.3h0M13.4 358.8h0M10.1 358.9h0M6.8 358.8h0M47.5 294.7h0M49.6 298.1h0M51.4 301.6h0M52.9 305.3h0M54.1 309.1h0M55.0 313.0h0M55.5 316.9h0M55.7 320.9h0M55.5 324.9h0M55.0 328.8h0M54.1 332.7h0M52.9 336.5h0M51.4 340.2h0M49.6 343.7h0M47.5 347.1h0M45.0 350.2h0M42.3 353.1h0M39.4 355.8h0M36.3 358.3h0M32.9 360.4h0M29.4 362.2h0M25.7 363.7h0M21.9 364.9h0M18.0 365.8h0M14.1 366.3h0M10.1 366.5h0M6.1 366.3h0M53.7 290.4h0M56.2 294.3h0M58.3 298.4h0M60.1 302.7h0M61.5 307.1h0M62.5 311.7h0M63.1 316.3h0M63.3 320.9h0M63.1 325.5h0M62.5 330.1h0M61.5 334.7h0M60.1 339.1h0M58.3 343.4h0M56.2 347.5h0M53.7 351.4h0M50.9 355.1h0M47.7 358.5h0M44.3 361.7h0M40.6 364.5h0M36.7 367.0h0M32.6 369.1h0M28.3 370.9h0M23.9 372.3h0M19.3 373.3h0M14.7 373.9h0M10.1 374.1h0M5.5 373.9h0M59.9 286.0h0M62.8 290.5h0M65.2 295.2h0M67.2 300.1h0M68.8 305.2h0M70.0 310.3h0M70.7 315.6h0M70.9 320.9h0M70.7 326.2h0M70.0 331.5h0M68.8 336.6h0M67.2 341.7h0M65.2 346.6h0M62.8 351.3h0M59.9 355.8h0M56.7 360.0h0M53.1 363.9h0M49.2 367.5h0M45.0 370.7h0M40.5 373.6h0M35.8 376.0h0M30.9 378.0h0M25.8 379.6h0M20.7 380.8h0M15.4 381.5h0M10.1 381.7h0M4.8 381.5h0M66.1 281.7h0M69.3 286.7h0M72.1 292.0h0M74.4 297.5h0M76.2 303.2h0M77.5 309.0h0M78.2 314.9h0M78.5 320.9h0M78.2 326.9h0M77.5 332.8h0M76.2 338.6h0M74.4 344.3h0M72.1 349.8h0M69.3 355.1h0M66.1 360.1h0M62.5 364.9h0M58.5 369.3h0M54.1 373.3h0M49.3 376.9h0M44.3 380.1h0M39.0 382.9h0M33.5 385.2h0M27.8 387.0h0M22.0 388.3h0M16.1 389.0h0M10.1 389.3h0M4.1 389.0h0M79.0 288.8h0M83.5 301.2h0M84.9 307.7h0M85.8 314.3h0M85.8 327.5h0M84.9 334.1h0M83.5 340.6h0M81.5 346.9h0M79.0 353.0h0M68.3 369.8h0M63.8 374.6h0M59.0 379.1h0M53.7 383.2h0M48.1 386.7h0M85.9 285.6h0M90.9 299.3h0M93.4 313.6h0M93.7 320.9h0M93.4 328.2h0M92.4 335.4h0M90.9 342.5h0M88.7 349.5h0M85.9 356.2h0M78.6 368.9h0M74.1 374.6h0M69.2 380.0h0M63.8 384.9h0M58.1 389.4h0M51.9 393.3h0M89.1 275.3h0M92.8 282.4h0M95.8 289.7h0M98.2 297.3h0M99.9 305.1h0M101.0 313.0h0M101.3 320.9h0M101.0 328.8h0M99.9 336.7h0M98.2 344.5h0M95.8 352.1h0M92.8 359.4h0M84.8 373.2h0M80.0 379.5h0M74.6 385.4h0M68.7 390.8h0M62.4 395.6h0M95.7 271.5h0M102.9 287.1h0M107.4 303.7h0M108.5 312.3h0M108.9 320.9h0M105.5 346.5h0M102.9 354.7h0M99.6 362.7h0M95.7 370.3h0M91.0 377.6h0M80.0 390.8h0M73.6 396.6h0M66.8 401.8h0M59.5 406.5h0M91.5 250.0h0M91.5 257.8h0M91.5 265.6h0M91.5 273.4h0M91.5 281.2h0M91.5 289.0h0M91.5 296.8h0M91.5 304.6h0M91.5 312.4h0M91.5 320.2h0M91.5 328.0h0M91.5 335.8h0M91.5 343.6h0M80.0 265.0h0M73.0 270.0h0M85.0 275.0h0M96.0 258.0h0M98.0 335.0h0M104.0 343.0h0M95.0 350.0h0M100.0 360.0h0" stroke="#000" stroke-width="2.40" stroke-linecap="round" fill="none"/><path d="M117.6 243.4h0M118.2 243.8h0M118.7 244.2h0M119.2 244.6h0M119.6 245.1h0M120.0 245.6h0M120.4 246.2h0M120.7 246.8h0M120.9 247.4h0M121.1 248.0h0M121.3 248.7h0M121.4 249.3h0M121.4 250.0h0M121.4 250.7h0M121.3 251.3h0M121.1 252.0h0M120.9 252.6h0M120.7 253.2h0M120.4 253.8h0M120.0 254.4h0M119.6 254.9h0M119.2 255.4h0M118.7 255.8h0M118.2 256.2h0M117.6 256.6h0M117.0 256.9h0M116.4 257.1h0M115.8 257.3h0M115.1 257.5h0M114.5 257.6h0M113.8 257.6h0M113.1 257.6h0M121.4 236.8h0M122.5 237.5h0M123.6 238.4h0M124.5 239.3h0M125.4 240.2h0M126.3 241.3h0M127.0 242.4h0M127.6 243.6h0M128.1 244.8h0M128.5 246.1h0M128.8 247.4h0M128.9 248.7h0M129.0 250.0h0M128.9 251.3h0M128.8 252.6h0M128.5 253.9h0M128.1 255.2h0M127.6 256.4h0M127.0 257.6h0M126.3 258.7h0M125.4 259.8h0M124.5 260.7h0M123.6 261.6h0M122.5 262.5h0M121.4 263.2h0M120.2 263.8h0M119.0 264.3h0M117.7 264.7h0M116.4 265.0h0M115.1 265.1h0M113.8 265.2h0M112.5 265.1h0M125.2 230.3h0M126.9 231.3h0M128.5 232.5h0M129.9 233.9h0M131.3 235.3h0M132.5 236.9h0M133.5 238.6h0M134.5 240.4h0M135.2 242.2h0M135.8 244.1h0M136.3 246.0h0M136.5 248.0h0M136.6 250.0h0M136.5 252.0h0M136.3 254.0h0M135.8 255.9h0M135.2 257.8h0M134.5 259.6h0M133.5 261.4h0M132.5 263.1h0M131.3 264.7h0M129.9 266.1h0M128.5 267.5h0M126.9 268.7h0M125.2 269.7h0M123.4 270.7h0M121.6 271.4h0M119.7 272.0h0M117.8 272.5h0M115.8 272.7h0M113.8 272.8h0M111.8 272.7h0M129.0 223.7h0M131.2 225.1h0M133.3 226.7h0M135.3 228.5h0M137.1 230.5h0M138.7 232.6h0M140.1 234.8h0M141.4 237.2h0M142.4 239.6h0M143.2 242.1h0M143.7 244.7h0M144.1 247.4h0M144.2 250.0h0M144.1 252.6h0M143.7 255.3h0M143.2 257.9h0M142.4 260.4h0M141.4 262.8h0M140.1 265.2h0M138.7 267.4h0M137.1 269.5h0M135.3 271.5h0M133.3 273.3h0M131.2 274.9h0M129.0 276.3h0M126.6 277.6h0M124.2 278.6h0M121.7 279.4h0M119.1 279.9h0M116.4 280.3h0M113.8 280.4h0M111.2 280.3h0M132.8 217.1h0M135.6 218.9h0M138.2 220.9h0M140.7 223.1h0M142.9 225.6h0M144.9 228.2h0M146.7 231.0h0M148.2 233.9h0M149.5 237.0h0M150.5 240.2h0M151.2 243.4h0M151.7 246.7h0M151.8 250.0h0M151.7 253.3h0M151.2 256.6h0M150.5 259.8h0M149.5 263.0h0M148.2 266.1h0M146.7 269.0h0M144.9 271.8h0M142.9 274.4h0M140.7 276.9h0M138.2 279.1h0M135.6 281.1h0M132.8 282.9h0M129.9 284.4h0M126.8 285.7h0M123.6 286.7h0M120.4 287.4h0M117.1 287.9h0M113.8 288.0h0M110.5 287.9h0M136.6 210.5h0M140.0 212.6h0M143.1 215.1h0M146.0 217.8h0M148.7 220.7h0M151.2 223.8h0M153.3 227.2h0M155.1 230.7h0M156.6 234.4h0M157.8 238.2h0M158.7 242.1h0M159.2 246.0h0M159.4 250.0h0M159.2 254.0h0M158.7 257.9h0M157.8 261.8h0M156.6 265.6h0M155.1 269.3h0M153.3 272.8h0M151.2 276.2h0M148.7 279.3h0M146.0 282.2h0M143.1 284.9h0M140.0 287.4h0M136.6 289.5h0M133.1 291.3h0M129.4 292.8h0M125.6 294.0h0M121.7 294.9h0M117.8 295.4h0M113.8 295.6h0M109.8 295.4h0M140.4 203.9h0M144.3 206.4h0M148.0 209.2h0M151.4 212.4h0M154.6 215.8h0M157.4 219.5h0M159.9 223.4h0M162.0 227.5h0M163.8 231.8h0M165.2 236.2h0M166.2 240.8h0M166.8 245.4h0M167.0 250.0h0M166.8 254.6h0M166.2 259.2h0M165.2 263.8h0M163.8 268.2h0M162.0 272.5h0M159.9 276.6h0M157.4 280.5h0M154.6 284.2h0M151.4 287.6h0M148.0 290.8h0M144.3 293.6h0M140.4 296.1h0M136.3 298.2h0M132.0 300.0h0M127.6 301.4h0M123.0 302.4h0M118.4 303.0h0M113.8 303.2h0M109.2 303.0h0M144.2 197.3h0M148.7 200.2h0M152.9 203.4h0M156.8 207.0h0M160.4 210.9h0M163.6 215.1h0M166.5 219.6h0M168.9 224.3h0M170.9 229.2h0M172.5 234.3h0M173.7 239.4h0M174.4 244.7h0M174.6 250.0h0M174.4 255.3h0M173.7 260.6h0M172.5 265.7h0M170.9 270.8h0M168.9 275.7h0M166.5 280.4h0M163.6 284.9h0M160.4 289.1h0M156.8 293.0h0M152.9 296.6h0M148.7 299.8h0M144.2 302.7h0M139.5 305.1h0M134.6 307.1h0M129.5 308.7h0M124.4 309.9h0M119.1 310.6h0M113.8 310.8h0M108.5 310.6h0M148.0 190.8h0M153.0 194.0h0M157.8 197.6h0M162.2 201.6h0M166.2 206.0h0M169.8 210.8h0M173.0 215.8h0M175.8 221.1h0M178.1 226.6h0M179.9 232.3h0M181.2 238.1h0M181.9 244.0h0M182.2 250.0h0M181.9 256.0h0M181.2 261.9h0M179.9 267.7h0M178.1 273.4h0M175.8 278.9h0M173.0 284.2h0M169.8 289.2h0M166.2 294.0h0M162.2 298.4h0M157.8 302.4h0M153.0 306.0h0M148.0 309.2h0M142.7 312.0h0M137.2 314.3h0M131.5 316.1h0M125.7 317.4h0M119.8 318.1h0M113.8 318.4h0M107.8 318.1h0M176.1 206.4h0M179.6 212.0h0M182.7 217.9h0M185.2 224.0h0M187.2 230.3h0M188.6 236.8h0M189.5 243.4h0M189.8 250.0h0M189.5 256.6h0M187.2 269.7h0M182.7 282.1h0M176.1 293.6h0M172.0 298.9h0M167.5 303.7h0M157.4 312.3h0M151.8 315.8h0M182.3 202.0h0M186.2 208.2h0M189.6 214.7h0M192.4 221.4h0M194.6 228.4h0M196.1 235.5h0M197.1 242.7h0M196.1 264.5h0M194.6 271.6h0M192.4 278.6h0M189.6 285.3h0M182.3 298.0h0M177.8 303.7h0M172.9 309.1h0M167.5 314.0h0M161.8 318.5h0M155.6 322.4h0M188.5 197.7h0M196.5 211.5h0M201.9 226.4h0M203.6 234.2h0M204.7 242.1h0M203.6 265.8h0M201.9 273.6h0M199.5 281.2h0M196.5 288.5h0M192.8 295.6h0M188.5 302.3h0M183.7 308.6h0M178.3 314.5h0M172.4 319.9h0M159.4 329.0h0M194.7 193.3h0M199.4 200.6h0M203.3 208.2h0M206.6 216.2h0M209.2 224.4h0M211.1 232.8h0M212.2 241.4h0M212.2 258.6h0M211.1 267.2h0M209.2 275.6h0M206.6 283.8h0M203.3 291.8h0M194.7 306.7h0M189.5 313.5h0M183.7 319.9h0M170.5 330.9h0M201.0 189.0h0M205.9 196.8h0M210.2 205.0h0M213.8 213.6h0M216.6 222.5h0M219.8 240.7h0M220.2 250.0h0M210.2 295.0h0M205.9 303.2h0M201.0 311.0h0M182.2 331.5h0M167.0 342.1h0M207.2 184.6h0M212.5 193.0h0M217.1 201.8h0M220.9 211.0h0M223.9 220.5h0M226.1 230.2h0M227.4 240.1h0M227.8 250.0h0M226.1 269.8h0M223.9 279.5h0M220.9 289.0h0M212.5 307.0h0M201.1 323.3h0M187.1 337.3h0M179.2 343.4h0M170.8 348.7h0M213.4 180.3h0M228.1 208.4h0M231.3 218.5h0M233.6 228.9h0M235.4 250.0h0M234.9 260.6h0M233.6 271.1h0M231.3 281.5h0M228.1 291.6h0M224.0 301.4h0M219.1 310.8h0M213.4 319.7h0M207.0 328.2h0M192.0 343.2h0M174.6 355.3h0M219.6 175.9h0M225.7 185.4h0M238.6 216.6h0M241.0 227.6h0M243.0 250.0h0M238.6 283.4h0M235.2 294.2h0M230.9 304.6h0M225.7 314.6h0M212.8 333.0h0M205.2 341.4h0M196.8 349.0h0M187.9 355.8h0M178.4 361.9h0M123.9 369.0h0M166.4 365.0h0" stroke="#00FF00" stroke-width="2.50" stroke-linecap="round" fill="none"/><path d="M102.2 149.7h0M102.9 149.5h0M103.5 149.4h0M104.2 149.4h0M104.9 149.4h0M105.5 149.5h0M106.2 149.7h0M106.8 149.9h0M107.4 150.1h0M108.0 150.4h0M108.6 150.8h0M109.1 151.2h0M109.6 151.6h0M110.0 152.1h0M110.4 152.6h0M110.8 153.2h0M111.1 153.8h0M111.3 154.4h0M111.5 155.0h0M111.7 155.7h0M111.8 156.3h0M111.8 157.0h0M111.8 157.7h0M111.7 158.3h0M111.5 159.0h0M111.3 159.6h0M111.1 160.2h0M110.8 160.8h0M110.4 161.4h0M110.0 161.9h0M109.6 162.4h0M109.1 162.8h0M108.6 163.2h0M108.0 163.6h0M107.4 163.9h0M106.8 164.1h0M100.3 142.3h0M101.6 142.0h0M102.9 141.9h0M104.2 141.8h0M105.5 141.9h0M106.8 142.0h0M108.1 142.3h0M109.4 142.7h0M110.6 143.2h0M111.8 143.8h0M112.9 144.5h0M114.0 145.4h0M114.9 146.3h0M115.8 147.2h0M116.7 148.3h0M117.4 149.4h0M118.0 150.6h0M118.5 151.8h0M118.9 153.1h0M119.2 154.4h0M119.3 155.7h0M119.4 157.0h0M119.3 158.3h0M119.2 159.6h0M118.9 160.9h0M118.5 162.2h0M118.0 163.4h0M117.4 164.6h0M116.7 165.7h0M115.8 166.8h0M114.9 167.7h0M114.0 168.6h0M112.9 169.5h0M111.8 170.2h0M110.6 170.8h0M109.4 171.3h0M98.3 135.0h0M100.2 134.5h0M102.2 134.3h0M104.2 134.2h0M106.2 134.3h0M108.2 134.5h0M110.1 135.0h0M112.0 135.6h0M113.8 136.3h0M115.6 137.3h0M117.3 138.3h0M118.9 139.5h0M120.3 140.9h0M121.7 142.3h0M122.9 143.9h0M123.9 145.6h0M124.9 147.4h0M125.6 149.2h0M126.2 151.1h0M126.7 153.0h0M126.9 155.0h0M127.0 157.0h0M126.9 159.0h0M126.7 161.0h0M126.2 162.9h0M125.6 164.8h0M124.9 166.6h0M123.9 168.4h0M122.9 170.1h0M121.7 171.7h0M120.3 173.1h0M118.9 174.5h0M117.3 175.7h0M115.6 176.7h0M113.8 177.7h0M112.0 178.4h0M96.3 127.6h0M98.9 127.1h0M101.6 126.7h0M104.2 126.6h0M106.8 126.7h0M109.5 127.1h0M112.1 127.6h0M114.6 128.4h0M117.0 129.4h0M119.4 130.7h0M121.6 132.1h0M123.7 133.7h0M125.7 135.5h0M127.5 137.5h0M129.1 139.6h0M130.5 141.8h0M131.8 144.2h0M132.8 146.6h0M133.6 149.1h0M134.1 151.7h0M134.5 154.4h0M134.6 157.0h0M134.5 159.6h0M134.1 162.3h0M133.6 164.9h0M132.8 167.4h0M131.8 169.8h0M130.5 172.2h0M129.1 174.4h0M127.5 176.5h0M125.7 178.5h0M123.7 180.3h0M121.6 181.9h0M119.4 183.3h0M117.0 184.6h0M114.6 185.6h0M94.4 120.3h0M97.6 119.6h0M100.9 119.1h0M104.2 119.0h0M107.5 119.1h0M110.8 119.6h0M114.0 120.3h0M117.2 121.3h0M120.3 122.6h0M123.2 124.1h0M126.0 125.9h0M128.6 127.9h0M131.1 130.1h0M133.3 132.6h0M135.3 135.2h0M137.1 138.0h0M138.6 140.9h0M139.9 144.0h0M140.9 147.2h0M141.6 150.4h0M142.1 153.7h0M142.2 157.0h0M142.1 160.3h0M141.6 163.6h0M140.9 166.8h0M139.9 170.0h0M138.6 173.1h0M137.1 176.0h0M135.3 178.8h0M133.3 181.4h0M131.1 183.9h0M128.6 186.1h0M126.0 188.1h0M123.2 189.9h0M120.3 191.4h0M117.2 192.7h0M92.4 113.0h0M96.3 112.1h0M100.2 111.6h0M104.2 111.4h0M108.2 111.6h0M112.1 112.1h0M116.0 113.0h0M119.8 114.2h0M123.5 115.7h0M127.0 117.5h0M130.4 119.6h0M133.5 122.1h0M136.4 124.8h0M139.1 127.7h0M141.6 130.8h0M143.7 134.2h0M145.5 137.7h0M147.0 141.4h0M148.2 145.2h0M149.1 149.1h0M149.6 153.0h0M149.8 157.0h0M149.6 161.0h0M149.1 164.9h0M148.2 168.8h0M147.0 172.6h0M145.5 176.3h0M143.7 179.8h0M141.6 183.2h0M139.1 186.3h0M136.4 189.2h0M133.5 191.9h0M130.4 194.4h0M127.0 196.5h0M123.5 198.3h0M119.8 199.8h0M90.4 105.6h0M95.0 104.6h0M99.6 104.0h0M104.2 103.8h0M108.8 104.0h0M113.4 104.6h0M118.0 105.6h0M122.4 107.0h0M126.7 108.8h0M130.8 110.9h0M134.7 113.4h0M138.4 116.2h0M141.8 119.4h0M145.0 122.8h0M147.8 126.5h0M150.3 130.4h0M152.4 134.5h0M154.2 138.8h0M155.6 143.2h0M156.6 147.8h0M157.2 152.4h0M157.4 157.0h0M157.2 161.6h0M156.6 166.2h0M155.6 170.8h0M154.2 175.2h0M152.4 179.5h0M150.3 183.6h0M147.8 187.5h0M145.0 191.2h0M141.8 194.6h0M138.4 197.8h0M134.7 200.6h0M130.8 203.1h0M126.7 205.2h0M122.4 207.0h0M88.5 98.3h0M93.6 97.1h0M98.9 96.4h0M104.2 96.2h0M109.5 96.4h0M114.8 97.1h0M119.9 98.3h0M125.0 99.9h0M129.9 101.9h0M134.6 104.3h0M139.1 107.2h0M143.3 110.4h0M147.2 114.0h0M150.8 117.9h0M154.0 122.1h0M156.9 126.6h0M159.3 131.3h0M161.3 136.2h0M162.9 141.3h0M164.1 146.4h0M164.8 151.7h0M165.0 157.0h0M164.8 162.3h0M164.1 167.6h0M162.9 172.7h0M161.3 177.8h0M159.3 182.7h0M156.9 187.4h0M154.0 191.9h0M150.8 196.1h0M147.2 200.0h0M143.3 203.6h0M139.1 206.8h0M134.6 209.7h0M129.9 212.1h0M125.0 214.1h0M86.5 90.9h0M92.3 89.6h0M98.2 88.9h0M104.2 88.6h0M110.2 88.9h0M116.1 89.6h0M121.9 90.9h0M127.6 92.7h0M133.1 95.0h0M138.4 97.8h0M143.4 101.0h0M148.2 104.6h0M152.6 108.6h0M156.6 113.0h0M160.2 117.8h0M163.4 122.8h0M166.2 128.1h0M168.5 133.6h0M170.3 139.3h0M171.6 145.1h0M172.3 151.0h0M172.6 157.0h0M172.3 163.0h0M171.6 168.9h0M170.3 174.7h0M168.5 180.4h0M166.2 185.9h0M163.4 191.2h0M160.2 196.2h0M156.6 201.0h0M152.6 205.4h0M148.2 209.4h0M143.4 213.0h0M138.4 216.2h0M133.1 219.0h0M127.6 221.3h0M84.5 83.6h0M91.0 82.2h0M97.6 81.3h0M104.2 81.0h0M110.8 81.3h0M117.4 82.2h0M123.9 83.6h0M130.2 85.6h0M136.3 88.1h0M142.2 91.2h0M147.8 94.7h0M153.1 98.8h0M157.9 103.3h0M162.4 108.1h0M166.5 113.4h0M170.0 119.0h0M173.1 124.9h0M175.6 131.0h0M177.6 137.3h0M179.0 143.8h0M179.9 150.4h0M180.2 157.0h0M179.9 163.6h0M179.0 170.2h0M177.6 176.7h0M175.6 183.0h0M173.1 189.1h0M170.0 195.0h0M166.5 200.6h0M162.4 205.9h0M157.9 210.7h0M153.1 215.2h0M147.8 219.3h0M142.2 222.8h0M136.3 225.9h0M130.2 228.4h0M82.6 76.2h0M89.7 74.7h0M96.9 73.7h0M104.2 73.4h0M111.5 73.7h0M118.7 74.7h0M125.8 76.2h0M132.8 78.4h0M139.5 81.2h0M146.0 84.6h0M152.2 88.5h0M157.9 93.0h0M163.3 97.9h0M168.2 103.3h0M172.7 109.0h0M176.6 115.2h0M180.0 121.7h0M182.8 128.4h0M185.0 135.4h0M186.5 142.5h0M187.5 149.7h0M187.8 157.0h0M187.5 164.3h0M186.5 171.5h0M185.0 178.6h0M182.8 185.6h0M180.0 192.3h0M176.6 198.8h0M172.7 205.0h0M168.2 210.7h0M163.3 216.1h0M157.9 221.0h0M152.2 225.5h0M146.0 229.4h0M139.5 232.8h0M132.8 235.6h0M80.6 68.9h0M88.4 67.2h0M96.3 66.1h0M112.1 66.1h0M135.4 71.3h0M142.7 74.3h0M149.8 78.0h0M162.8 87.1h0M168.7 92.5h0M178.9 104.7h0M183.2 111.4h0M189.9 125.8h0M192.3 133.4h0M194.0 141.2h0M195.1 149.1h0M195.4 157.0h0M195.1 164.9h0M194.0 172.8h0M192.3 180.6h0M189.9 188.2h0M186.9 195.5h0M183.2 202.6h0M178.9 209.3h0M174.1 215.6h0M168.7 221.5h0M162.8 226.9h0M156.5 231.7h0M142.7 239.7h0M135.4 242.7h0M87.0 59.7h0M95.6 58.6h0M112.8 58.6h0M146.0 67.5h0M153.6 71.4h0M167.7 81.3h0M174.1 87.1h0M179.9 93.5h0M189.8 107.6h0M193.7 115.2h0M199.6 131.4h0M201.5 139.8h0M202.6 148.4h0M203.0 157.0h0M202.6 165.6h0M201.5 174.2h0M199.6 182.6h0M197.0 190.8h0M193.7 198.8h0M189.8 206.4h0M185.1 213.7h0M179.9 220.5h0M174.1 226.9h0M153.6 242.6h0M146.0 246.5h0M76.7 54.2h0M94.9 51.0h0M104.2 50.6h0M122.7 52.2h0M131.7 54.2h0M157.4 64.9h0M172.6 75.5h0M179.4 81.8h0M185.7 88.6h0M191.4 96.0h0M200.6 112.0h0M204.2 120.6h0M207.0 129.5h0M210.2 147.7h0M209.0 175.5h0M207.0 184.5h0M204.2 193.4h0M200.6 202.0h0M196.3 210.2h0M191.4 218.0h0M185.7 225.4h0M172.6 238.5h0M165.2 244.2h0M157.4 249.1h0M149.2 253.4h0M94.3 43.4h0M114.1 43.4h0M124.0 44.7h0M143.2 49.9h0M152.4 53.7h0M161.2 58.3h0M169.6 63.6h0M191.5 83.7h0M197.6 91.6h0M202.9 100.0h0M207.5 108.8h0M214.3 127.5h0M216.5 137.2h0M217.8 147.1h0M218.2 157.0h0M216.5 176.8h0M214.3 186.5h0M211.3 196.0h0M207.5 205.2h0M202.9 214.0h0M197.6 222.4h0M191.5 230.3h0M184.8 237.6h0M152.4 260.3h0M83.1 37.2h0M93.6 35.9h0M114.8 35.9h0M125.3 37.2h0M135.7 39.5h0M155.6 46.8h0M182.4 63.8h0M197.4 78.8h0M209.5 96.2h0M214.4 105.6h0M218.5 115.4h0M224.0 135.9h0M225.3 146.4h0M225.8 157.0h0M225.3 167.6h0M221.7 188.5h0M218.5 198.6h0M214.4 208.4h0M209.5 217.8h0M203.8 226.7h0M197.4 235.2h0M190.2 243.0h0M70.8 32.2h0M92.9 28.3h0M104.2 27.8h0M115.5 28.3h0M137.6 32.2h0M148.4 35.6h0M158.8 39.9h0M178.3 51.2h0M195.6 65.6h0M203.2 74.0h0M210.0 82.9h0M216.1 92.4h0M221.3 102.4h0M225.6 112.8h0M229.0 123.6h0M231.4 134.6h0M232.9 145.7h0M232.9 168.3h0M231.4 179.4h0M229.0 190.4h0M225.6 201.2h0M221.3 211.6h0M216.1 221.6h0M210.0 231.1h0M203.2 240.0h0M195.6 248.4h0M253.0 21.0h0M283.0 24.0h0M264.0 37.0h0M295.0 42.0h0M242.0 89.0h0M219.0 150.0h0M226.0 150.0h0M289.0 227.0h0M299.0 170.0h0M262.0 193.0h0M233.0 215.0h0M242.0 210.0h0M179.0 0.3h0M209.0 0.3h0M224.0 0.3h0M246.0 0.3h0M256.0 0.3h0M297.0 0.3h0" stroke="#FF0000" stroke-width="2.40" stroke-linecap="round" fill="none"/><path d="M68.5 37.9h0M69.1 38.1h0M69.7 38.3h0M70.3 38.6h0M70.9 39.0h0M71.4 39.4h0M71.9 39.8h0M72.3 40.3h0M72.7 40.8h0M73.1 41.4h0M73.4 42.0h0M73.6 42.6h0M73.8 43.2h0M74.0 43.9h0M74.1 44.5h0M74.1 45.2h0M74.1 45.9h0M74.0 46.5h0M73.8 47.2h0M73.6 47.8h0M73.4 48.4h0M73.1 49.0h0M72.7 49.6h0M72.3 50.1h0M71.9 50.6h0M71.4 51.0h0M70.9 51.4h0M70.3 51.8h0M70.4 30.5h0M71.7 30.9h0M72.9 31.4h0M74.1 32.0h0M75.2 32.7h0M76.3 33.6h0M77.2 34.5h0M78.1 35.4h0M79.0 36.5h0M79.7 37.6h0M80.3 38.8h0M80.8 40.0h0M81.2 41.3h0M81.5 42.6h0M81.6 43.9h0M81.7 45.2h0M81.6 46.5h0M81.5 47.8h0M81.2 49.1h0M80.8 50.4h0M80.3 51.6h0M79.7 52.8h0M79.0 53.9h0M78.1 55.0h0M77.2 55.9h0M76.3 56.8h0M75.2 57.7h0M74.1 58.4h0M72.4 23.2h0M74.3 23.8h0M76.1 24.5h0M77.9 25.5h0M79.6 26.5h0M81.2 27.7h0M82.6 29.1h0M84.0 30.5h0M85.2 32.1h0M86.2 33.8h0M87.2 35.6h0M87.9 37.4h0M88.5 39.3h0M89.0 41.2h0M89.2 43.2h0M89.3 45.2h0M89.2 47.2h0M89.0 49.2h0M88.5 51.1h0M87.9 53.0h0M87.2 54.8h0M86.2 56.6h0M85.2 58.3h0M84.0 59.9h0M82.6 61.3h0M81.2 62.7h0M79.6 63.9h0M77.9 64.9h0M74.4 15.8h0M76.9 16.6h0M79.3 17.6h0M81.7 18.9h0M83.9 20.3h0M86.0 21.9h0M88.0 23.7h0M89.8 25.7h0M91.4 27.8h0M92.8 30.0h0M94.1 32.4h0M95.1 34.8h0M95.9 37.3h0M96.4 39.9h0M96.8 42.6h0M96.9 45.2h0M96.8 47.8h0M96.4 50.5h0M95.9 53.1h0M95.1 55.6h0M94.1 58.0h0M92.8 60.4h0M91.4 62.6h0M89.8 64.7h0M88.0 66.7h0M86.0 68.5h0M83.9 70.1h0M81.7 71.5h0M76.3 8.5h0M79.5 9.5h0M82.6 10.8h0M85.5 12.3h0M88.3 14.1h0M90.9 16.1h0M93.4 18.3h0M95.6 20.8h0M97.6 23.4h0M99.4 26.2h0M100.9 29.1h0M102.2 32.2h0M103.2 35.4h0M103.9 38.6h0M104.4 41.9h0M104.5 45.2h0M104.4 48.5h0M103.9 51.8h0M103.2 55.0h0M102.2 58.2h0M100.9 61.3h0M99.4 64.2h0M97.6 67.0h0M95.6 69.6h0M93.4 72.1h0M90.9 74.3h0M88.3 76.3h0M85.5 78.1h0M78.3 1.2h0M82.1 2.4h0M85.8 3.9h0M89.3 5.7h0M92.7 7.8h0M95.8 10.3h0M98.7 13.0h0M101.4 15.9h0M103.9 19.0h0M106.0 22.4h0M107.8 25.9h0M109.3 29.6h0M110.5 33.4h0M111.4 37.3h0M111.9 41.2h0M112.1 45.2h0M111.9 49.2h0M111.4 53.1h0M110.5 57.0h0M109.3 60.8h0M107.8 64.5h0M106.0 68.0h0M103.9 71.4h0M101.4 74.5h0M98.7 77.4h0M95.8 80.1h0M92.7 82.6h0M89.3 84.7h0M80.3 0.3h0M84.7 0.3h0M89.0 0.3h0M93.1 0.3h0M97.0 1.6h0M100.7 4.4h0M104.1 7.6h0M107.3 11.0h0M110.1 14.7h0M112.6 18.6h0M114.7 22.7h0M116.5 27.0h0M117.9 31.4h0M118.9 36.0h0M119.5 40.6h0M119.7 45.2h0M119.5 49.8h0M118.9 54.4h0M117.9 59.0h0M116.5 63.4h0M114.7 67.7h0M112.6 71.8h0M110.1 75.7h0M107.3 79.4h0M104.1 82.8h0M100.7 86.0h0M97.0 88.8h0M93.1 91.3h0M82.2 0.3h0M87.3 0.3h0M92.2 0.3h0M96.9 0.3h0M101.4 0.3h0M105.6 0.3h0M109.5 2.2h0M113.1 6.1h0M116.3 10.3h0M119.2 14.8h0M121.6 19.5h0M123.6 24.4h0M125.2 29.5h0M126.4 34.6h0M127.1 39.9h0M127.3 45.2h0M127.1 50.5h0M126.4 55.8h0M125.2 60.9h0M123.6 66.0h0M121.6 70.9h0M119.2 75.6h0M116.3 80.1h0M113.1 84.3h0M109.5 88.2h0M105.6 91.8h0M101.4 95.0h0M96.9 97.9h0M84.2 0.3h0M89.9 0.3h0M95.4 0.3h0M100.7 0.3h0M105.7 0.3h0M110.5 0.3h0M114.9 0.3h0M118.9 1.2h0M122.5 6.0h0M125.7 11.0h0M128.5 16.3h0M130.8 21.8h0M132.6 27.5h0M133.9 33.3h0M134.6 39.2h0M134.9 45.2h0M134.6 51.2h0M133.9 57.1h0M132.6 62.9h0M130.8 68.6h0M128.5 74.1h0M125.7 79.4h0M122.5 84.4h0M118.9 89.2h0M114.9 93.6h0M110.5 97.6h0M105.7 101.2h0M100.7 104.4h0M86.2 0.3h0M92.5 0.3h0M98.6 0.3h0M104.5 0.3h0M110.1 0.3h0M115.4 0.3h0M120.2 0.3h0M124.7 0.3h0M128.8 1.6h0M132.3 7.2h0M135.4 13.1h0M137.9 19.2h0M139.9 25.5h0M141.3 32.0h0M142.2 38.6h0M142.5 45.2h0M142.2 51.8h0M141.3 58.4h0M139.9 64.9h0M137.9 71.2h0M135.4 77.3h0M132.3 83.2h0M128.8 88.8h0M124.7 94.1h0M120.2 98.9h0M115.4 103.4h0M110.1 107.5h0M104.5 111.0h0M88.1 0.3h0M95.1 0.3h0M101.8 0.3h0M108.3 0.3h0M114.5 0.3h0M120.2 0.3h0M125.6 0.3h0M130.5 0.3h0M135.0 0.3h0M138.9 3.4h0M142.3 9.9h0M145.1 16.6h0M147.3 23.6h0M148.8 30.7h0M149.8 37.9h0M150.1 45.2h0M149.8 52.5h0M148.8 59.7h0M147.3 66.8h0M145.1 73.8h0M142.3 80.5h0M138.9 87.0h0M135.0 93.2h0M130.5 98.9h0M125.6 104.3h0M120.2 109.2h0M114.5 113.7h0M108.3 117.6h0M145.5 0.3h0M149.2 6.7h0M156.3 29.4h0M157.4 37.3h0M157.4 53.1h0M154.6 68.8h0M162.5 94.0h0M173.5 10.5h0M163.0 0.3h0M170.0 0.3h0M173.0 0.3h0" stroke="#0000FF" stroke-width="2.50" stroke-linecap="round" fill="none"/>
<g stroke="#FF0000" stroke-width="1.2" fill="none" stroke-linecap="butt"><path d="M58.2 45.2h16.6M66.5 36.9v16.6M60.6 39.3l11.7 11.7M60.6 51.1l11.7 -11.7"/></g>
<g stroke="#FF0000" stroke-width="1.2" fill="none" stroke-linecap="butt"><path d="M95.9 157.0h16.6M104.2 148.7v16.6M98.3 151.1l11.7 11.7M98.3 162.9l11.7 -11.7"/></g>
<g stroke="#FF0000" stroke-width="1.2" fill="none" stroke-linecap="butt"><path d="M105.5 250.0h16.6M113.8 241.7v16.6M107.9 244.1l11.7 11.7M107.9 255.9l11.7 -11.7"/></g>
<g stroke="#FF0000" stroke-width="1.2" fill="none" stroke-linecap="butt"><path d="M1.8 320.9h16.6M10.1 312.6v16.6M4.2 315.0l11.7 11.7M4.2 326.8l11.7 -11.7"/></g>
</g>
<path d="M0 0V427.6" stroke="#111" stroke-width="1.05"/>
<text x="341" y="36.9" font-size="20.8" text-anchor="end" fill="#000">10 km</text><path d="M306.5 43.2h14.3" stroke="#000" stroke-width="3.2" stroke-linecap="round"/>
<text x="-6.4" y="7.2" font-size="21.2" text-anchor="end" fill="#000">37°N</text><text x="-6.4" y="151.5" font-size="21.2" text-anchor="end" fill="#000">36°N</text><text x="-6.4" y="294.0" font-size="21.2" text-anchor="end" fill="#000">35°N</text><text x="-6.4" y="434.8" font-size="21.2" text-anchor="end" fill="#000">34°N</text><text x="-5.6" y="78.7" font-size="16.5" text-anchor="end" fill="#000">30'</text><text x="-5.6" y="222.1" font-size="16.5" text-anchor="end" fill="#000">30'</text><text x="-5.6" y="363.7" font-size="16.5" text-anchor="end" fill="#000">30'</text><text x="58.0" y="448.6" font-size="21.2" text-anchor="middle" fill="#000">76°W</text><text x="174.0" y="448.6" font-size="21.2" text-anchor="middle" fill="#000">75°W</text><text x="290.0" y="448.6" font-size="21.2" text-anchor="middle" fill="#000">74°W</text><text x="-0.6" y="444.8" font-size="16.5" text-anchor="middle" fill="#000">30'</text><text x="115.4" y="444.8" font-size="16.5" text-anchor="middle" fill="#000">30'</text><text x="231.4" y="444.8" font-size="16.5" text-anchor="middle" fill="#000">30'</text><text x="347.4" y="444.8" font-size="16.5" text-anchor="middle" fill="#000">30'</text>
<text x="173.5" y="-12.7" font-size="24.70" font-weight="bold" text-anchor="middle" fill="#000">Radial Grid</text>

</g>
<g transform="translate(458.4,742.6)">
<rect x="0" y="0" width="348.0" height="427.6" fill="none" stroke="#303030" stroke-width="0.95"/>
<g stroke="#222" stroke-width="0.85" fill="none"><path d="M58.0 0v4.4M58.0 427.6v-4.4"/><path d="M116.0 0v4.4M116.0 427.6v-4.4"/><path d="M174.0 0v4.4M174.0 427.6v-4.4"/><path d="M232.0 0v4.4M232.0 427.6v-4.4"/><path d="M290.0 0v4.4M290.0 427.6v-4.4"/><path d="M0 72.4h4.4M348.0 72.4h-4.4"/><path d="M0 144.3h4.4M348.0 144.3h-4.4"/><path d="M0 215.8h4.4M348.0 215.8h-4.4"/><path d="M0 286.8h4.4M348.0 286.8h-4.4"/><path d="M0 357.4h4.4M348.0 357.4h-4.4"/></g>
<g clip-path="url(#axclip)">
<g stroke="#000" stroke-opacity="0.36" stroke-width="0.75" stroke-dasharray="2.3 5.95" fill="none"><path d="M58.0 0V427.6"/><path d="M116.0 0V427.6"/><path d="M174.0 0V427.6"/><path d="M232.0 0V427.6"/><path d="M290.0 0V427.6"/><path d="M0 72.4H348.0"/><path d="M0 144.3H348.0"/><path d="M0 215.8H348.0"/><path d="M0 286.8H348.0"/><path d="M0 357.4H348.0"/></g>
<g shape-rendering="crispEdges"><path fill="#0000EF" d="M82.4 -1.0H90.1V6.8H82.4Z"/><path fill="#0000EF" d="M90.1 -1.0H97.7V6.8H90.1Z"/><path fill="#0030FF" d="M97.7 -1.0H105.4V6.8H97.7Z"/><path fill="#0000DF" d="M105.4 14.6H113.0V22.5H105.4Z"/><path fill="#0010FF" d="M113.0 14.6H120.7V22.5H113.0Z"/><path fill="#00EFFF" d="M120.7 14.6H128.3V22.5H120.7Z"/><path fill="#0010FF" d="M105.4 22.5H113.0V30.3H105.4Z"/><path fill="#0030FF" d="M113.0 22.5H120.7V30.3H113.0Z"/><path fill="#0070FF" d="M120.7 22.5H128.3V30.3H120.7Z"/><path fill="#30FFCF" d="M128.3 22.5H135.9V30.3H128.3Z"/><path fill="#0050FF" d="M97.7 30.3H105.4V38.1H97.7Z"/><path fill="#0070FF" d="M105.4 30.3H113.0V38.1H105.4Z"/><path fill="#0070FF" d="M113.0 30.3H120.7V38.1H113.0Z"/><path fill="#0050FF" d="M120.7 30.3H128.3V38.1H120.7Z"/><path fill="#30FFCF" d="M128.3 30.3H135.9V38.1H128.3Z"/><path fill="#AFFF50" d="M135.9 30.3H143.6V38.1H135.9Z"/><path fill="#FFFF00" d="M143.6 30.3H151.2V38.1H143.6Z"/><path fill="#30FFCF" d="M151.2 30.3H158.9V38.1H151.2Z"/><path fill="#0050FF" d="M90.1 38.1H97.7V45.9H90.1Z"/><path fill="#0050FF" d="M97.7 38.1H105.4V45.9H97.7Z"/><path fill="#0070FF" d="M105.4 38.1H113.0V45.9H105.4Z"/><path fill="#008FFF" d="M113.0 38.1H120.7V45.9H113.0Z"/><path fill="#0050FF" d="M120.7 38.1H128.3V45.9H120.7Z"/><path fill="#FF6000" d="M128.3 38.1H135.9V45.9H128.3Z"/><path fill="#FF2000" d="M135.9 38.1H143.6V45.9H135.9Z"/><path fill="#FFFF00" d="M143.6 38.1H151.2V45.9H143.6Z"/><path fill="#FFAF00" d="M151.2 38.1H158.9V45.9H151.2Z"/><path fill="#0070FF" d="M74.8 45.9H82.4V53.7H74.8Z"/><path fill="#0070FF" d="M82.4 45.9H90.1V53.7H82.4Z"/><path fill="#0050FF" d="M90.1 45.9H97.7V53.7H90.1Z"/><path fill="#0050FF" d="M97.7 45.9H105.4V53.7H97.7Z"/><path fill="#0070FF" d="M105.4 45.9H113.0V53.7H105.4Z"/><path fill="#0070FF" d="M113.0 45.9H120.7V53.7H113.0Z"/><path fill="#0050FF" d="M120.7 45.9H128.3V53.7H120.7Z"/><path fill="#FF3000" d="M128.3 45.9H135.9V53.7H128.3Z"/><path fill="#FF2000" d="M135.9 45.9H143.6V53.7H135.9Z"/><path fill="#FF8F00" d="M143.6 45.9H151.2V53.7H143.6Z"/><path fill="#BFFF40" d="M151.2 45.9H158.9V53.7H151.2Z"/><path fill="#0070FF" d="M82.4 53.7H90.1V61.5H82.4Z"/><path fill="#0050FF" d="M90.1 53.7H97.7V61.5H90.1Z"/><path fill="#0010FF" d="M97.7 53.7H105.4V61.5H97.7Z"/><path fill="#0000FF" d="M105.4 53.7H113.0V61.5H105.4Z"/><path fill="#0010FF" d="M113.0 53.7H120.7V61.5H113.0Z"/><path fill="#DFFF20" d="M120.7 53.7H128.3V61.5H120.7Z"/><path fill="#FF4000" d="M128.3 53.7H135.9V61.5H128.3Z"/><path fill="#FF3000" d="M135.9 53.7H143.6V61.5H135.9Z"/><path fill="#FF2000" d="M143.6 53.7H151.2V61.5H143.6Z"/><path fill="#0070FF" d="M151.2 53.7H158.9V61.5H151.2Z"/><path fill="#0060FF" d="M82.4 61.5H90.1V69.3H82.4Z"/><path fill="#0040FF" d="M90.1 61.5H97.7V69.3H90.1Z"/><path fill="#0010FF" d="M97.7 61.5H105.4V69.3H97.7Z"/><path fill="#0000FF" d="M105.4 61.5H113.0V69.3H105.4Z"/><path fill="#0010FF" d="M113.0 61.5H120.7V69.3H113.0Z"/><path fill="#10FFEF" d="M120.7 61.5H128.3V69.3H120.7Z"/><path fill="#BFFF40" d="M128.3 61.5H135.9V69.3H128.3Z"/><path fill="#FF5000" d="M135.9 61.5H143.6V69.3H135.9Z"/><path fill="#008FFF" d="M143.6 61.5H151.2V69.3H143.6Z"/><path fill="#0040FF" d="M151.2 61.5H158.9V69.3H151.2Z"/><path fill="#0060FF" d="M82.4 69.3H90.1V77.1H82.4Z"/><path fill="#0040FF" d="M90.1 69.3H97.7V77.1H90.1Z"/><path fill="#0010FF" d="M97.7 69.3H105.4V77.1H97.7Z"/><path fill="#0070FF" d="M105.4 69.3H113.0V77.1H105.4Z"/><path fill="#0080FF" d="M113.0 69.3H120.7V77.1H113.0Z"/><path fill="#20FFDF" d="M120.7 69.3H128.3V77.1H120.7Z"/><path fill="#30FFCF" d="M128.3 69.3H135.9V77.1H128.3Z"/><path fill="#50FFAF" d="M135.9 69.3H143.6V77.1H135.9Z"/><path fill="#0030FF" d="M143.6 69.3H151.2V77.1H143.6Z"/><path fill="#0040FF" d="M151.2 69.3H158.9V77.1H151.2Z"/><path fill="#0060FF" d="M82.4 77.1H90.1V84.9H82.4Z"/><path fill="#0050FF" d="M90.1 77.1H97.7V84.9H90.1Z"/><path fill="#00AFFF" d="M97.7 77.1H105.4V84.9H97.7Z"/><path fill="#00AFFF" d="M105.4 77.1H113.0V84.9H105.4Z"/><path fill="#008FFF" d="M113.0 77.1H120.7V84.9H113.0Z"/><path fill="#00EFFF" d="M120.7 77.1H128.3V84.9H120.7Z"/><path fill="#20FFDF" d="M128.3 77.1H135.9V84.9H128.3Z"/><path fill="#00EFFF" d="M135.9 77.1H143.6V84.9H135.9Z"/><path fill="#8FFF70" d="M143.6 77.1H151.2V84.9H143.6Z"/><path fill="#0010FF" d="M151.2 77.1H158.9V84.9H151.2Z"/><path fill="#0000DF" d="M158.9 77.1H166.5V84.9H158.9Z"/><path fill="#0000FF" d="M166.5 77.1H174.2V84.9H166.5Z"/><path fill="#0070FF" d="M82.4 84.9H90.1V92.7H82.4Z"/><path fill="#00CFFF" d="M90.1 84.9H97.7V92.7H90.1Z"/><path fill="#00EFFF" d="M97.7 84.9H105.4V92.7H97.7Z"/><path fill="#10FFEF" d="M105.4 84.9H113.0V92.7H105.4Z"/><path fill="#40FFBF" d="M113.0 84.9H120.7V92.7H113.0Z"/><path fill="#00AFFF" d="M120.7 84.9H128.3V92.7H120.7Z"/><path fill="#8FFF70" d="M128.3 84.9H135.9V92.7H128.3Z"/><path fill="#AFFF50" d="M135.9 84.9H143.6V92.7H135.9Z"/><path fill="#0020FF" d="M166.5 84.9H174.2V92.7H166.5Z"/><path fill="#0010FF" d="M174.2 84.9H181.8V92.7H174.2Z"/><path fill="#00AFFF" d="M90.1 92.7H97.7V100.4H90.1Z"/><path fill="#00EFFF" d="M97.7 92.7H105.4V100.4H97.7Z"/><path fill="#50FFAF" d="M105.4 92.7H113.0V100.4H105.4Z"/><path fill="#20FFDF" d="M113.0 92.7H120.7V100.4H113.0Z"/><path fill="#00FFFF" d="M120.7 92.7H128.3V100.4H120.7Z"/><path fill="#00AFFF" d="M128.3 92.7H135.9V100.4H128.3Z"/><path fill="#00EFFF" d="M97.7 100.4H105.4V108.2H97.7Z"/><path fill="#60FF9F" d="M105.4 100.4H113.0V108.2H105.4Z"/><path fill="#00BFFF" d="M113.0 100.4H120.7V108.2H113.0Z"/><path fill="#00AFFF" d="M120.7 100.4H128.3V108.2H120.7Z"/><path fill="#0000FF" d="M151.2 170.1H158.9V177.9H151.2Z"/><path fill="#0000EF" d="M158.9 170.1H166.5V177.9H158.9Z"/><path fill="#0000DF" d="M143.6 177.9H151.2V185.6H143.6Z"/><path fill="#0000FF" d="M151.2 177.9H158.9V185.6H151.2Z"/><path fill="#0000FF" d="M158.9 177.9H166.5V185.6H158.9Z"/><path fill="#0030FF" d="M166.5 177.9H174.2V185.6H166.5Z"/><path fill="#0000DF" d="M143.6 185.6H151.2V193.3H143.6Z"/><path fill="#0000FF" d="M151.2 185.6H158.9V193.3H151.2Z"/><path fill="#0000FF" d="M158.9 185.6H166.5V193.3H158.9Z"/><path fill="#0010FF" d="M166.5 185.6H174.2V193.3H166.5Z"/><path fill="#0000FF" d="M174.2 185.6H181.8V193.3H174.2Z"/><path fill="#0080FF" d="M181.8 185.6H189.5V193.3H181.8Z"/><path fill="#0000DF" d="M135.9 193.3H143.6V201.0H135.9Z"/><path fill="#0000DF" d="M143.6 193.3H151.2V201.0H143.6Z"/><path fill="#0000FF" d="M151.2 193.3H158.9V201.0H151.2Z"/><path fill="#0060FF" d="M158.9 193.3H166.5V201.0H158.9Z"/><path fill="#0030FF" d="M166.5 193.3H174.2V201.0H166.5Z"/><path fill="#0020FF" d="M174.2 193.3H181.8V201.0H174.2Z"/><path fill="#0000FF" d="M181.8 193.3H189.5V201.0H181.8Z"/><path fill="#0060FF" d="M189.5 193.3H197.1V201.0H189.5Z"/><path fill="#0030FF" d="M197.1 193.3H204.7V201.0H197.1Z"/><path fill="#0020FF" d="M220.0 193.3H227.7V201.0H220.0Z"/><path fill="#0010FF" d="M227.7 193.3H235.3V201.0H227.7Z"/><path fill="#0000CF" d="M128.3 201.0H135.9V208.7H128.3Z"/><path fill="#0000DF" d="M135.9 201.0H143.6V208.7H135.9Z"/><path fill="#0000FF" d="M143.6 201.0H151.2V208.7H143.6Z"/><path fill="#0040FF" d="M151.2 201.0H158.9V208.7H151.2Z"/><path fill="#0040FF" d="M158.9 201.0H166.5V208.7H158.9Z"/><path fill="#0050FF" d="M166.5 201.0H174.2V208.7H166.5Z"/><path fill="#0020FF" d="M174.2 201.0H181.8V208.7H174.2Z"/><path fill="#0000EF" d="M181.8 201.0H189.5V208.7H181.8Z"/><path fill="#0000DF" d="M189.5 201.0H197.1V208.7H189.5Z"/><path fill="#0000EF" d="M197.1 201.0H204.7V208.7H197.1Z"/><path fill="#0000EF" d="M204.7 201.0H212.4V208.7H204.7Z"/><path fill="#0010FF" d="M220.0 201.0H227.7V208.7H220.0Z"/><path fill="#0000FF" d="M227.7 201.0H235.3V208.7H227.7Z"/><path fill="#0000BF" d="M235.3 201.0H243.0V208.7H235.3Z"/><path fill="#0000BF" d="M128.3 208.7H135.9V216.4H128.3Z"/><path fill="#0000CF" d="M135.9 208.7H143.6V216.4H135.9Z"/><path fill="#0030FF" d="M143.6 208.7H151.2V216.4H143.6Z"/><path fill="#0030FF" d="M151.2 208.7H158.9V216.4H151.2Z"/><path fill="#0050FF" d="M158.9 208.7H166.5V216.4H158.9Z"/><path fill="#0040FF" d="M166.5 208.7H174.2V216.4H166.5Z"/><path fill="#0010FF" d="M174.2 208.7H181.8V216.4H174.2Z"/><path fill="#0000EF" d="M181.8 208.7H189.5V216.4H181.8Z"/><path fill="#0000EF" d="M189.5 208.7H197.1V216.4H189.5Z"/><path fill="#0000EF" d="M197.1 208.7H204.7V216.4H197.1Z"/><path fill="#0000FF" d="M204.7 208.7H212.4V216.4H204.7Z"/><path fill="#0010FF" d="M220.0 208.7H227.7V216.4H220.0Z"/><path fill="#0000DF" d="M227.7 208.7H235.3V216.4H227.7Z"/><path fill="#0000DF" d="M235.3 208.7H243.0V216.4H235.3Z"/><path fill="#008FFF" d="M128.3 216.4H135.9V224.1H128.3Z"/><path fill="#0080FF" d="M135.9 216.4H143.6V224.1H135.9Z"/><path fill="#0010FF" d="M143.6 216.4H151.2V224.1H143.6Z"/><path fill="#0030FF" d="M151.2 216.4H158.9V224.1H151.2Z"/><path fill="#0050FF" d="M158.9 216.4H166.5V224.1H158.9Z"/><path fill="#0010FF" d="M166.5 216.4H174.2V224.1H166.5Z"/><path fill="#0000EF" d="M174.2 216.4H181.8V224.1H174.2Z"/><path fill="#0000EF" d="M181.8 216.4H189.5V224.1H181.8Z"/><path fill="#0000EF" d="M189.5 216.4H197.1V224.1H189.5Z"/><path fill="#0000EF" d="M197.1 216.4H204.7V224.1H197.1Z"/><path fill="#0000EF" d="M204.7 216.4H212.4V224.1H204.7Z"/><path fill="#0000DF" d="M212.4 216.4H220.0V224.1H212.4Z"/><path fill="#0000DF" d="M220.0 216.4H227.7V224.1H220.0Z"/><path fill="#0070FF" d="M135.9 224.1H143.6V231.7H135.9Z"/><path fill="#0030FF" d="M143.6 224.1H151.2V231.7H143.6Z"/><path fill="#0040FF" d="M151.2 224.1H158.9V231.7H151.2Z"/><path fill="#0040FF" d="M158.9 224.1H166.5V231.7H158.9Z"/><path fill="#0020FF" d="M166.5 224.1H174.2V231.7H166.5Z"/><path fill="#0000FF" d="M174.2 224.1H181.8V231.7H174.2Z"/><path fill="#0000DF" d="M181.8 224.1H189.5V231.7H181.8Z"/><path fill="#0000DF" d="M189.5 224.1H197.1V231.7H189.5Z"/><path fill="#0000DF" d="M197.1 224.1H204.7V231.7H197.1Z"/><path fill="#0000EF" d="M204.7 224.1H212.4V231.7H204.7Z"/><path fill="#0000DF" d="M212.4 224.1H220.0V231.7H212.4Z"/><path fill="#0050FF" d="M135.9 231.7H143.6V239.4H135.9Z"/><path fill="#0020FF" d="M143.6 231.7H151.2V239.4H143.6Z"/><path fill="#0040FF" d="M151.2 231.7H158.9V239.4H151.2Z"/><path fill="#00AFFF" d="M158.9 231.7H166.5V239.4H158.9Z"/><path fill="#0080FF" d="M166.5 231.7H174.2V239.4H166.5Z"/><path fill="#0030FF" d="M174.2 231.7H181.8V239.4H174.2Z"/><path fill="#0000EF" d="M181.8 231.7H189.5V239.4H181.8Z"/><path fill="#0000CF" d="M189.5 231.7H197.1V239.4H189.5Z"/><path fill="#0000DF" d="M197.1 231.7H204.7V239.4H197.1Z"/><path fill="#0000EF" d="M204.7 231.7H212.4V239.4H204.7Z"/><path fill="#0000EF" d="M135.9 239.4H143.6V247.1H135.9Z"/><path fill="#0010FF" d="M143.6 239.4H151.2V247.1H143.6Z"/><path fill="#0050FF" d="M151.2 239.4H158.9V247.1H151.2Z"/><path fill="#009FFF" d="M158.9 239.4H166.5V247.1H158.9Z"/><path fill="#009FFF" d="M166.5 239.4H174.2V247.1H166.5Z"/><path fill="#0080FF" d="M174.2 239.4H181.8V247.1H174.2Z"/><path fill="#0030FF" d="M181.8 239.4H189.5V247.1H181.8Z"/><path fill="#0000CF" d="M189.5 239.4H197.1V247.1H189.5Z"/><path fill="#0000DF" d="M197.1 239.4H204.7V247.1H197.1Z"/><path fill="#0000FF" d="M143.6 247.1H151.2V254.8H143.6Z"/><path fill="#0040FF" d="M151.2 247.1H158.9V254.8H151.2Z"/><path fill="#008FFF" d="M158.9 247.1H166.5V254.8H158.9Z"/><path fill="#0050FF" d="M166.5 247.1H174.2V254.8H166.5Z"/><path fill="#0070FF" d="M174.2 247.1H181.8V254.8H174.2Z"/><path fill="#0060FF" d="M181.8 247.1H189.5V254.8H181.8Z"/><path fill="#0000FF" d="M189.5 247.1H197.1V254.8H189.5Z"/><path fill="#0030FF" d="M151.2 254.8H158.9V262.4H151.2Z"/><path fill="#0010FF" d="M158.9 254.8H166.5V262.4H158.9Z"/><path fill="#0020FF" d="M166.5 254.8H174.2V262.4H166.5Z"/><path fill="#0040FF" d="M174.2 254.8H181.8V262.4H174.2Z"/><path fill="#0040FF" d="M181.8 254.8H189.5V262.4H181.8Z"/><path fill="#0060FF" d="M158.9 262.4H166.5V270.1H158.9Z"/><path fill="#0040FF" d="M166.5 262.4H174.2V270.1H166.5Z"/><path fill="#8FFF70" d="M105.4 262.4H113.0V270.1H105.4Z"/><path fill="#00CFFF" d="M105.4 270.1H113.0V277.7H105.4Z"/><path fill="#0030FF" d="M105.4 277.7H113.0V285.4H105.4Z"/><path fill="#0000FF" d="M105.4 285.4H113.0V293.0H105.4Z"/><path fill="#00AFFF" d="M105.4 293.0H113.0V300.7H105.4Z"/><path fill="#0000FF" d="M97.7 300.7H105.4V308.3H97.7Z"/><path fill="#00EFFF" d="M105.4 300.7H113.0V308.3H105.4Z"/><path fill="#0000FF" d="M97.7 308.3H105.4V315.9H97.7Z"/><path fill="#0000AF" d="M105.4 308.3H113.0V315.9H105.4Z"/><path fill="#0000BF" d="M220.0 270.1H227.7V277.7H220.0Z"/><path fill="#00009F" d="M227.7 270.1H235.3V277.7H227.7Z"/><path fill="#00009F" d="M235.3 270.1H243.0V277.7H235.3Z"/><path fill="#0000FF" d="M189.5 277.7H197.1V285.4H189.5Z"/><path fill="#0000EF" d="M197.1 277.7H204.7V285.4H197.1Z"/><path fill="#0000DF" d="M204.7 277.7H212.4V285.4H204.7Z"/><path fill="#0000DF" d="M212.4 277.7H220.0V285.4H212.4Z"/><path fill="#0000DF" d="M220.0 277.7H227.7V285.4H220.0Z"/><path fill="#0000BF" d="M227.7 277.7H235.3V285.4H227.7Z"/><path fill="#0000CF" d="M235.3 277.7H243.0V285.4H235.3Z"/><path fill="#0000DF" d="M181.8 285.4H189.5V293.0H181.8Z"/><path fill="#0000DF" d="M189.5 285.4H197.1V293.0H189.5Z"/><path fill="#0000BF" d="M197.1 285.4H204.7V293.0H197.1Z"/><path fill="#0000DF" d="M204.7 285.4H212.4V293.0H204.7Z"/><path fill="#0000DF" d="M212.4 285.4H220.0V293.0H212.4Z"/><path fill="#0000BF" d="M220.0 285.4H227.7V293.0H220.0Z"/><path fill="#0000DF" d="M227.7 285.4H235.3V293.0H227.7Z"/><path fill="#0000CF" d="M235.3 285.4H243.0V293.0H235.3Z"/><path fill="#0000FF" d="M174.2 293.0H181.8V300.7H174.2Z"/><path fill="#0000BF" d="M181.8 293.0H189.5V300.7H181.8Z"/><path fill="#0000BF" d="M189.5 293.0H197.1V300.7H189.5Z"/><path fill="#0000BF" d="M197.1 293.0H204.7V300.7H197.1Z"/><path fill="#0000DF" d="M204.7 293.0H212.4V300.7H204.7Z"/><path fill="#0000DF" d="M212.4 293.0H220.0V300.7H212.4Z"/><path fill="#0000CF" d="M220.0 293.0H227.7V300.7H220.0Z"/><path fill="#0000BF" d="M227.7 293.0H235.3V300.7H227.7Z"/><path fill="#0000CF" d="M181.8 300.7H189.5V308.3H181.8Z"/><path fill="#0000BF" d="M189.5 300.7H197.1V308.3H189.5Z"/><path fill="#0000CF" d="M181.8 308.3H189.5V315.9H181.8Z"/><path fill="#0000CF" d="M189.5 308.3H197.1V315.9H189.5Z"/><path fill="#0000BF" d="M174.2 315.9H181.8V323.5H174.2Z"/><path fill="#0000CF" d="M181.8 315.9H189.5V323.5H181.8Z"/><path fill="#0000CF" d="M189.5 315.9H197.1V323.5H189.5Z"/><path fill="#0000AF" d="M174.2 323.5H181.8V331.2H174.2Z"/><path fill="#0000BF" d="M181.8 323.5H189.5V331.2H181.8Z"/><path fill="#00009F" d="M189.5 323.5H197.1V331.2H189.5Z"/><path fill="#0000BF" d="M181.8 331.2H189.5V338.8H181.8Z"/></g>
<use href="#landfill" fill="#80E680" stroke="#000" stroke-width="0.9" stroke-linejoin="round"/><g clip-path="url(#landclip)"><g stroke="#000" stroke-opacity="0.36" stroke-width="0.75" stroke-dasharray="2.3 5.95" fill="none"><path d="M58.0 0V427.6"/><path d="M116.0 0V427.6"/><path d="M174.0 0V427.6"/><path d="M232.0 0V427.6"/><path d="M290.0 0V427.6"/><path d="M0 72.4H348.0"/><path d="M0 144.3H348.0"/><path d="M0 215.8H348.0"/><path d="M0 286.8H348.0"/><path d="M0 357.4H348.0"/></g><g stroke="#222" stroke-width="0.85" fill="none"><path d="M58.0 0v4.4M58.0 427.6v-4.4"/><path d="M116.0 0v4.4M116.0 427.6v-4.4"/><path d="M174.0 0v4.4M174.0 427.6v-4.4"/><path d="M232.0 0v4.4M232.0 427.6v-4.4"/><path d="M290.0 0v4.4M290.0 427.6v-4.4"/><path d="M0 72.4h4.4M348.0 72.4h-4.4"/><path d="M0 144.3h4.4M348.0 144.3h-4.4"/><path d="M0 215.8h4.4M348.0 215.8h-4.4"/><path d="M0 286.8h4.4M348.0 286.8h-4.4"/><path d="M0 357.4h4.4M348.0 357.4h-4.4"/></g></g><path d="M60.4 20.3 62.0 27.9 64.5 36.5 66.7 45.1 70.6 52.9 72.3 59.8 74.0 66.7 75.8 73.6 77.5 80.5 79.2 87.4 81.4 96.9 84.4 106.3 87.0 115.0 89.6 123.6 93.0 132.2 96.5 139.1 99.9 146.0 103.4 152.9 106.0 159.8 108.5 165.8 111.1 172.8 113.7 179.7 116.3 186.6 118.5 193.4 120.2 201.2 118.9 197.7 120.2 202.9 119.8 208.9 118.5 214.9 117.2 223.6 115.9 232.2 114.1 238.2 112.8 244.3 112.7 244.4 113.0 250.2" fill="none" stroke="#000" stroke-width="1.25" stroke-linejoin="round"/><path d="M113.0 250.2 108.4 251.8 103.5 253.0 95.2 256.8 85.3 261.0 75.5 266.0 67.2 270.3 59.0 275.9 52.4 281.0 45.8 286.7 37.6 294.1 29.3 302.2 21.1 310.4 12.9 319.4 6.3 326.3 0.5 333.5" fill="none" stroke="#000" stroke-width="2.0" stroke-linejoin="round"/><path d="M5.9 117.5 11.9 122.7 18.0 127.0 21.4 130.1" fill="none" stroke="#000" stroke-width="2.6"/><path d="M5.9 117.5 11.9 122.7 18.0 127.0 21.4 130.1" fill="none" stroke="#fff" stroke-width="1.1"/><path d="M25.7 116.7 30.0 121.8 34.4 127.0" fill="none" stroke="#000" stroke-width="2.6"/><path d="M25.7 116.7 30.0 121.8 34.4 127.0" fill="none" stroke="#fff" stroke-width="1.1"/><use href="#dots"/>
<g fill="none" stroke="#000" stroke-width="0.8"><path d="M135.9 37.7 128.9 41.5 125.0 47.9 123.8 54.2 119.9 61.9 123.8 66.3"/><path d="M137.8 73.6 142.9 69.5 149.2 59.3 151.8 54.2"/><path d="M147.9 38.3 151.1 40.2"/><path d="M134.6 93.1 138.4 90.5"/></g><text x="130.1" y="74.8" font-size="11.5" text-anchor="middle" fill="#000" transform="rotate(38 130.1 70.8)">30</text>
<g stroke="#FF0000" stroke-width="1.2" fill="none" stroke-linecap="butt"><path d="M58.2 45.2h16.6M66.5 36.9v16.6M60.6 39.3l11.7 11.7M60.6 51.1l11.7 -11.7"/></g>
<g stroke="#FF0000" stroke-width="1.2" fill="none" stroke-linecap="butt"><path d="M95.9 157.0h16.6M104.2 148.7v16.6M98.3 151.1l11.7 11.7M98.3 162.9l11.7 -11.7"/></g>
<g stroke="#FF0000" stroke-width="1.2" fill="none" stroke-linecap="butt"><path d="M105.5 250.0h16.6M113.8 241.7v16.6M107.9 244.1l11.7 11.7M107.9 255.9l11.7 -11.7"/></g>
<g stroke="#FF0000" stroke-width="1.2" fill="none" stroke-linecap="butt"><path d="M1.8 320.9h16.6M10.1 312.6v16.6M4.2 315.0l11.7 11.7M4.2 326.8l11.7 -11.7"/></g>
</g>
<path d="M0 0V427.6" stroke="#111" stroke-width="1.05"/>
<rect x="3.7" y="19.7" width="113.5" height="25.2" fill="url(#jet)" stroke="#2a2a2a" stroke-width="1.1"/><text x="3.1" y="6.9" font-size="16.70" text-anchor="middle" fill="#262626">0</text><text x="96.3" y="6.9" font-size="16.70" text-anchor="middle" fill="#262626">50</text>
<text x="341" y="36.9" font-size="20.8" text-anchor="end" fill="#000">10 km</text><path d="M306.5 43.2h14.3" stroke="#000" stroke-width="3.2" stroke-linecap="round"/>
<text x="-6.4" y="7.2" font-size="21.2" text-anchor="end" fill="#000">37°N</text><text x="-6.4" y="151.5" font-size="21.2" text-anchor="end" fill="#000">36°N</text><text x="-6.4" y="294.0" font-size="21.2" text-anchor="end" fill="#000">35°N</text><text x="-6.4" y="434.8" font-size="21.2" text-anchor="end" fill="#000">34°N</text><text x="-5.6" y="78.7" font-size="16.5" text-anchor="end" fill="#000">30'</text><text x="-5.6" y="222.1" font-size="16.5" text-anchor="end" fill="#000">30'</text><text x="-5.6" y="363.7" font-size="16.5" text-anchor="end" fill="#000">30'</text><text x="58.0" y="448.6" font-size="21.2" text-anchor="middle" fill="#000">76°W</text><text x="174.0" y="448.6" font-size="21.2" text-anchor="middle" fill="#000">75°W</text><text x="290.0" y="448.6" font-size="21.2" text-anchor="middle" fill="#000">74°W</text><text x="-0.6" y="444.8" font-size="16.5" text-anchor="middle" fill="#000">30'</text><text x="115.4" y="444.8" font-size="16.5" text-anchor="middle" fill="#000">30'</text><text x="231.4" y="444.8" font-size="16.5" text-anchor="middle" fill="#000">30'</text><text x="347.4" y="444.8" font-size="16.5" text-anchor="middle" fill="#000">30'</text>
<text x="173.8" y="-12.2" font-size="20.80" font-weight="bold" text-anchor="middle" fill="#000">FitDif TotalErrors (30)</text>
<text x="36.6" y="-20.6" font-size="20.8" fill="#262626">cm/s</text>
</g>
<g transform="translate(843.6,742.6)">
<rect x="0" y="0" width="348.0" height="427.6" fill="none" stroke="#303030" stroke-width="0.95"/>
<g stroke="#222" stroke-width="0.85" fill="none"><path d="M58.0 0v4.4M58.0 427.6v-4.4"/><path d="M116.0 0v4.4M116.0 427.6v-4.4"/><path d="M174.0 0v4.4M174.0 427.6v-4.4"/><path d="M232.0 0v4.4M232.0 427.6v-4.4"/><path d="M290.0 0v4.4M290.0 427.6v-4.4"/><path d="M0 72.4h4.4M348.0 72.4h-4.4"/><path d="M0 144.3h4.4M348.0 144.3h-4.4"/><path d="M0 215.8h4.4M348.0 215.8h-4.4"/><path d="M0 286.8h4.4M348.0 286.8h-4.4"/><path d="M0 357.4h4.4M348.0 357.4h-4.4"/></g>
<g clip-path="url(#axclip)">
<g stroke="#000" stroke-opacity="0.36" stroke-width="0.75" stroke-dasharray="2.3 5.95" fill="none"><path d="M58.0 0V427.6"/><path d="M116.0 0V427.6"/><path d="M174.0 0V427.6"/><path d="M232.0 0V427.6"/><path d="M290.0 0V427.6"/><path d="M0 72.4H348.0"/><path d="M0 144.3H348.0"/><path d="M0 215.8H348.0"/><path d="M0 286.8H348.0"/><path d="M0 357.4H348.0"/></g>
<g shape-rendering="crispEdges"><path fill="#20FFDF" d="M67.2 -1.0H82.4V6.8H67.2ZM105.4 -1.0H189.5V6.8H105.4ZM67.2 6.8H158.9V14.6H67.2ZM166.5 6.8H189.5V14.6H166.5ZM74.8 14.6H105.4V22.5H74.8ZM128.3 14.6H166.5V22.5H128.3ZM74.8 22.5H90.1V30.3H74.8ZM135.9 22.5H158.9V30.3H135.9ZM158.9 84.9H166.5V92.7H158.9ZM158.9 92.7H174.2V100.4H158.9Z"/><path fill="#8FFF70" d="M82.4 -1.0H105.4V6.8H82.4ZM105.4 14.6H128.3V22.5H105.4ZM90.1 22.5H135.9V30.3H90.1ZM74.8 30.3H158.9V38.1H74.8ZM74.8 38.1H158.9V45.9H74.8ZM74.8 45.9H158.9V53.7H74.8ZM82.4 53.7H158.9V61.5H82.4ZM82.4 61.5H158.9V69.3H82.4ZM82.4 69.3H158.9V77.1H82.4ZM82.4 77.1H174.2V84.9H82.4ZM82.4 84.9H158.9V92.7H82.4ZM166.5 84.9H181.8V92.7H166.5ZM90.1 92.7H135.9V100.4H90.1ZM97.7 100.4H128.3V108.2H97.7Z"/><path fill="#00008F" d="M189.5 -1.0H250.6V6.8H189.5ZM281.2 -1.0H288.8V6.8H281.2ZM311.8 -1.0H350.0V6.8H311.8ZM158.9 6.8H166.5V14.6H158.9ZM189.5 6.8H258.3V14.6H189.5ZM288.8 6.8H296.5V14.6H288.8ZM319.4 6.8H350.0V14.6H319.4ZM166.5 14.6H265.9V22.5H166.5ZM319.4 14.6H350.0V22.5H319.4ZM166.5 22.5H273.5V30.3H166.5ZM327.0 22.5H350.0V30.3H327.0ZM174.2 30.3H273.5V38.1H174.2ZM327.0 30.3H350.0V38.1H327.0ZM174.2 38.1H304.1V45.9H174.2ZM327.0 38.1H350.0V45.9H327.0ZM174.2 45.9H350.0V53.7H174.2ZM174.2 53.7H350.0V61.5H174.2ZM189.5 61.5H197.1V69.3H189.5ZM204.7 61.5H350.0V69.3H204.7ZM212.4 69.3H258.3V77.1H212.4ZM273.5 69.3H350.0V77.1H273.5ZM212.4 77.1H250.6V84.9H212.4ZM281.2 77.1H350.0V84.9H281.2ZM212.4 84.9H220.0V92.7H212.4ZM227.7 84.9H258.3V92.7H227.7ZM273.5 84.9H350.0V92.7H273.5ZM243.0 92.7H350.0V100.4H243.0ZM250.6 100.4H350.0V108.2H250.6ZM250.6 108.2H350.0V116.0H250.6ZM243.0 116.0H350.0V123.7H243.0ZM243.0 123.7H350.0V131.5H243.0ZM258.3 131.5H350.0V139.2H258.3ZM265.9 139.2H350.0V146.9H265.9ZM258.3 146.9H350.0V154.7H258.3ZM250.6 154.7H350.0V162.4H250.6ZM250.6 162.4H350.0V170.1H250.6ZM243.0 170.1H350.0V177.9H243.0ZM243.0 177.9H350.0V185.6H243.0ZM243.0 185.6H350.0V193.3H243.0ZM243.0 193.3H350.0V201.0H243.0ZM243.0 201.0H350.0V208.7H243.0ZM243.0 208.7H350.0V216.4H243.0ZM250.6 216.4H296.5V224.1H250.6ZM311.8 216.4H350.0V224.1H311.8ZM258.3 224.1H288.8V231.7H258.3ZM319.4 224.1H350.0V231.7H319.4ZM258.3 231.7H296.5V239.4H258.3ZM311.8 231.7H350.0V239.4H311.8ZM258.3 239.4H350.0V247.1H258.3ZM258.3 247.1H350.0V254.8H258.3ZM258.3 254.8H350.0V262.4H258.3ZM250.6 262.4H350.0V270.1H250.6ZM67.2 270.1H82.4V277.7H67.2ZM250.6 270.1H350.0V277.7H250.6ZM250.6 277.7H350.0V285.4H250.6ZM250.6 285.4H350.0V293.0H250.6ZM250.6 293.0H350.0V300.7H250.6ZM250.6 300.7H350.0V308.3H250.6ZM243.0 308.3H350.0V315.9H243.0ZM113.0 315.9H128.3V323.5H113.0ZM243.0 315.9H350.0V323.5H243.0ZM120.7 323.5H151.2V331.2H120.7ZM235.3 323.5H350.0V331.2H235.3ZM120.7 331.2H158.9V338.8H120.7ZM227.7 331.2H350.0V338.8H227.7ZM120.7 338.8H158.9V346.4H120.7ZM227.7 338.8H350.0V346.4H227.7ZM113.0 346.4H158.9V354.0H113.0ZM197.1 346.4H350.0V354.0H197.1ZM135.9 354.0H158.9V361.6H135.9ZM181.8 354.0H350.0V361.6H181.8ZM143.6 361.6H158.9V369.2H143.6ZM181.8 361.6H350.0V369.2H181.8ZM90.1 369.2H120.7V376.8H90.1ZM135.9 369.2H166.5V376.8H135.9ZM174.2 369.2H350.0V376.8H174.2ZM90.1 376.8H350.0V384.3H90.1ZM82.4 384.3H350.0V391.9H82.4ZM74.8 391.9H350.0V399.5H74.8ZM67.2 399.5H350.0V407.1H67.2ZM6.0 407.1H21.3V414.6H6.0ZM51.9 407.1H350.0V414.6H51.9ZM6.0 414.6H350.0V422.2H6.0ZM6.0 422.2H350.0V429.7H6.0Z"/><path fill="#0000EF" d="M250.6 -1.0H281.2V6.8H250.6ZM288.8 -1.0H311.8V6.8H288.8ZM258.3 6.8H288.8V14.6H258.3ZM296.5 6.8H319.4V14.6H296.5ZM265.9 14.6H319.4V22.5H265.9ZM158.9 22.5H166.5V30.3H158.9ZM273.5 22.5H327.0V30.3H273.5ZM158.9 30.3H174.2V38.1H158.9ZM273.5 30.3H327.0V38.1H273.5ZM158.9 38.1H174.2V45.9H158.9ZM304.1 38.1H327.0V45.9H304.1ZM158.9 45.9H174.2V53.7H158.9ZM158.9 53.7H174.2V61.5H158.9ZM158.9 61.5H189.5V69.3H158.9ZM197.1 61.5H204.7V69.3H197.1ZM158.9 69.3H212.4V77.1H158.9ZM258.3 69.3H273.5V77.1H258.3ZM174.2 77.1H212.4V84.9H174.2ZM250.6 77.1H281.2V84.9H250.6ZM181.8 84.9H212.4V92.7H181.8ZM220.0 84.9H227.7V92.7H220.0ZM258.3 84.9H273.5V92.7H258.3ZM135.9 92.7H158.9V100.4H135.9ZM174.2 92.7H243.0V100.4H174.2ZM90.1 100.4H97.7V108.2H90.1ZM128.3 100.4H250.6V108.2H128.3ZM97.7 108.2H250.6V116.0H97.7ZM97.7 116.0H243.0V123.7H97.7ZM97.7 123.7H243.0V131.5H97.7ZM105.4 131.5H258.3V139.2H105.4ZM105.4 139.2H265.9V146.9H105.4ZM105.4 146.9H258.3V154.7H105.4ZM113.0 154.7H250.6V162.4H113.0ZM113.0 162.4H250.6V170.1H113.0ZM120.7 170.1H151.2V177.9H120.7ZM166.5 170.1H243.0V177.9H166.5ZM120.7 177.9H143.6V185.6H120.7ZM174.2 177.9H243.0V185.6H174.2ZM120.7 185.6H143.6V193.3H120.7ZM189.5 185.6H243.0V193.3H189.5ZM120.7 193.3H135.9V201.0H120.7ZM204.7 193.3H220.0V201.0H204.7ZM235.3 193.3H243.0V201.0H235.3ZM120.7 201.0H128.3V208.7H120.7ZM212.4 201.0H220.0V208.7H212.4ZM120.7 208.7H128.3V216.4H120.7ZM212.4 208.7H220.0V216.4H212.4ZM296.5 216.4H311.8V224.1H296.5ZM288.8 224.1H319.4V231.7H288.8ZM296.5 231.7H311.8V239.4H296.5Z"/><path fill="#00BFFF" d="M151.2 170.1H166.5V177.9H151.2ZM143.6 177.9H174.2V185.6H143.6ZM143.6 185.6H189.5V193.3H143.6ZM135.9 193.3H204.7V201.0H135.9ZM220.0 193.3H235.3V201.0H220.0ZM128.3 201.0H212.4V208.7H128.3ZM220.0 201.0H243.0V208.7H220.0ZM128.3 208.7H212.4V216.4H128.3ZM220.0 208.7H243.0V216.4H220.0ZM128.3 216.4H235.3V224.1H128.3ZM135.9 224.1H220.0V231.7H135.9ZM135.9 231.7H212.4V239.4H135.9ZM135.9 239.4H204.7V247.1H135.9ZM143.6 247.1H197.1V254.8H143.6ZM151.2 254.8H189.5V262.4H151.2ZM158.9 262.4H174.2V270.1H158.9ZM220.0 270.1H243.0V277.7H220.0ZM189.5 277.7H243.0V285.4H189.5ZM181.8 285.4H243.0V293.0H181.8ZM174.2 293.0H235.3V300.7H174.2ZM181.8 300.7H197.1V308.3H181.8ZM181.8 308.3H197.1V315.9H181.8ZM174.2 315.9H197.1V323.5H174.2ZM174.2 323.5H197.1V331.2H174.2ZM181.8 331.2H189.5V338.8H181.8Z"/><path fill="#0050FF" d="M120.7 216.4H128.3V224.1H120.7ZM235.3 216.4H250.6V224.1H235.3ZM120.7 224.1H135.9V231.7H120.7ZM220.0 224.1H258.3V231.7H220.0ZM120.7 231.7H135.9V239.4H120.7ZM212.4 231.7H258.3V239.4H212.4ZM120.7 239.4H135.9V247.1H120.7ZM204.7 239.4H258.3V247.1H204.7ZM120.7 247.1H143.6V254.8H120.7ZM197.1 247.1H258.3V254.8H197.1ZM105.4 254.8H151.2V262.4H105.4ZM189.5 254.8H258.3V262.4H189.5ZM113.0 262.4H158.9V270.1H113.0ZM174.2 262.4H250.6V270.1H174.2ZM113.0 270.1H220.0V277.7H113.0ZM243.0 270.1H250.6V277.7H243.0ZM113.0 277.7H189.5V285.4H113.0ZM243.0 277.7H250.6V285.4H243.0ZM113.0 285.4H181.8V293.0H113.0ZM243.0 285.4H250.6V293.0H243.0ZM113.0 293.0H174.2V300.7H113.0ZM235.3 293.0H250.6V300.7H235.3ZM113.0 300.7H181.8V308.3H113.0ZM197.1 300.7H250.6V308.3H197.1ZM113.0 308.3H181.8V315.9H113.0ZM197.1 308.3H243.0V315.9H197.1ZM128.3 315.9H174.2V323.5H128.3ZM197.1 315.9H243.0V323.5H197.1ZM151.2 323.5H174.2V331.2H151.2ZM197.1 323.5H235.3V331.2H197.1ZM158.9 331.2H181.8V338.8H158.9ZM189.5 331.2H227.7V338.8H189.5ZM158.9 338.8H227.7V346.4H158.9ZM158.9 346.4H197.1V354.0H158.9ZM113.0 354.0H135.9V361.6H113.0ZM158.9 354.0H181.8V361.6H158.9ZM113.0 361.6H143.6V369.2H113.0ZM158.9 361.6H181.8V369.2H158.9ZM120.7 369.2H135.9V376.8H120.7ZM166.5 369.2H174.2V376.8H166.5Z"/><path fill="#FF4000" d="M90.1 254.8H105.4V262.4H90.1ZM82.4 262.4H105.4V270.1H82.4ZM82.4 270.1H105.4V277.7H82.4ZM59.5 277.7H105.4V285.4H59.5ZM51.9 285.4H105.4V293.0H51.9ZM44.2 293.0H105.4V300.7H44.2ZM36.6 300.7H97.7V308.3H36.6ZM28.9 308.3H97.7V315.9H28.9ZM21.3 315.9H113.0V323.5H21.3ZM13.6 323.5H120.7V331.2H13.6ZM13.6 331.2H120.7V338.8H13.6ZM6.0 338.8H120.7V346.4H6.0ZM6.0 346.4H113.0V354.0H6.0ZM6.0 354.0H113.0V361.6H6.0ZM6.0 361.6H113.0V369.2H6.0ZM6.0 369.2H90.1V376.8H6.0ZM6.0 376.8H90.1V384.3H6.0ZM6.0 384.3H82.4V391.9H6.0ZM6.0 391.9H74.8V399.5H6.0ZM6.0 399.5H67.2V407.1H6.0ZM21.3 407.1H51.9V414.6H21.3Z"/><path fill="#800000" d="M105.4 262.4H113.0V270.1H105.4ZM105.4 270.1H113.0V277.7H105.4ZM105.4 277.7H113.0V285.4H105.4ZM105.4 285.4H113.0V293.0H105.4ZM105.4 293.0H113.0V300.7H105.4ZM97.7 300.7H113.0V308.3H97.7ZM97.7 308.3H113.0V315.9H97.7Z"/></g>
<use href="#landfill" fill="#80E680" stroke="#000" stroke-width="0.9" stroke-linejoin="round"/><g clip-path="url(#landclip)"><g stroke="#000" stroke-opacity="0.36" stroke-width="0.75" stroke-dasharray="2.3 5.95" fill="none"><path d="M58.0 0V427.6"/><path d="M116.0 0V427.6"/><path d="M174.0 0V427.6"/><path d="M232.0 0V427.6"/><path d="M290.0 0V427.6"/><path d="M0 72.4H348.0"/><path d="M0 144.3H348.0"/><path d="M0 215.8H348.0"/><path d="M0 286.8H348.0"/><path d="M0 357.4H348.0"/></g><g stroke="#222" stroke-width="0.85" fill="none"><path d="M58.0 0v4.4M58.0 427.6v-4.4"/><path d="M116.0 0v4.4M116.0 427.6v-4.4"/><path d="M174.0 0v4.4M174.0 427.6v-4.4"/><path d="M232.0 0v4.4M232.0 427.6v-4.4"/><path d="M290.0 0v4.4M290.0 427.6v-4.4"/><path d="M0 72.4h4.4M348.0 72.4h-4.4"/><path d="M0 144.3h4.4M348.0 144.3h-4.4"/><path d="M0 215.8h4.4M348.0 215.8h-4.4"/><path d="M0 286.8h4.4M348.0 286.8h-4.4"/><path d="M0 357.4h4.4M348.0 357.4h-4.4"/></g></g><path d="M60.4 20.3 62.0 27.9 64.5 36.5 66.7 45.1 70.6 52.9 72.3 59.8 74.0 66.7 75.8 73.6 77.5 80.5 79.2 87.4 81.4 96.9 84.4 106.3 87.0 115.0 89.6 123.6 93.0 132.2 96.5 139.1 99.9 146.0 103.4 152.9 106.0 159.8 108.5 165.8 111.1 172.8 113.7 179.7 116.3 186.6 118.5 193.4 120.2 201.2 118.9 197.7 120.2 202.9 119.8 208.9 118.5 214.9 117.2 223.6 115.9 232.2 114.1 238.2 112.8 244.3 112.7 244.4 113.0 250.2" fill="none" stroke="#000" stroke-width="1.25" stroke-linejoin="round"/><path d="M113.0 250.2 108.4 251.8 103.5 253.0 95.2 256.8 85.3 261.0 75.5 266.0 67.2 270.3 59.0 275.9 52.4 281.0 45.8 286.7 37.6 294.1 29.3 302.2 21.1 310.4 12.9 319.4 6.3 326.3 0.5 333.5" fill="none" stroke="#000" stroke-width="2.0" stroke-linejoin="round"/><path d="M5.9 117.5 11.9 122.7 18.0 127.0 21.4 130.1" fill="none" stroke="#000" stroke-width="2.6"/><path d="M5.9 117.5 11.9 122.7 18.0 127.0 21.4 130.1" fill="none" stroke="#fff" stroke-width="1.1"/><path d="M25.7 116.7 30.0 121.8 34.4 127.0" fill="none" stroke="#000" stroke-width="2.6"/><path d="M25.7 116.7 30.0 121.8 34.4 127.0" fill="none" stroke="#fff" stroke-width="1.1"/><use href="#dots"/>

<g stroke="#FF0000" stroke-width="1.2" fill="none" stroke-linecap="butt"><path d="M58.2 45.2h16.6M66.5 36.9v16.6M60.6 39.3l11.7 11.7M60.6 51.1l11.7 -11.7"/></g>
<g stroke="#FF0000" stroke-width="1.2" fill="none" stroke-linecap="butt"><path d="M95.9 157.0h16.6M104.2 148.7v16.6M98.3 151.1l11.7 11.7M98.3 162.9l11.7 -11.7"/></g>
<g stroke="#FF0000" stroke-width="1.2" fill="none" stroke-linecap="butt"><path d="M105.5 250.0h16.6M113.8 241.7v16.6M107.9 244.1l11.7 11.7M107.9 255.9l11.7 -11.7"/></g>
<g stroke="#FF0000" stroke-width="1.2" fill="none" stroke-linecap="butt"><path d="M1.8 320.9h16.6M10.1 312.6v16.6M4.2 315.0l11.7 11.7M4.2 326.8l11.7 -11.7"/></g>
</g>
<path d="M0 0V427.6" stroke="#111" stroke-width="1.05"/>
<rect x="3.7" y="19.7" width="111.3" height="25.2" fill="url(#jet)" stroke="#2a2a2a" stroke-width="1.1"/><text x="4.1" y="6.9" font-size="16.70" text-anchor="middle" fill="#262626">0</text><text x="58.7" y="6.9" font-size="16.70" text-anchor="middle" fill="#262626">5</text><text x="113.7" y="6.9" font-size="16.70" text-anchor="middle" fill="#262626">10</text>
<text x="341" y="36.9" font-size="20.8" text-anchor="end" fill="#000">10 km</text><path d="M306.5 43.2h14.3" stroke="#000" stroke-width="3.2" stroke-linecap="round"/>
<text x="-6.4" y="7.2" font-size="21.2" text-anchor="end" fill="#000">37°N</text><text x="-6.4" y="151.5" font-size="21.2" text-anchor="end" fill="#000">36°N</text><text x="-6.4" y="294.0" font-size="21.2" text-anchor="end" fill="#000">35°N</text><text x="-6.4" y="434.8" font-size="21.2" text-anchor="end" fill="#000">34°N</text><text x="-5.6" y="78.7" font-size="16.5" text-anchor="end" fill="#000">30'</text><text x="-5.6" y="222.1" font-size="16.5" text-anchor="end" fill="#000">30'</text><text x="-5.6" y="363.7" font-size="16.5" text-anchor="end" fill="#000">30'</text><text x="58.0" y="448.6" font-size="21.2" text-anchor="middle" fill="#000">76°W</text><text x="174.0" y="448.6" font-size="21.2" text-anchor="middle" fill="#000">75°W</text><text x="290.0" y="448.6" font-size="21.2" text-anchor="middle" fill="#000">74°W</text><text x="-0.6" y="444.8" font-size="16.5" text-anchor="middle" fill="#000">30'</text><text x="115.4" y="444.8" font-size="16.5" text-anchor="middle" fill="#000">30'</text><text x="231.4" y="444.8" font-size="16.5" text-anchor="middle" fill="#000">30'</text><text x="347.4" y="444.8" font-size="16.5" text-anchor="middle" fill="#000">30'</text>
<text x="173.5" y="-12.7" font-size="24.70" font-weight="bold" text-anchor="middle" fill="#000">Site Codes</text>

</g>
</svg></body></html>
